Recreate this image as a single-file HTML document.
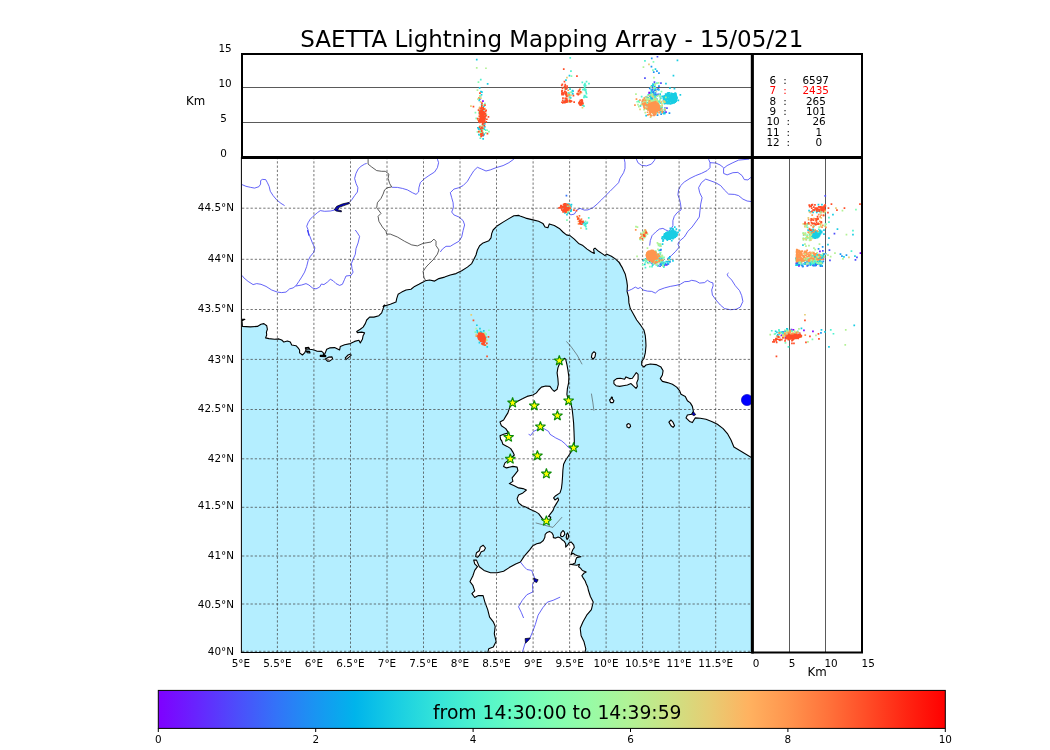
<!DOCTYPE html>
<html lang="en"><head><meta charset="utf-8"><title>SAETTA Lightning Mapping Array - 15/05/21</title>
<style>html,body{margin:0;padding:0;background:#fff;}body{width:1050px;height:750px;overflow:hidden;}svg{display:block;will-change:transform;}text{font-family:"DejaVu Sans","Liberation Sans",sans-serif;fill:#000;}</style>
</head><body>
<svg width="1050" height="750" viewBox="0 0 1050 750">
<defs>
<clipPath id="cm"><rect x="242" y="157" width="510" height="495.5"/></clipPath>
<clipPath id="ct"><rect x="242" y="54" width="510" height="103"/></clipPath>
<clipPath id="cr"><rect x="752" y="157" width="110" height="495.5"/></clipPath>
<linearGradient id="rb" x1="0" y1="0" x2="1" y2="0"><stop offset="0" stop-color="#7f00ff"/><stop offset="0.05" stop-color="#6725fe"/><stop offset="0.1" stop-color="#4d4dfb"/><stop offset="0.15" stop-color="#3373f8"/><stop offset="0.2" stop-color="#1995f2"/><stop offset="0.25" stop-color="#00b4eb"/><stop offset="0.3" stop-color="#18cde3"/><stop offset="0.35" stop-color="#32e2d9"/><stop offset="0.4" stop-color="#4cf2ce"/><stop offset="0.45" stop-color="#66fbc1"/><stop offset="0.5" stop-color="#80feb3"/><stop offset="0.55" stop-color="#98fba5"/><stop offset="0.6" stop-color="#b2f295"/><stop offset="0.65" stop-color="#cce284"/><stop offset="0.7" stop-color="#e6cd73"/><stop offset="0.75" stop-color="#ffb260"/><stop offset="0.8" stop-color="#ff954e"/><stop offset="0.85" stop-color="#ff733b"/><stop offset="0.9" stop-color="#ff4d27"/><stop offset="0.95" stop-color="#ff2512"/><stop offset="1" stop-color="#ff0000"/></linearGradient>
</defs>
<rect width="1050" height="750" fill="#fff"/>
<g clip-path="url(#cm)">
<rect x="242" y="157" width="510" height="496" fill="#b4eeff"/>
<path d="M236 319.3 L241.4 319.3 L244.9 319.3 L242 320.7 L242.4 326.4 L250.3 326.9 L257.4 326.4 L261 324.3 L263.9 323.6 L266.7 325.7 L267.4 329.3 L266.4 332.1 L266.7 335 L265.6 337.9 L268.9 338.6 L274.6 339.3 L278.9 338.9 L281.7 340 L283.9 342.1 L287.4 341 L290.3 342.1 L291.7 345 L296 345.7 L298.1 347.9 L299.6 350 L299.6 352.9 L302.4 355 L304.6 352.9 L306 350 L305.3 347.9 L308.9 347.9 L309.6 349.3 L313.1 349.7 L316.7 351.1 L321.7 351.4 L323.4 352.9 L323.4 355.7 L325.3 352.9 L326.7 349.3 L329.6 347.9 L334.6 347.6 L338.1 349.3 L339.6 350 L340.3 346.4 L344.6 344.7 L350.3 343.6 L354.6 341.4 L358.9 340.3 L360.3 342.9 L362.4 339.3 L363.1 335.7 L364.6 332.9 L361.7 332.1 L357.4 332.6 L356.7 331.4 L360.3 329.3 L363.1 327.1 L365.3 323.6 L366.7 320 L369.6 317.1 L373.9 317.1 L378.9 315.7 L381.7 312.9 L383.1 308.6 L384.6 305 L383.1 306.4 L390.3 304.3 L396 302.1 L396.7 298.6 L398.1 294.3 L401.7 292.1 L406 290 L411 289.3 L414.6 286.4 L418.9 284.3 L423.1 282.1 L425.3 280.7 L429.6 280 L434.6 281.1 L438.9 278.6 L444.6 277.1 L450.3 275 L456 273.6 L461.7 270.7 L467.4 267.1 L471.7 263.6 L473.9 259.3 L476 255 L477.4 250 L479.6 245.7 L483.1 242.9 L488.9 240.7 L491 237.9 L491.7 233.6 L493.1 230 L497.4 225.7 L503.1 222.1 L508.9 218.6 L513.9 215.7 L518.9 215.4 L520 215.9 L525.7 218.1 L532.9 219.9 L538.6 221.3 L542.9 223.4 L545 227 L547.9 227.7 L549.3 223.9 L554.3 225.6 L559.3 228.4 L562.9 232 L566.4 234.9 L570 235.6 L574.3 239.1 L578.6 243.4 L582.9 245.6 L587.1 249.1 L591.4 252 L594.3 253.4 L593.6 249.1 L595 248.1 L598.6 251.3 L602.9 254.1 L605 255.6 L606.4 254.1 L611.4 256.3 L615.7 259.1 L620 263.4 L618.9 262.1 L622.4 267.9 L625.3 274.3 L626.7 280.7 L627.4 285.7 L627.1 291.4 L628.6 297.1 L628.9 302.9 L630.3 308.6 L633.1 313.6 L636.7 320 L641 325.7 L643.9 330 L645.3 335.7 L645.7 340 L645.7 340 L646 345.7 L645.3 352.9 L643.9 358.6 L641.7 361.4 L641.7 365 L643.9 367.1 L646 365 L650.3 364 L656 364.6 L661 367.1 L663.1 370.7 L662.4 375 L660.3 378.6 L662.4 381.4 L667.4 382.6 L672.4 384.3 L676.7 387.1 L679.6 390.7 L681 394.3 L685.3 396.4 L687.4 400.7 L690.3 402.9 L692.4 406.4 L693.4 411.4 L691.7 414.3 L687.4 415 L686 417.9 L689.6 421.4 L692.4 422.6 L693.9 420 L695.3 417.9 L700.3 418.3 L706 419.3 L711.7 421.4 L717.4 424.3 L723.1 428.6 L727.4 433.6 L731 440 L733.9 447 L753.1 458.6 L760 470 L760 150 L236 150Z" fill="#fff" stroke="#000" stroke-width="1.1" stroke-linejoin="round"/>
<path d="M305.7 347.9 L308.6 347.4 L309.1 348.9 L306.7 349.3Z" fill="#fff" stroke="#000" stroke-width="1.1" stroke-linejoin="round"/>
<path d="M306.3 351.1 L309.6 351.4 L310 352.9 L307.1 352.6Z" fill="#fff" stroke="#000" stroke-width="1.1" stroke-linejoin="round"/>
<path d="M320.3 355.3 L325.7 355.4 L325.7 356.6 L320.3 356.4Z" fill="#fff" stroke="#000" stroke-width="1.1" stroke-linejoin="round"/>
<path d="M325.3 358.9 L328.9 357.1 L332 356.9 L332.6 358.9 L329.6 361.1 L327.4 361.1Z" fill="#fff" stroke="#000" stroke-width="1.1" stroke-linejoin="round"/>
<path d="M345.3 357.9 L348.1 355 L350.6 354 L351.1 355.4 L348.1 357.9 L346 359.7Z" fill="#fff" stroke="#000" stroke-width="1.1" stroke-linejoin="round"/>
<path d="M613.9 380.7 L616.7 378.6 L620.3 378.3 L624.6 379.3 L626 376.9 L629.6 378.6 L632.4 378.3 L634.6 375 L636.3 372.6 L638.1 374.3 L638.1 379.3 L636.7 382.9 L637.4 386.4 L636 388.3 L633.1 385.7 L631 383.6 L627.4 385 L623.1 385.7 L619.6 386.4 L616 385.7 L613.9 383.6Z" fill="#fff" stroke="#000" stroke-width="1.1" stroke-linejoin="round"/>
<path d="M609.6 400 L611 398.6 L611.4 397.1 L612.4 397.4 L612.3 398.9 L613.9 400.7 L613.1 402.6 L610.6 402.6Z" fill="#fff" stroke="#000" stroke-width="1.1" stroke-linejoin="round"/>
<path d="M626.7 425 L628.1 423.6 L630 424.3 L630.6 426.4 L629.1 427.9 L627.1 427.1Z" fill="#fff" stroke="#000" stroke-width="1.1" stroke-linejoin="round"/>
<path d="M668.9 422.1 L671 420 L672.9 422.1 L674.6 425.7 L673.1 427.4 L671 425.7Z" fill="#fff" stroke="#000" stroke-width="1.1" stroke-linejoin="round"/>
<path d="M591.4 357.1 L592.1 353.6 L594 351.7 L595.7 353.1 L595 356.9 L592.9 359.3Z" fill="#fff" stroke="#000" stroke-width="1.1" stroke-linejoin="round"/>
<path d="M500.7 440 L500 435.7 L503.6 434.3 L508.6 432.9 L505.7 428.6 L501.4 425.7 L500 422.1 L503.6 420 L505.7 416.4 L507.9 412.9 L509.3 408.6 L510.7 405.7 L515 402.9 L518.6 400.7 L522.9 398.6 L527.1 396.4 L532.9 395 L536.4 392.9 L538.6 390 L541.4 387.1 L545.7 386 L550 386.4 L552.1 389.3 L554.3 391.4 L557.1 389.3 L558.3 384.3 L557.9 378.6 L557.1 372.9 L557.9 367.9 L559.3 364.3 L561.4 361.4 L564.3 358.3 L565.7 359.3 L566.9 364.3 L567.9 370 L568.9 377.1 L568.6 382.9 L567.4 388.6 L566.9 394.3 L567.9 398.6 L570.7 402.9 L572.1 408.6 L572.9 415.7 L573.6 422.9 L574 431.4 L574.3 440 L574.3 447 L573.6 447.1 L571.4 451.4 L568.6 455.7 L565.7 460 L563.6 464.3 L562.9 470 L562.6 475.7 L562.1 482.9 L561.4 488.6 L560 492.9 L555.7 495.7 L553.6 497.9 L555 500 L557.9 497.9 L558.6 500 L556.4 503.6 L554.3 507.1 L552.9 510.7 L550 514.3 L548.6 516.4 L550.7 517.1 L550 520 L547.1 522.1 L547.1 522.1 L545 521.4 L542.9 519.3 L540.7 516.4 L538.6 513.6 L535 511.4 L530 509.3 L525.7 507.1 L522.1 505.7 L518.6 502.9 L517.1 498.6 L518.6 495 L522.9 492.9 L526.4 490 L522.9 488.6 L518.6 487.9 L514.3 485.7 L509.3 483.6 L512.9 481.4 L512.1 477.9 L515 474.3 L517.9 470.7 L517.1 467.1 L512.9 466.4 L506.4 467.9 L503.6 466.4 L505 462.9 L510.7 458.6 L514.3 455 L512.9 452.1 L510.7 448.6 L507.1 446.4 L502.9 444.3 L501.4 440Z" fill="#fff" stroke="#000" stroke-width="1.1" stroke-linejoin="round"/>
<path d="M487.7 652.9 L488.7 648.8 L493.3 647 L496.1 641.4 L494.3 633.9 L495.2 626.4 L493.3 621.8 L489.6 617.1 L487.7 609.6 L484.9 602.1 L483.1 595.6 L478.4 595.6 L474.7 597.5 L471.9 593.7 L474.7 590.9 L472.8 585.3 L470 581.6 L472.8 576 L474.7 570.4 L477.5 566.7 L474.7 563.9 L473.7 560.1 L476.5 560.1 L479.3 566.7 L484 570.4 L490.5 572.8 L497.1 572.8 L503.6 571.3 L509.2 567.6 L515.7 563.9 L520.4 562 L524.1 556.4 L529.7 549.9 L532.9 545.7 L536.7 543.8 L540.5 542.9 L543.3 540.5 L544.8 537.6 L545.2 534.3 L547.1 532.4 L549.5 531.4 L551.9 532.9 L553.3 535.2 L553.3 537.6 L555.7 538.1 L558.1 537.1 L560.5 538.1 L562.4 540 L564.3 541.4 L565.7 543.8 L565.7 547.1 L567.6 545.2 L569 542.9 L571 541.9 L572.4 543.3 L573.8 545.2 L574.3 547.6 L572.9 549.5 L571.9 551.9 L571 554.8 L572.9 553.3 L575.2 554.8 L577.6 555.7 L581 556.7 L578.6 557.1 L576.7 557.6 L575.7 560 L575.2 562.9 L572.9 564 L569.5 564.3 L572.9 564.8 L576.7 565.2 L579.5 564.3 L578.6 566.7 L580.5 568.1 L582.4 570.5 L586.2 571.9 L583.8 573.3 L581.9 575.7 L583.3 578.1 L585.2 581 L586.2 583.8 L587.6 586.7 L588.3 590 L590.4 596.5 L593.2 602.1 L591.4 609.6 L586.7 615.2 L583 621.8 L580.2 628.3 L581.1 635.8 L583.9 641.4 L585.8 648.8 L584.8 652.9Z" fill="#fff" stroke="#000" stroke-width="1.1" stroke-linejoin="round"/>
<path d="M475.6 556.4 L476.5 552.7 L479.3 550.8 L480.3 547.1 L483.1 545.2 L485.5 548 L484 550.8 L481.2 551.7 L479.3 555.5 L477.5 557.3Z" fill="#fff" stroke="#000" stroke-width="1.1" stroke-linejoin="round"/>
<path d="M560.5 535.7 L561 532.9 L562.9 530.5 L564.3 531.9 L564.8 534.3 L563.3 536.2 L561.9 536.7Z" fill="#fff" stroke="#000" stroke-width="1.1" stroke-linejoin="round"/>
<path d="M566.2 537.6 L566.7 534.3 L567.6 532.9 L568.6 535.2 L568.1 538.1 L567.1 539.5Z" fill="#fff" stroke="#000" stroke-width="1.1" stroke-linejoin="round"/>
<g fill="none" stroke="#3c3cf5" stroke-width="0.8" stroke-linejoin="round">
<path d="M624.3 159.1 L625 162.7 L625 168.4 L623.6 172.7 L620 178.4 L618.6 182.7 L614.3 187 L610 191.3 L605.7 195.6 L601.4 199.9 L597.1 204.1 L592.9 207.7 L587.9 209.9 L584.3 210.1 L580 208.4 L577.1 209.9 L574.3 214.1 L570.7 214.9 L568.6 212.7"/>
<path d="M627.4 291.1 L631.7 289.3 L635.3 287.1 L638.1 288.6 L640.3 287.4 L643.1 290 L647.4 291.1 L651.7 291.4 L655.3 293.1 L658.9 290 L664.6 287.9 L670.3 286.4 L676 285.4 L680.3 284.3 L684.6 281.7 L688.9 281.4 L691.7 280.3 L696 281.1 L699.6 283.1 L704.6 282.6 L707.4 280.3 L710.3 282.1 L712.9 282.9 L713.1 285.7 L711.7 290 L712.4 295 L716 300 L720.3 305 L724.6 308.6 L730.3 309.7 L736 309.3 L740.3 307.1 L742.9 301.4 L741.7 295.7 L739.6 290.7 L735.3 285.7 L731.7 280 L728.1 276.4 L727.1 274.3 L728.6 272.9"/>
<path d="M528.6 434.3 L530.7 435.4 L533.6 431.4 L537.1 429.7 L540.7 427.9 L544.3 428.9 L548.6 431.4 L550 434.3 L555.7 437.9 L561.4 440.7 L565.7 444.3 L567.9 447 L572.1 449.3"/>
<path d="M520.4 562 L524.1 566.7 L526.9 569.5 L531.6 570.4 L533.5 575.1 L535.3 579.7 L532.5 584.4 L532.9 591.9 L526.9 594.7 L522.3 600.3 L518.5 606.8 L521.3 612.4 L523.6 618"/>
<path d="M560.2 597.1 L553.1 600.3 L547.5 602.1 L542.8 607.7 L538.1 615.2 L535.3 624.6 L532.5 632 L529.7 638.6 L525.1 643.2 L522.3 652.6"/>
<path d="M242 184.6 L246 186.3 L250.3 187.3 L254.6 188.1 L258.9 186.7 L260.6 184.1 L260.6 180.6 L262.4 179.4 L265.7 179.6 L267.4 182.7 L269.1 186.3 L270.3 191.3 L273.1 195.6 L276.7 199.9 L281 203.4 L284.6 205.6"/>
<path d="M366.7 163.4 L364.6 164.1 L361 166.3 L358.1 169.1 L356 173.4 L354.6 178.4 L356 183.4 L357.9 187.7 L357.4 192 L354.6 195.6 L351.7 199.9 L348.9 202.7 L341.7 204.9 L336 207.7 L334.6 210.1 L330.3 211 L324.6 211.3 L320.3 210.6 L317.4 212.7 L313.1 216.3 L310.3 219.1 L308.1 222.7 L306.7 226.3 L308.1 229.9 L308.9 235.6 L307.4 230 L309.6 235.7 L312.4 242.9 L314.9 247.9 L313.9 252.1 L310.3 256.4 L308.1 260.7 L306.7 266.4 L304.6 272.1 L301.7 277.1 L298.9 281.4 L296 285.7 L293.1 287.9 L289.6 288.9 L286 292.1 L281.7 292.6 L277.4 292.1 L271.7 290 L266 286.4 L261 284.3 L256.7 283.6 L253.1 284.6 L248.1 281.4 L243.9 277.9 L242 275.4"/>
<path d="M355.3 230.1 L355.3 230 L357.4 232.9 L359.6 236.4 L358.1 242.9 L356 248.6 L355.3 254.3 L353.1 259.3 L351.4 263.6 L352 268.6 L353.1 272.1 L351 275.4 L346 276 L344.6 279.3 L342.4 284.3 L339.6 285.4 L336 283.6 L333.1 280.7 L330.3 279.3 L327.4 282.1 L323.9 284.6 L321.4 284 L319.6 287.1 L316 288.9 L312.4 287.9 L308.9 285 L306 283.6 L301.7 285 L296 286"/>
<path d="M437.4 159.1 L438.6 162.7 L437.4 167.7 L434.6 172 L428.9 175.6 L423.9 179.1 L420.3 182.7 L418.9 187.7 L418.6 192 L416 194.4 L412.4 192.7 L407.4 189.9 L402.4 188.4 L397.4 187.4 L392 187.3"/>
<path d="M513.9 159.1 L508.9 162.7 L503.1 165.6 L496 167.7 L490.3 169.9 L486 171 L481.7 169.1 L477.4 167.3 L473.9 170.6 L470.3 176.3 L467.4 181.3 L463.1 185.6 L458.9 187.7 L453.9 189.1 L450.3 192.7 L451.7 197.7 L453.1 202.7 L453.4 207.7 L451.7 212 L453.9 214.9 L458.9 217 L463.1 220.6 L464.6 224.9 L463.1 230.6 L461.7 237 L458.9 241.3 L453.9 244.1 L450.3 246.3 L446 246.3 L442.4 249.1 L440.3 252"/>
<path d="M636.4 159.1 L637.9 162.7 L641.4 165.3 L646.4 165.9 L651.4 164.1 L654.3 160.6 L655 159.1"/>
<path d="M708.6 159.1 L710 162.7 L710 167.7 L707.1 170.6 L701.4 173.4 L695.7 175.6 L690 178.4 L684.3 182 L680.7 185.6 L678.6 189.9 L677.9 194.9 L679.7 199.9 L680.7 204.9 L681.1 209.9 L677.1 212.7 L674.3 216.3 L672.9 220.6 L672.9 225.6 L671.4 228.4 L668.6 231.3 L665.7 229.9 L662.9 228.4 L659.3 229.1 L655.7 232 L652.1 235.6 L650.3 240.6 L649.7 245.6"/>
<path d="M710 162.7 L715.7 163 L720 164.9 L723.6 167.7"/>
<path d="M751.4 201.6 L747.1 201 L742.9 199.1 L738.6 195.6 L734.3 194.4 L728.6 194.1 L724.3 189.9 L720.7 185.6 L715.7 182.7 L710 180.6 L705.7 179.1 L701.4 182.7 L698.6 187.7 L699.7 192.7 L702.1 197.7 L700.7 204.1 L700 210.6 L699.3 217 L695.7 222 L692.1 227 L687.9 231.3 L684.3 237 L679.3 241.3 L677.9 244.1 L679.3 247 L675.7 251.3 L671.4 255.6 L667.1 259.1"/>
<path d="M749.3 159.1 L738.6 160.1 L732.9 162.7 L727.1 165.6 L723.6 168.4 L723.6 173.4 L727.1 174.9 L732.9 172.7 L737.9 172.4 L742.1 175.6 L744.3 179.6 L747.9 179.9 L751.4 177"/>
</g>
<g fill="none" stroke="#333" stroke-width="0.8" stroke-linejoin="round">
<path d="M368.1 159.1 L368.1 164.1 L371.7 167 L376.7 170.6 L381.7 171.3 L385.3 171.3 L388.9 174.1 L388.1 178.4 L389.6 183.4 L391.7 187 L387.4 187.7 L384.6 189.9 L383.1 194.1 L381 198.4 L377.4 202.7 L376.7 207.7 L381 213.4 L378.1 216.3 L378.9 221.3 L382.4 227 L386 231.3 L386.7 234.1 L390.3 234.1 L397.4 237 L404.6 241.3 L411.7 244.9 L417.4 245.9 L423.1 243.4 L431 242 L433.9 239.1 L436 241.3 L436 245.6 L438.9 249.9 L437.4 254.1 L433.1 259.9 L428.9 264 L426 267.1 L423.1 271.4 L423.9 277.1 L425.3 280"/>
</g>
<g fill="none" stroke="#444" stroke-width="0.6">
<path d="M566.4 341.4 L571.4 347.1 L577.1 355 L582.1 364.3"/>
<path d="M591.4 393.6 L592.9 402.9 L593.9 410.7"/>
<path d="M535.7 522.9 L552.9 527.4 L562.1 517.1"/>
</g>
<path d="M349.1 202.4 L342.4 203.9 L336.7 206.3 L334.3 209.6 L336 211 L341.4 211.9 L341.4 210.7 L337.7 209.9 L339.1 207.3 L343.9 205.6 L349.6 203.6Z" fill="#0000c8" stroke="#000" stroke-width="0.7"/>
<path d="M691.7 414.3 L693.4 411.7 L695.7 414.6 L693.9 415.7Z" fill="#0000c8" stroke="#000" stroke-width="0.7"/>
<path d="M533.5 578.2 L538.1 579.7 L536.7 582.5 L534.4 581.6Z" fill="#0000c8" stroke="#000" stroke-width="0.7"/>
<path d="M525.1 638.6 L530.3 638 L527.9 641 L525.5 643.2Z" fill="#0000c8" stroke="#000" stroke-width="0.7"/>
<circle cx="747" cy="400" r="5.6" fill="#0000ff" stroke="#0000c0" stroke-width="0.6"/>
<g stroke="#404040" stroke-width="0.72" stroke-dasharray="2.3 1.95" fill="none">
<path d="M277.4 157V652.5"/>
<path d="M313.9 157V652.5"/>
<path d="M350.5 157V652.5"/>
<path d="M387.0 157V652.5"/>
<path d="M423.5 157V652.5"/>
<path d="M460.0 157V652.5"/>
<path d="M496.5 157V652.5"/>
<path d="M533.1 157V652.5"/>
<path d="M569.6 157V652.5"/>
<path d="M606.1 157V652.5"/>
<path d="M642.6 157V652.5"/>
<path d="M679.1 157V652.5"/>
<path d="M715.7 157V652.5"/>
<path d="M242 604.0H752"/>
<path d="M242 556.0H752"/>
<path d="M242 507.3H752"/>
<path d="M242 458.8H752"/>
<path d="M242 409.5H752"/>
<path d="M242 359.4H752"/>
<path d="M242 309.5H752"/>
<path d="M242 259.3H752"/>
<path d="M242 208.2H752"/>
<path d="M242 651.3H752"/>
</g>
<path d="M667.8 260.4h1.7v1.7h-1.7zM655.3 261.4h1.7v1.7h-1.7zM657.7 260.7h1.7v1.7h-1.7zM659.5 259.7h1.7v1.7h-1.7zM657.9 260.4h1.7v1.7h-1.7zM667.0 263.2h1.7v1.7h-1.7zM660.2 262.3h1.7v1.7h-1.7zM665.1 264.1h1.7v1.7h-1.7z" fill="#7f00ff"/><path d="M661.4 262.2h1.7v1.7h-1.7zM648.9 260.4h1.7v1.7h-1.7zM657.3 264.7h1.7v1.7h-1.7zM664.5 262.9h1.7v1.7h-1.7zM667.5 262.9h1.7v1.7h-1.7zM659.9 263.3h1.7v1.7h-1.7zM659.2 265.4h1.7v1.7h-1.7zM661.3 261.1h1.7v1.7h-1.7zM666.2 263.8h1.7v1.7h-1.7zM660.9 260.9h1.7v1.7h-1.7zM646.4 259.1h1.7v1.7h-1.7zM663.3 264.6h1.7v1.7h-1.7zM656.7 261.5h1.7v1.7h-1.7zM652.0 261.7h1.7v1.7h-1.7zM662.8 265.0h1.7v1.7h-1.7zM662.2 259.4h1.7v1.7h-1.7zM655.9 260.7h1.7v1.7h-1.7zM651.3 262.5h1.7v1.7h-1.7zM659.6 249.2h1.7v1.7h-1.7z" fill="#4d4dfb"/><path d="M565.6 194.7h1.7v1.7h-1.7z" fill="#3373f8"/><path d="M481.6 339.1h1.7v1.7h-1.7zM643.7 259.4h1.7v1.7h-1.7zM650.3 258.6h1.7v1.7h-1.7zM650.4 256.1h1.7v1.7h-1.7zM658.1 257.9h1.7v1.7h-1.7zM669.0 256.0h1.7v1.7h-1.7zM656.7 261.0h1.7v1.7h-1.7zM652.5 260.6h1.7v1.7h-1.7zM652.2 256.9h1.7v1.7h-1.7zM659.2 256.3h1.7v1.7h-1.7zM658.3 261.1h1.7v1.7h-1.7zM653.1 262.7h1.7v1.7h-1.7zM664.0 263.3h1.7v1.7h-1.7zM659.4 263.6h1.7v1.7h-1.7zM662.1 262.1h1.7v1.7h-1.7zM653.8 260.3h1.7v1.7h-1.7zM662.2 261.6h1.7v1.7h-1.7zM660.6 264.2h1.7v1.7h-1.7zM659.8 261.7h1.7v1.7h-1.7zM666.8 262.6h1.7v1.7h-1.7zM659.7 260.5h1.7v1.7h-1.7zM660.1 248.7h1.7v1.7h-1.7zM669.1 261.1h1.7v1.7h-1.7zM663.1 263.1h1.7v1.7h-1.7z" fill="#1995f2"/><path d="M476.3 329.7h1.7v1.7h-1.7zM479.7 330.8h1.7v1.7h-1.7zM477.5 336.1h1.7v1.7h-1.7zM482.3 335.6h1.7v1.7h-1.7zM480.7 336.9h1.7v1.7h-1.7zM482.9 330.0h1.7v1.7h-1.7zM478.6 341.7h1.7v1.7h-1.7zM483.9 336.1h1.7v1.7h-1.7zM477.5 336.9h1.7v1.7h-1.7zM485.0 336.3h1.7v1.7h-1.7zM479.2 334.0h1.7v1.7h-1.7zM480.7 331.5h1.7v1.7h-1.7zM476.6 331.5h1.7v1.7h-1.7zM481.6 335.8h1.7v1.7h-1.7zM479.3 333.2h1.7v1.7h-1.7zM476.0 324.4h1.7v1.7h-1.7zM479.1 327.8h1.7v1.7h-1.7zM486.4 346.1h1.7v1.7h-1.7zM570.1 205.8h1.7v1.7h-1.7zM566.3 208.4h1.7v1.7h-1.7zM569.1 204.5h1.7v1.7h-1.7zM568.2 208.4h1.7v1.7h-1.7zM567.1 212.0h1.7v1.7h-1.7zM565.7 204.0h1.7v1.7h-1.7zM570.4 209.0h1.7v1.7h-1.7zM566.9 211.3h1.7v1.7h-1.7zM569.9 210.0h1.7v1.7h-1.7zM567.2 207.1h1.7v1.7h-1.7zM565.2 208.8h1.7v1.7h-1.7zM570.1 210.3h1.7v1.7h-1.7zM568.1 205.4h1.7v1.7h-1.7zM570.1 209.2h1.7v1.7h-1.7zM567.2 209.5h1.7v1.7h-1.7zM567.5 206.0h1.7v1.7h-1.7zM567.9 207.5h1.7v1.7h-1.7zM564.1 212.1h1.7v1.7h-1.7zM565.7 205.6h1.7v1.7h-1.7zM569.6 209.6h1.7v1.7h-1.7zM568.7 206.9h1.7v1.7h-1.7zM567.0 206.7h1.7v1.7h-1.7zM566.1 213.7h1.7v1.7h-1.7zM570.6 203.7h1.7v1.7h-1.7zM568.1 203.2h1.7v1.7h-1.7zM585.7 222.4h1.7v1.7h-1.7zM582.1 222.9h1.7v1.7h-1.7zM584.6 222.5h1.7v1.7h-1.7zM583.0 221.6h1.7v1.7h-1.7zM584.8 223.6h1.7v1.7h-1.7zM584.7 223.2h1.7v1.7h-1.7zM665.4 233.7h1.7v1.7h-1.7zM669.3 236.7h1.7v1.7h-1.7zM668.5 230.4h1.7v1.7h-1.7zM674.4 236.3h1.7v1.7h-1.7zM665.2 235.7h1.7v1.7h-1.7zM665.8 234.7h1.7v1.7h-1.7zM674.9 232.9h1.7v1.7h-1.7zM670.2 231.3h1.7v1.7h-1.7zM663.3 234.5h1.7v1.7h-1.7zM673.1 234.3h1.7v1.7h-1.7zM670.7 232.6h1.7v1.7h-1.7zM669.3 233.7h1.7v1.7h-1.7zM671.8 232.7h1.7v1.7h-1.7zM668.5 233.2h1.7v1.7h-1.7zM663.2 235.8h1.7v1.7h-1.7zM670.2 230.5h1.7v1.7h-1.7zM667.0 237.4h1.7v1.7h-1.7zM664.0 237.3h1.7v1.7h-1.7zM667.0 237.5h1.7v1.7h-1.7zM667.8 237.9h1.7v1.7h-1.7zM672.0 232.9h1.7v1.7h-1.7zM666.0 235.0h1.7v1.7h-1.7zM664.3 235.4h1.7v1.7h-1.7zM665.9 237.9h1.7v1.7h-1.7zM668.5 236.5h1.7v1.7h-1.7zM670.9 236.7h1.7v1.7h-1.7zM672.9 232.6h1.7v1.7h-1.7zM668.7 232.1h1.7v1.7h-1.7zM664.7 235.9h1.7v1.7h-1.7zM663.7 233.3h1.7v1.7h-1.7zM672.3 229.8h1.7v1.7h-1.7zM666.8 237.3h1.7v1.7h-1.7zM669.6 234.8h1.7v1.7h-1.7zM666.2 235.4h1.7v1.7h-1.7zM664.6 236.4h1.7v1.7h-1.7zM671.9 229.9h1.7v1.7h-1.7zM671.4 232.6h1.7v1.7h-1.7zM672.8 230.2h1.7v1.7h-1.7zM666.5 231.2h1.7v1.7h-1.7zM667.6 234.5h1.7v1.7h-1.7zM673.5 236.8h1.7v1.7h-1.7zM674.0 231.6h1.7v1.7h-1.7zM672.6 230.2h1.7v1.7h-1.7zM664.0 235.1h1.7v1.7h-1.7zM668.9 230.8h1.7v1.7h-1.7zM674.1 230.5h1.7v1.7h-1.7zM668.6 238.0h1.7v1.7h-1.7zM665.5 234.0h1.7v1.7h-1.7zM673.5 232.4h1.7v1.7h-1.7zM671.8 237.8h1.7v1.7h-1.7zM672.1 235.3h1.7v1.7h-1.7zM673.4 232.3h1.7v1.7h-1.7zM671.2 232.6h1.7v1.7h-1.7zM673.6 233.8h1.7v1.7h-1.7zM664.7 233.9h1.7v1.7h-1.7zM667.5 233.2h1.7v1.7h-1.7zM668.0 231.8h1.7v1.7h-1.7zM665.2 233.1h1.7v1.7h-1.7zM665.5 234.2h1.7v1.7h-1.7zM664.5 233.2h1.7v1.7h-1.7zM665.6 233.1h1.7v1.7h-1.7zM673.2 234.6h1.7v1.7h-1.7zM673.1 236.5h1.7v1.7h-1.7zM669.3 237.4h1.7v1.7h-1.7zM673.4 231.9h1.7v1.7h-1.7zM667.1 235.2h1.7v1.7h-1.7zM663.9 232.9h1.7v1.7h-1.7zM672.3 233.1h1.7v1.7h-1.7zM673.4 234.7h1.7v1.7h-1.7zM672.3 236.6h1.7v1.7h-1.7zM669.4 238.3h1.7v1.7h-1.7zM672.6 232.2h1.7v1.7h-1.7zM668.8 232.9h1.7v1.7h-1.7zM674.2 235.6h1.7v1.7h-1.7zM676.1 234.3h1.7v1.7h-1.7zM672.5 236.0h1.7v1.7h-1.7zM674.9 230.5h1.7v1.7h-1.7zM666.6 236.1h1.7v1.7h-1.7zM673.2 230.2h1.7v1.7h-1.7zM669.8 234.0h1.7v1.7h-1.7zM674.9 232.0h1.7v1.7h-1.7zM663.2 234.8h1.7v1.7h-1.7zM669.7 236.4h1.7v1.7h-1.7zM663.4 235.5h1.7v1.7h-1.7zM673.2 231.1h1.7v1.7h-1.7zM673.1 232.4h1.7v1.7h-1.7zM668.7 235.0h1.7v1.7h-1.7zM664.2 235.9h1.7v1.7h-1.7zM670.2 231.4h1.7v1.7h-1.7zM666.2 237.0h1.7v1.7h-1.7zM670.3 235.9h1.7v1.7h-1.7zM669.6 234.8h1.7v1.7h-1.7zM667.6 234.9h1.7v1.7h-1.7zM670.9 237.3h1.7v1.7h-1.7zM669.5 232.6h1.7v1.7h-1.7zM667.3 232.7h1.7v1.7h-1.7zM674.0 231.6h1.7v1.7h-1.7zM669.0 232.0h1.7v1.7h-1.7zM665.4 236.1h1.7v1.7h-1.7zM672.1 236.0h1.7v1.7h-1.7zM671.2 237.6h1.7v1.7h-1.7zM672.5 231.6h1.7v1.7h-1.7zM666.8 233.2h1.7v1.7h-1.7zM675.6 235.2h1.7v1.7h-1.7zM666.8 234.9h1.7v1.7h-1.7zM669.3 230.8h1.7v1.7h-1.7zM670.6 230.7h1.7v1.7h-1.7zM671.2 231.5h1.7v1.7h-1.7zM674.1 231.0h1.7v1.7h-1.7zM663.9 236.1h1.7v1.7h-1.7zM666.7 232.3h1.7v1.7h-1.7zM673.4 234.3h1.7v1.7h-1.7zM668.1 233.3h1.7v1.7h-1.7zM663.3 235.5h1.7v1.7h-1.7zM672.2 237.7h1.7v1.7h-1.7zM670.2 236.3h1.7v1.7h-1.7zM668.1 232.2h1.7v1.7h-1.7zM671.3 237.2h1.7v1.7h-1.7zM667.2 238.0h1.7v1.7h-1.7zM665.9 237.9h1.7v1.7h-1.7zM669.1 230.5h1.7v1.7h-1.7zM672.5 236.8h1.7v1.7h-1.7zM674.7 234.4h1.7v1.7h-1.7zM670.1 234.5h1.7v1.7h-1.7zM667.8 231.7h1.7v1.7h-1.7zM675.3 233.8h1.7v1.7h-1.7zM665.9 234.3h1.7v1.7h-1.7zM666.3 235.0h1.7v1.7h-1.7zM667.1 236.8h1.7v1.7h-1.7zM667.4 237.4h1.7v1.7h-1.7zM668.9 234.2h1.7v1.7h-1.7zM675.4 234.0h1.7v1.7h-1.7zM668.0 237.9h1.7v1.7h-1.7zM667.1 235.9h1.7v1.7h-1.7zM672.2 235.2h1.7v1.7h-1.7zM666.8 234.6h1.7v1.7h-1.7zM668.7 237.0h1.7v1.7h-1.7zM676.1 234.1h1.7v1.7h-1.7zM673.1 235.2h1.7v1.7h-1.7zM667.5 238.4h1.7v1.7h-1.7zM667.7 233.1h1.7v1.7h-1.7zM670.2 232.0h1.7v1.7h-1.7zM664.9 235.7h1.7v1.7h-1.7zM672.3 233.9h1.7v1.7h-1.7zM667.6 233.8h1.7v1.7h-1.7zM673.7 231.1h1.7v1.7h-1.7zM673.6 233.9h1.7v1.7h-1.7zM667.1 237.8h1.7v1.7h-1.7zM672.9 233.5h1.7v1.7h-1.7zM666.1 234.0h1.7v1.7h-1.7zM675.3 235.1h1.7v1.7h-1.7zM674.1 231.7h1.7v1.7h-1.7zM667.9 235.5h1.7v1.7h-1.7zM666.0 233.2h1.7v1.7h-1.7zM668.9 235.6h1.7v1.7h-1.7zM669.0 235.3h1.7v1.7h-1.7zM674.8 233.0h1.7v1.7h-1.7zM670.9 232.7h1.7v1.7h-1.7zM669.8 236.1h1.7v1.7h-1.7zM670.0 235.2h1.7v1.7h-1.7zM668.5 235.6h1.7v1.7h-1.7zM672.1 236.1h1.7v1.7h-1.7zM669.0 236.0h1.7v1.7h-1.7zM669.5 236.6h1.7v1.7h-1.7zM673.9 232.6h1.7v1.7h-1.7zM671.4 232.3h1.7v1.7h-1.7zM669.5 235.7h1.7v1.7h-1.7zM670.7 232.5h1.7v1.7h-1.7zM676.3 233.4h1.7v1.7h-1.7zM665.8 234.1h1.7v1.7h-1.7zM672.1 231.3h1.7v1.7h-1.7zM671.8 237.3h1.7v1.7h-1.7zM673.7 236.3h1.7v1.7h-1.7zM670.3 230.5h1.7v1.7h-1.7zM665.2 232.0h1.7v1.7h-1.7zM674.4 232.4h1.7v1.7h-1.7zM671.5 235.1h1.7v1.7h-1.7zM673.5 235.9h1.7v1.7h-1.7zM674.2 233.9h1.7v1.7h-1.7zM667.8 238.2h1.7v1.7h-1.7zM673.0 233.9h1.7v1.7h-1.7zM664.9 233.1h1.7v1.7h-1.7zM670.3 234.2h1.7v1.7h-1.7zM665.8 235.9h1.7v1.7h-1.7zM665.6 235.0h1.7v1.7h-1.7zM671.6 234.3h1.7v1.7h-1.7zM666.5 231.3h1.7v1.7h-1.7zM675.7 232.3h1.7v1.7h-1.7zM667.4 236.1h1.7v1.7h-1.7zM663.9 235.3h1.7v1.7h-1.7zM665.8 238.1h1.7v1.7h-1.7zM674.7 232.4h1.7v1.7h-1.7zM671.5 231.5h1.7v1.7h-1.7zM675.0 232.0h1.7v1.7h-1.7zM666.9 236.7h1.7v1.7h-1.7zM668.3 237.5h1.7v1.7h-1.7zM675.2 233.0h1.7v1.7h-1.7zM673.2 234.3h1.7v1.7h-1.7zM674.7 231.8h1.7v1.7h-1.7zM665.1 233.8h1.7v1.7h-1.7zM672.5 229.1h1.7v1.7h-1.7zM669.1 230.2h1.7v1.7h-1.7zM670.7 235.6h1.7v1.7h-1.7zM672.1 228.1h1.7v1.7h-1.7zM672.6 231.8h1.7v1.7h-1.7zM672.5 229.3h1.7v1.7h-1.7zM672.4 230.9h1.7v1.7h-1.7zM671.6 229.1h1.7v1.7h-1.7zM677.2 231.5h1.7v1.7h-1.7zM666.7 233.1h1.7v1.7h-1.7zM674.2 231.8h1.7v1.7h-1.7zM670.3 230.7h1.7v1.7h-1.7zM671.7 233.1h1.7v1.7h-1.7zM678.8 229.5h1.7v1.7h-1.7zM675.5 228.2h1.7v1.7h-1.7zM670.5 229.7h1.7v1.7h-1.7zM672.1 230.3h1.7v1.7h-1.7zM670.1 230.4h1.7v1.7h-1.7zM671.7 229.2h1.7v1.7h-1.7zM670.4 231.5h1.7v1.7h-1.7zM671.8 229.0h1.7v1.7h-1.7zM669.1 235.3h1.7v1.7h-1.7zM669.7 231.5h1.7v1.7h-1.7zM671.4 227.7h1.7v1.7h-1.7zM671.0 230.3h1.7v1.7h-1.7zM673.9 226.2h1.7v1.7h-1.7zM669.3 232.2h1.7v1.7h-1.7zM672.2 228.6h1.7v1.7h-1.7zM669.5 227.5h1.7v1.7h-1.7zM671.5 230.2h1.7v1.7h-1.7zM662.5 239.1h1.7v1.7h-1.7zM670.1 237.3h1.7v1.7h-1.7zM664.0 237.0h1.7v1.7h-1.7zM669.5 235.8h1.7v1.7h-1.7zM666.6 237.4h1.7v1.7h-1.7zM667.1 237.9h1.7v1.7h-1.7zM665.8 236.9h1.7v1.7h-1.7zM661.1 237.5h1.7v1.7h-1.7zM665.4 237.3h1.7v1.7h-1.7zM667.2 237.5h1.7v1.7h-1.7zM667.3 237.0h1.7v1.7h-1.7zM664.0 237.6h1.7v1.7h-1.7zM670.9 239.9h1.7v1.7h-1.7zM666.5 239.3h1.7v1.7h-1.7zM665.3 237.7h1.7v1.7h-1.7zM663.3 236.2h1.7v1.7h-1.7zM661.6 236.1h1.7v1.7h-1.7zM663.8 236.8h1.7v1.7h-1.7zM666.1 238.2h1.7v1.7h-1.7zM665.3 237.4h1.7v1.7h-1.7zM666.7 236.5h1.7v1.7h-1.7zM669.7 235.6h1.7v1.7h-1.7zM667.7 236.5h1.7v1.7h-1.7zM662.2 238.3h1.7v1.7h-1.7zM669.4 237.2h1.7v1.7h-1.7zM668.3 257.3h1.7v1.7h-1.7zM667.8 257.4h1.7v1.7h-1.7zM642.6 259.9h1.7v1.7h-1.7zM656.3 260.0h1.7v1.7h-1.7zM661.8 257.1h1.7v1.7h-1.7zM652.3 252.2h1.7v1.7h-1.7zM655.8 254.5h1.7v1.7h-1.7zM648.3 257.2h1.7v1.7h-1.7zM656.0 258.6h1.7v1.7h-1.7zM643.9 263.6h1.7v1.7h-1.7zM652.0 252.3h1.7v1.7h-1.7zM651.6 253.7h1.7v1.7h-1.7zM644.7 258.0h1.7v1.7h-1.7zM669.3 258.7h1.7v1.7h-1.7zM650.2 252.9h1.7v1.7h-1.7zM659.0 253.8h1.7v1.7h-1.7zM651.7 252.3h1.7v1.7h-1.7zM650.5 259.8h1.7v1.7h-1.7zM647.1 257.6h1.7v1.7h-1.7zM658.0 258.5h1.7v1.7h-1.7zM659.7 260.3h1.7v1.7h-1.7zM651.8 264.4h1.7v1.7h-1.7zM649.0 253.6h1.7v1.7h-1.7zM658.9 258.7h1.7v1.7h-1.7zM660.1 260.6h1.7v1.7h-1.7zM656.0 260.5h1.7v1.7h-1.7zM660.1 256.7h1.7v1.7h-1.7zM646.9 261.8h1.7v1.7h-1.7zM665.4 260.8h1.7v1.7h-1.7zM667.5 262.7h1.7v1.7h-1.7zM662.7 264.0h1.7v1.7h-1.7zM666.0 260.9h1.7v1.7h-1.7zM662.7 263.6h1.7v1.7h-1.7zM656.6 261.3h1.7v1.7h-1.7zM652.3 262.7h1.7v1.7h-1.7zM655.6 263.8h1.7v1.7h-1.7zM655.5 258.2h1.7v1.7h-1.7zM655.3 261.8h1.7v1.7h-1.7zM654.8 254.5h1.7v1.7h-1.7zM656.1 260.8h1.7v1.7h-1.7zM654.4 253.2h1.7v1.7h-1.7zM658.3 249.6h1.7v1.7h-1.7zM659.2 252.6h1.7v1.7h-1.7zM657.3 253.8h1.7v1.7h-1.7zM656.3 253.5h1.7v1.7h-1.7zM657.2 257.5h1.7v1.7h-1.7zM655.6 256.8h1.7v1.7h-1.7zM660.9 258.1h1.7v1.7h-1.7zM654.0 256.0h1.7v1.7h-1.7zM658.4 243.8h1.7v1.7h-1.7zM659.6 245.2h1.7v1.7h-1.7zM661.7 243.2h1.7v1.7h-1.7zM659.4 244.0h1.7v1.7h-1.7zM667.6 260.6h1.7v1.7h-1.7zM672.1 260.1h1.7v1.7h-1.7zM662.1 240.2h1.7v1.7h-1.7z" fill="#18cde3"/><path d="M566.4 203.2h1.7v1.7h-1.7zM565.2 208.0h1.7v1.7h-1.7zM568.6 205.3h1.7v1.7h-1.7zM564.8 207.0h1.7v1.7h-1.7zM568.9 205.9h1.7v1.7h-1.7zM566.0 210.1h1.7v1.7h-1.7zM567.1 211.5h1.7v1.7h-1.7zM563.2 205.3h1.7v1.7h-1.7zM584.4 224.7h1.7v1.7h-1.7zM586.5 221.5h1.7v1.7h-1.7zM585.5 228.0h1.7v1.7h-1.7zM586.3 222.4h1.7v1.7h-1.7zM585.0 225.7h1.7v1.7h-1.7zM583.6 224.4h1.7v1.7h-1.7zM584.0 223.2h1.7v1.7h-1.7zM587.9 217.0h1.7v1.7h-1.7zM656.9 265.1h1.7v1.7h-1.7zM649.4 257.9h1.7v1.7h-1.7zM655.4 256.9h1.7v1.7h-1.7zM645.2 260.4h1.7v1.7h-1.7zM656.7 259.1h1.7v1.7h-1.7zM656.9 254.1h1.7v1.7h-1.7zM649.0 251.5h1.7v1.7h-1.7zM643.7 259.0h1.7v1.7h-1.7zM652.9 261.3h1.7v1.7h-1.7zM658.9 258.7h1.7v1.7h-1.7zM651.2 265.8h1.7v1.7h-1.7zM649.3 261.9h1.7v1.7h-1.7zM657.2 256.8h1.7v1.7h-1.7zM653.6 259.2h1.7v1.7h-1.7zM663.0 266.3h1.7v1.7h-1.7zM653.5 258.9h1.7v1.7h-1.7zM650.0 253.9h1.7v1.7h-1.7zM655.3 257.1h1.7v1.7h-1.7zM644.6 266.8h1.7v1.7h-1.7zM647.9 255.6h1.7v1.7h-1.7zM654.8 250.6h1.7v1.7h-1.7zM653.0 255.5h1.7v1.7h-1.7zM664.1 261.5h1.7v1.7h-1.7zM661.8 264.5h1.7v1.7h-1.7zM662.5 263.9h1.7v1.7h-1.7zM663.2 262.2h1.7v1.7h-1.7zM658.6 260.9h1.7v1.7h-1.7zM653.2 261.0h1.7v1.7h-1.7zM661.2 262.0h1.7v1.7h-1.7z" fill="#4cf2ce"/><path d="M483.2 332.1h1.7v1.7h-1.7zM479.1 332.4h1.7v1.7h-1.7zM478.5 331.4h1.7v1.7h-1.7zM482.9 340.1h1.7v1.7h-1.7zM482.2 337.3h1.7v1.7h-1.7zM474.5 331.3h1.7v1.7h-1.7zM482.6 337.8h1.7v1.7h-1.7zM480.2 334.6h1.7v1.7h-1.7zM481.1 337.7h1.7v1.7h-1.7zM480.2 337.7h1.7v1.7h-1.7zM481.5 334.3h1.7v1.7h-1.7zM482.4 343.5h1.7v1.7h-1.7zM483.4 332.1h1.7v1.7h-1.7zM485.2 333.2h1.7v1.7h-1.7zM480.4 336.1h1.7v1.7h-1.7zM488.1 329.4h1.7v1.7h-1.7zM566.1 219.2h1.7v1.7h-1.7zM584.7 220.4h1.7v1.7h-1.7zM644.0 232.1h1.7v1.7h-1.7zM639.7 238.7h1.7v1.7h-1.7zM643.5 236.8h1.7v1.7h-1.7zM644.2 230.2h1.7v1.7h-1.7zM643.2 236.3h1.7v1.7h-1.7zM642.5 233.8h1.7v1.7h-1.7zM640.0 232.6h1.7v1.7h-1.7zM644.6 234.2h1.7v1.7h-1.7zM652.7 255.4h1.7v1.7h-1.7zM641.9 264.0h1.7v1.7h-1.7zM656.8 257.4h1.7v1.7h-1.7zM646.8 256.7h1.7v1.7h-1.7zM649.3 252.4h1.7v1.7h-1.7zM649.6 259.0h1.7v1.7h-1.7zM651.5 254.9h1.7v1.7h-1.7zM648.5 257.1h1.7v1.7h-1.7zM649.0 265.8h1.7v1.7h-1.7zM661.7 260.1h1.7v1.7h-1.7zM659.8 251.7h1.7v1.7h-1.7zM661.3 256.7h1.7v1.7h-1.7zM648.9 259.3h1.7v1.7h-1.7zM663.2 256.5h1.7v1.7h-1.7zM653.5 254.4h1.7v1.7h-1.7zM644.6 261.8h1.7v1.7h-1.7zM648.3 257.7h1.7v1.7h-1.7zM652.1 258.1h1.7v1.7h-1.7zM646.2 259.6h1.7v1.7h-1.7zM653.7 253.8h1.7v1.7h-1.7zM652.3 259.5h1.7v1.7h-1.7zM656.8 258.1h1.7v1.7h-1.7zM656.4 253.4h1.7v1.7h-1.7zM654.4 258.4h1.7v1.7h-1.7zM658.4 253.7h1.7v1.7h-1.7zM658.4 259.4h1.7v1.7h-1.7zM654.5 254.9h1.7v1.7h-1.7zM656.9 259.7h1.7v1.7h-1.7zM657.2 259.7h1.7v1.7h-1.7zM658.5 243.6h1.7v1.7h-1.7zM657.7 244.6h1.7v1.7h-1.7z" fill="#80feb3"/><path d="M480.5 334.8h1.7v1.7h-1.7zM481.8 334.9h1.7v1.7h-1.7zM485.0 335.4h1.7v1.7h-1.7zM476.8 334.9h1.7v1.7h-1.7zM479.3 334.7h1.7v1.7h-1.7zM485.4 338.8h1.7v1.7h-1.7zM481.0 336.5h1.7v1.7h-1.7zM478.3 338.5h1.7v1.7h-1.7zM476.2 335.4h1.7v1.7h-1.7zM484.3 340.2h1.7v1.7h-1.7zM483.8 332.1h1.7v1.7h-1.7zM482.7 338.3h1.7v1.7h-1.7zM482.1 336.6h1.7v1.7h-1.7zM478.2 331.4h1.7v1.7h-1.7zM486.1 339.3h1.7v1.7h-1.7zM475.4 327.8h1.7v1.7h-1.7zM485.1 344.4h1.7v1.7h-1.7zM566.9 209.7h1.7v1.7h-1.7zM565.6 208.4h1.7v1.7h-1.7zM639.0 238.3h1.7v1.7h-1.7zM645.6 231.4h1.7v1.7h-1.7zM644.6 235.1h1.7v1.7h-1.7zM642.1 236.1h1.7v1.7h-1.7zM639.1 238.3h1.7v1.7h-1.7zM642.3 232.1h1.7v1.7h-1.7zM643.7 235.1h1.7v1.7h-1.7zM641.1 234.5h1.7v1.7h-1.7zM643.9 233.4h1.7v1.7h-1.7zM640.0 237.4h1.7v1.7h-1.7zM642.9 230.8h1.7v1.7h-1.7zM646.6 233.3h1.7v1.7h-1.7zM644.2 234.5h1.7v1.7h-1.7zM643.4 232.1h1.7v1.7h-1.7zM635.1 225.7h1.7v1.7h-1.7zM636.6 226.2h1.7v1.7h-1.7zM644.1 229.2h1.7v1.7h-1.7zM645.1 230.2h1.7v1.7h-1.7zM658.0 261.6h1.7v1.7h-1.7zM652.5 262.7h1.7v1.7h-1.7zM658.8 253.2h1.7v1.7h-1.7zM651.9 252.0h1.7v1.7h-1.7zM654.9 253.0h1.7v1.7h-1.7zM662.1 264.7h1.7v1.7h-1.7zM652.4 255.5h1.7v1.7h-1.7zM654.4 258.4h1.7v1.7h-1.7zM653.8 260.7h1.7v1.7h-1.7zM654.7 252.9h1.7v1.7h-1.7zM655.9 263.6h1.7v1.7h-1.7zM657.5 256.8h1.7v1.7h-1.7zM659.9 256.0h1.7v1.7h-1.7zM636.2 255.6h1.7v1.7h-1.7zM652.7 261.6h1.7v1.7h-1.7zM661.1 254.5h1.7v1.7h-1.7zM652.7 253.4h1.7v1.7h-1.7zM648.4 258.3h1.7v1.7h-1.7zM646.8 255.1h1.7v1.7h-1.7zM646.6 247.2h1.7v1.7h-1.7zM649.8 254.8h1.7v1.7h-1.7zM651.5 259.9h1.7v1.7h-1.7zM659.0 261.6h1.7v1.7h-1.7zM652.8 257.1h1.7v1.7h-1.7zM656.8 260.8h1.7v1.7h-1.7zM655.4 263.7h1.7v1.7h-1.7zM654.7 259.0h1.7v1.7h-1.7zM650.4 259.5h1.7v1.7h-1.7zM650.2 259.9h1.7v1.7h-1.7zM652.8 253.3h1.7v1.7h-1.7zM655.3 250.7h1.7v1.7h-1.7zM645.8 253.6h1.7v1.7h-1.7zM668.3 259.2h1.7v1.7h-1.7zM654.8 262.4h1.7v1.7h-1.7zM649.0 258.4h1.7v1.7h-1.7zM647.1 258.8h1.7v1.7h-1.7zM647.6 262.5h1.7v1.7h-1.7zM644.5 259.1h1.7v1.7h-1.7zM653.2 260.4h1.7v1.7h-1.7zM660.1 260.1h1.7v1.7h-1.7zM662.5 258.5h1.7v1.7h-1.7zM658.1 253.7h1.7v1.7h-1.7zM657.4 260.5h1.7v1.7h-1.7zM656.1 253.4h1.7v1.7h-1.7zM658.2 254.2h1.7v1.7h-1.7zM654.1 257.6h1.7v1.7h-1.7zM657.1 253.4h1.7v1.7h-1.7zM657.1 248.6h1.7v1.7h-1.7zM654.5 252.4h1.7v1.7h-1.7zM652.1 254.5h1.7v1.7h-1.7zM655.7 257.9h1.7v1.7h-1.7zM655.8 257.5h1.7v1.7h-1.7zM655.1 252.6h1.7v1.7h-1.7zM658.2 259.6h1.7v1.7h-1.7zM655.2 251.6h1.7v1.7h-1.7zM657.4 256.2h1.7v1.7h-1.7zM658.3 255.9h1.7v1.7h-1.7zM658.2 254.7h1.7v1.7h-1.7zM657.3 243.1h1.7v1.7h-1.7zM660.0 245.2h1.7v1.7h-1.7zM658.6 243.8h1.7v1.7h-1.7zM658.7 244.5h1.7v1.7h-1.7zM659.5 243.2h1.7v1.7h-1.7zM656.6 242.1h1.7v1.7h-1.7zM661.6 255.2h1.7v1.7h-1.7z" fill="#b2f295"/><path d="M475.4 333.8h1.7v1.7h-1.7zM482.2 340.5h1.7v1.7h-1.7zM479.8 334.5h1.7v1.7h-1.7zM482.7 339.9h1.7v1.7h-1.7zM479.3 335.7h1.7v1.7h-1.7zM483.9 339.2h1.7v1.7h-1.7zM470.4 314.0h1.7v1.7h-1.7zM564.0 205.4h1.7v1.7h-1.7zM566.9 207.2h1.7v1.7h-1.7zM566.5 208.4h1.7v1.7h-1.7zM564.9 207.1h1.7v1.7h-1.7zM565.6 211.6h1.7v1.7h-1.7zM567.9 207.8h1.7v1.7h-1.7zM568.0 209.9h1.7v1.7h-1.7zM566.0 211.1h1.7v1.7h-1.7zM568.9 206.8h1.7v1.7h-1.7zM566.7 206.3h1.7v1.7h-1.7zM566.6 204.2h1.7v1.7h-1.7zM580.1 227.2h1.7v1.7h-1.7zM643.2 232.3h1.7v1.7h-1.7zM642.0 239.4h1.7v1.7h-1.7zM644.7 230.8h1.7v1.7h-1.7zM644.4 235.7h1.7v1.7h-1.7zM642.3 234.3h1.7v1.7h-1.7z" fill="#e6cd73"/><path d="M484.5 340.0h1.7v1.7h-1.7zM478.5 334.8h1.7v1.7h-1.7zM482.0 333.1h1.7v1.7h-1.7zM480.8 334.2h1.7v1.7h-1.7zM475.5 335.3h1.7v1.7h-1.7zM482.4 335.7h1.7v1.7h-1.7zM478.8 334.3h1.7v1.7h-1.7zM478.0 336.8h1.7v1.7h-1.7zM480.8 333.3h1.7v1.7h-1.7zM567.6 209.3h1.7v1.7h-1.7zM567.9 204.6h1.7v1.7h-1.7zM568.8 207.4h1.7v1.7h-1.7zM568.7 208.7h1.7v1.7h-1.7zM568.9 205.7h1.7v1.7h-1.7zM564.9 208.8h1.7v1.7h-1.7zM564.9 208.0h1.7v1.7h-1.7zM577.9 217.2h1.7v1.7h-1.7zM577.8 217.6h1.7v1.7h-1.7zM580.6 218.2h1.7v1.7h-1.7zM577.7 223.0h1.7v1.7h-1.7zM577.7 220.5h1.7v1.7h-1.7zM645.2 231.5h1.7v1.7h-1.7zM639.3 237.0h1.7v1.7h-1.7zM642.8 235.6h1.7v1.7h-1.7zM644.3 232.7h1.7v1.7h-1.7zM640.4 235.8h1.7v1.7h-1.7zM640.1 233.4h1.7v1.7h-1.7zM644.5 229.3h1.7v1.7h-1.7zM634.9 229.0h1.7v1.7h-1.7zM654.5 254.4h1.7v1.7h-1.7zM649.0 252.9h1.7v1.7h-1.7zM653.6 254.7h1.7v1.7h-1.7zM648.5 250.4h1.7v1.7h-1.7zM647.1 251.0h1.7v1.7h-1.7zM650.2 251.7h1.7v1.7h-1.7zM655.1 253.9h1.7v1.7h-1.7zM650.3 250.8h1.7v1.7h-1.7zM655.0 254.5h1.7v1.7h-1.7zM651.4 251.6h1.7v1.7h-1.7zM653.7 254.3h1.7v1.7h-1.7zM648.5 255.6h1.7v1.7h-1.7zM650.7 258.3h1.7v1.7h-1.7zM649.5 254.3h1.7v1.7h-1.7zM654.3 251.5h1.7v1.7h-1.7zM652.3 252.7h1.7v1.7h-1.7zM648.7 251.0h1.7v1.7h-1.7zM647.6 256.8h1.7v1.7h-1.7zM650.2 257.7h1.7v1.7h-1.7zM655.6 255.4h1.7v1.7h-1.7zM646.5 257.0h1.7v1.7h-1.7zM646.2 254.6h1.7v1.7h-1.7zM652.4 254.4h1.7v1.7h-1.7zM647.4 253.2h1.7v1.7h-1.7zM647.0 252.7h1.7v1.7h-1.7zM649.1 255.0h1.7v1.7h-1.7zM655.0 255.0h1.7v1.7h-1.7zM649.6 259.2h1.7v1.7h-1.7zM647.9 250.4h1.7v1.7h-1.7zM649.7 251.1h1.7v1.7h-1.7zM651.5 254.4h1.7v1.7h-1.7zM648.3 254.9h1.7v1.7h-1.7zM648.9 250.3h1.7v1.7h-1.7zM651.2 252.7h1.7v1.7h-1.7zM650.9 250.6h1.7v1.7h-1.7zM653.6 257.6h1.7v1.7h-1.7zM653.3 252.4h1.7v1.7h-1.7zM650.7 250.0h1.7v1.7h-1.7zM649.8 253.1h1.7v1.7h-1.7zM653.2 257.9h1.7v1.7h-1.7zM653.7 253.5h1.7v1.7h-1.7zM648.6 250.3h1.7v1.7h-1.7zM651.8 257.7h1.7v1.7h-1.7zM648.7 253.5h1.7v1.7h-1.7zM652.5 257.1h1.7v1.7h-1.7zM654.2 255.9h1.7v1.7h-1.7zM650.3 253.2h1.7v1.7h-1.7zM650.3 249.8h1.7v1.7h-1.7zM646.5 254.2h1.7v1.7h-1.7zM652.4 257.0h1.7v1.7h-1.7zM648.8 258.2h1.7v1.7h-1.7zM654.7 257.8h1.7v1.7h-1.7zM651.2 258.6h1.7v1.7h-1.7zM653.7 256.0h1.7v1.7h-1.7zM648.4 251.0h1.7v1.7h-1.7zM651.5 250.2h1.7v1.7h-1.7zM646.4 254.2h1.7v1.7h-1.7zM649.4 252.6h1.7v1.7h-1.7zM651.1 255.3h1.7v1.7h-1.7zM653.1 253.1h1.7v1.7h-1.7zM647.8 252.7h1.7v1.7h-1.7zM654.0 258.0h1.7v1.7h-1.7zM649.1 254.3h1.7v1.7h-1.7zM646.0 255.9h1.7v1.7h-1.7zM651.5 253.7h1.7v1.7h-1.7zM650.6 251.7h1.7v1.7h-1.7zM653.4 256.5h1.7v1.7h-1.7zM647.7 250.6h1.7v1.7h-1.7zM655.4 256.3h1.7v1.7h-1.7zM649.6 254.7h1.7v1.7h-1.7zM651.8 252.7h1.7v1.7h-1.7zM652.0 257.9h1.7v1.7h-1.7zM649.0 252.5h1.7v1.7h-1.7zM646.4 257.5h1.7v1.7h-1.7zM653.7 257.3h1.7v1.7h-1.7zM652.9 252.7h1.7v1.7h-1.7zM649.9 250.7h1.7v1.7h-1.7zM650.2 258.9h1.7v1.7h-1.7zM652.1 259.2h1.7v1.7h-1.7zM647.6 258.5h1.7v1.7h-1.7zM649.9 251.4h1.7v1.7h-1.7zM654.6 252.4h1.7v1.7h-1.7zM645.5 254.2h1.7v1.7h-1.7zM654.4 254.7h1.7v1.7h-1.7zM655.1 255.0h1.7v1.7h-1.7zM650.8 258.3h1.7v1.7h-1.7zM651.3 251.5h1.7v1.7h-1.7zM651.8 256.7h1.7v1.7h-1.7zM649.3 253.9h1.7v1.7h-1.7zM653.6 255.2h1.7v1.7h-1.7zM649.3 257.4h1.7v1.7h-1.7zM648.6 251.3h1.7v1.7h-1.7zM648.9 250.8h1.7v1.7h-1.7zM655.0 255.1h1.7v1.7h-1.7zM652.7 258.7h1.7v1.7h-1.7zM651.1 258.6h1.7v1.7h-1.7zM650.5 258.4h1.7v1.7h-1.7zM648.1 257.8h1.7v1.7h-1.7zM651.6 250.4h1.7v1.7h-1.7zM654.5 257.5h1.7v1.7h-1.7zM651.0 257.2h1.7v1.7h-1.7zM645.9 255.1h1.7v1.7h-1.7zM651.1 252.4h1.7v1.7h-1.7zM650.7 254.0h1.7v1.7h-1.7zM654.2 257.6h1.7v1.7h-1.7zM648.2 254.1h1.7v1.7h-1.7zM647.8 250.8h1.7v1.7h-1.7zM647.8 255.9h1.7v1.7h-1.7zM652.5 252.2h1.7v1.7h-1.7zM654.4 257.7h1.7v1.7h-1.7zM646.4 253.0h1.7v1.7h-1.7zM650.4 253.4h1.7v1.7h-1.7zM655.7 254.1h1.7v1.7h-1.7zM653.0 254.8h1.7v1.7h-1.7zM649.9 250.5h1.7v1.7h-1.7zM647.9 258.9h1.7v1.7h-1.7zM650.5 249.9h1.7v1.7h-1.7zM647.1 254.0h1.7v1.7h-1.7zM651.6 249.7h1.7v1.7h-1.7zM652.8 258.4h1.7v1.7h-1.7zM652.9 253.3h1.7v1.7h-1.7zM646.8 258.0h1.7v1.7h-1.7zM651.9 251.0h1.7v1.7h-1.7zM649.9 257.5h1.7v1.7h-1.7zM652.9 257.2h1.7v1.7h-1.7zM649.4 256.6h1.7v1.7h-1.7zM648.9 251.1h1.7v1.7h-1.7zM654.1 252.8h1.7v1.7h-1.7zM648.6 254.7h1.7v1.7h-1.7zM649.0 257.5h1.7v1.7h-1.7zM653.1 253.5h1.7v1.7h-1.7zM650.4 249.7h1.7v1.7h-1.7zM648.5 255.3h1.7v1.7h-1.7zM648.3 251.3h1.7v1.7h-1.7zM650.5 258.8h1.7v1.7h-1.7zM646.6 254.7h1.7v1.7h-1.7zM648.1 256.5h1.7v1.7h-1.7zM650.7 257.2h1.7v1.7h-1.7zM651.1 254.9h1.7v1.7h-1.7zM651.0 257.0h1.7v1.7h-1.7zM652.1 250.2h1.7v1.7h-1.7zM650.8 251.9h1.7v1.7h-1.7zM647.1 256.1h1.7v1.7h-1.7zM652.7 252.7h1.7v1.7h-1.7zM651.4 255.8h1.7v1.7h-1.7zM650.3 251.3h1.7v1.7h-1.7zM651.1 249.5h1.7v1.7h-1.7zM653.7 256.0h1.7v1.7h-1.7zM652.6 252.4h1.7v1.7h-1.7zM651.2 250.8h1.7v1.7h-1.7zM647.6 255.3h1.7v1.7h-1.7zM648.1 254.7h1.7v1.7h-1.7zM647.9 253.0h1.7v1.7h-1.7zM645.8 255.3h1.7v1.7h-1.7zM652.5 255.3h1.7v1.7h-1.7zM648.9 255.4h1.7v1.7h-1.7zM653.6 251.3h1.7v1.7h-1.7zM648.4 254.2h1.7v1.7h-1.7zM650.7 256.5h1.7v1.7h-1.7zM652.8 253.2h1.7v1.7h-1.7zM646.3 256.8h1.7v1.7h-1.7zM652.7 259.3h1.7v1.7h-1.7zM646.5 251.8h1.7v1.7h-1.7zM652.0 257.2h1.7v1.7h-1.7zM647.1 251.2h1.7v1.7h-1.7zM650.1 253.5h1.7v1.7h-1.7zM651.9 258.0h1.7v1.7h-1.7zM649.1 258.2h1.7v1.7h-1.7zM647.7 252.8h1.7v1.7h-1.7zM651.6 259.7h1.7v1.7h-1.7zM652.6 250.6h1.7v1.7h-1.7zM650.2 251.1h1.7v1.7h-1.7zM652.7 258.6h1.7v1.7h-1.7zM646.8 252.2h1.7v1.7h-1.7zM649.1 253.9h1.7v1.7h-1.7zM648.6 256.8h1.7v1.7h-1.7zM649.0 252.2h1.7v1.7h-1.7zM646.1 256.8h1.7v1.7h-1.7zM646.1 256.3h1.7v1.7h-1.7zM648.4 256.4h1.7v1.7h-1.7zM646.0 252.3h1.7v1.7h-1.7zM652.1 254.7h1.7v1.7h-1.7zM648.2 252.9h1.7v1.7h-1.7zM652.4 256.2h1.7v1.7h-1.7zM651.2 258.4h1.7v1.7h-1.7zM652.6 250.1h1.7v1.7h-1.7zM651.3 259.2h1.7v1.7h-1.7zM649.9 254.0h1.7v1.7h-1.7zM650.6 257.2h1.7v1.7h-1.7zM655.2 254.5h1.7v1.7h-1.7zM653.4 254.3h1.7v1.7h-1.7zM648.3 258.7h1.7v1.7h-1.7zM654.1 252.5h1.7v1.7h-1.7zM654.3 252.3h1.7v1.7h-1.7zM651.9 258.9h1.7v1.7h-1.7zM647.8 257.4h1.7v1.7h-1.7zM651.5 256.7h1.7v1.7h-1.7zM651.3 259.3h1.7v1.7h-1.7zM646.8 254.0h1.7v1.7h-1.7zM646.2 254.6h1.7v1.7h-1.7zM649.8 254.9h1.7v1.7h-1.7zM651.4 256.8h1.7v1.7h-1.7zM646.8 253.8h1.7v1.7h-1.7zM655.0 253.1h1.7v1.7h-1.7zM648.7 257.1h1.7v1.7h-1.7zM648.9 250.5h1.7v1.7h-1.7zM650.7 254.9h1.7v1.7h-1.7zM650.7 253.6h1.7v1.7h-1.7zM646.8 252.7h1.7v1.7h-1.7zM655.1 252.1h1.7v1.7h-1.7zM653.2 256.0h1.7v1.7h-1.7zM649.0 252.1h1.7v1.7h-1.7zM648.0 256.1h1.7v1.7h-1.7zM647.9 257.5h1.7v1.7h-1.7zM649.0 257.5h1.7v1.7h-1.7zM653.2 252.8h1.7v1.7h-1.7zM650.6 259.2h1.7v1.7h-1.7zM650.5 254.5h1.7v1.7h-1.7zM655.4 255.4h1.7v1.7h-1.7zM655.0 253.6h1.7v1.7h-1.7zM652.3 249.8h1.7v1.7h-1.7zM648.9 250.2h1.7v1.7h-1.7zM646.0 254.1h1.7v1.7h-1.7zM648.9 256.8h1.7v1.7h-1.7zM646.4 256.5h1.7v1.7h-1.7zM648.5 251.3h1.7v1.7h-1.7zM647.6 254.5h1.7v1.7h-1.7zM654.3 251.7h1.7v1.7h-1.7zM649.0 257.9h1.7v1.7h-1.7zM654.0 250.7h1.7v1.7h-1.7zM649.3 258.8h1.7v1.7h-1.7zM653.6 258.5h1.7v1.7h-1.7zM654.1 258.2h1.7v1.7h-1.7zM650.3 258.6h1.7v1.7h-1.7zM654.9 252.2h1.7v1.7h-1.7zM651.9 250.8h1.7v1.7h-1.7zM650.3 250.9h1.7v1.7h-1.7zM648.8 259.5h1.7v1.7h-1.7zM651.6 258.9h1.7v1.7h-1.7zM647.9 258.0h1.7v1.7h-1.7zM656.2 261.2h1.7v1.7h-1.7zM658.2 260.3h1.7v1.7h-1.7zM654.9 261.0h1.7v1.7h-1.7zM655.6 254.5h1.7v1.7h-1.7zM652.7 261.1h1.7v1.7h-1.7zM652.0 257.9h1.7v1.7h-1.7zM648.3 259.2h1.7v1.7h-1.7zM653.4 258.8h1.7v1.7h-1.7zM652.4 256.1h1.7v1.7h-1.7zM646.9 256.6h1.7v1.7h-1.7zM654.8 252.5h1.7v1.7h-1.7zM658.6 255.4h1.7v1.7h-1.7zM655.2 256.4h1.7v1.7h-1.7zM657.5 253.6h1.7v1.7h-1.7zM653.2 257.4h1.7v1.7h-1.7zM651.0 260.9h1.7v1.7h-1.7zM654.2 255.6h1.7v1.7h-1.7zM653.0 254.2h1.7v1.7h-1.7zM650.6 254.5h1.7v1.7h-1.7zM657.1 257.6h1.7v1.7h-1.7zM654.5 262.3h1.7v1.7h-1.7zM652.1 257.6h1.7v1.7h-1.7zM654.6 257.3h1.7v1.7h-1.7zM653.6 253.4h1.7v1.7h-1.7zM655.9 258.1h1.7v1.7h-1.7zM658.8 259.0h1.7v1.7h-1.7zM652.2 255.9h1.7v1.7h-1.7zM650.4 257.0h1.7v1.7h-1.7zM658.2 255.1h1.7v1.7h-1.7zM661.2 259.3h1.7v1.7h-1.7zM652.2 261.1h1.7v1.7h-1.7zM651.3 258.2h1.7v1.7h-1.7zM650.4 258.6h1.7v1.7h-1.7zM654.0 257.2h1.7v1.7h-1.7zM654.4 255.2h1.7v1.7h-1.7zM653.3 254.8h1.7v1.7h-1.7zM656.6 255.9h1.7v1.7h-1.7zM651.6 257.4h1.7v1.7h-1.7zM652.3 257.1h1.7v1.7h-1.7zM650.3 260.1h1.7v1.7h-1.7z" fill="#ff954e"/><path d="M576.9 218.4h1.7v1.7h-1.7zM578.6 215.0h1.7v1.7h-1.7zM577.1 217.2h1.7v1.7h-1.7zM576.3 215.8h1.7v1.7h-1.7z" fill="#ff733b"/><path d="M481.3 335.9h1.7v1.7h-1.7zM484.5 337.6h1.7v1.7h-1.7zM481.5 332.9h1.7v1.7h-1.7zM480.8 333.0h1.7v1.7h-1.7zM483.1 339.5h1.7v1.7h-1.7zM480.8 338.2h1.7v1.7h-1.7zM478.7 336.3h1.7v1.7h-1.7zM480.1 334.2h1.7v1.7h-1.7zM482.4 334.2h1.7v1.7h-1.7zM481.6 335.8h1.7v1.7h-1.7zM482.3 340.4h1.7v1.7h-1.7zM482.9 338.5h1.7v1.7h-1.7zM478.9 337.7h1.7v1.7h-1.7zM479.6 336.4h1.7v1.7h-1.7zM477.8 334.4h1.7v1.7h-1.7zM484.1 337.4h1.7v1.7h-1.7zM477.9 334.7h1.7v1.7h-1.7zM481.5 334.7h1.7v1.7h-1.7zM482.0 333.3h1.7v1.7h-1.7zM481.5 335.2h1.7v1.7h-1.7zM482.1 333.3h1.7v1.7h-1.7zM482.5 334.4h1.7v1.7h-1.7zM482.6 336.1h1.7v1.7h-1.7zM481.7 333.9h1.7v1.7h-1.7zM482.2 339.7h1.7v1.7h-1.7zM481.2 338.6h1.7v1.7h-1.7zM478.7 338.8h1.7v1.7h-1.7zM482.2 334.6h1.7v1.7h-1.7zM477.2 335.3h1.7v1.7h-1.7zM480.8 340.2h1.7v1.7h-1.7zM480.6 337.6h1.7v1.7h-1.7zM481.7 333.4h1.7v1.7h-1.7zM480.3 333.9h1.7v1.7h-1.7zM483.9 338.0h1.7v1.7h-1.7zM482.5 339.3h1.7v1.7h-1.7zM480.5 339.1h1.7v1.7h-1.7zM483.5 339.7h1.7v1.7h-1.7zM479.9 336.4h1.7v1.7h-1.7zM482.8 339.1h1.7v1.7h-1.7zM478.6 336.2h1.7v1.7h-1.7zM481.1 335.8h1.7v1.7h-1.7zM480.6 332.7h1.7v1.7h-1.7zM483.5 337.1h1.7v1.7h-1.7zM483.6 339.5h1.7v1.7h-1.7zM479.7 339.1h1.7v1.7h-1.7zM478.7 335.1h1.7v1.7h-1.7zM480.0 340.2h1.7v1.7h-1.7zM481.5 337.7h1.7v1.7h-1.7zM480.8 337.3h1.7v1.7h-1.7zM483.4 339.2h1.7v1.7h-1.7zM480.8 333.8h1.7v1.7h-1.7zM478.9 334.4h1.7v1.7h-1.7zM479.6 339.7h1.7v1.7h-1.7zM479.0 334.5h1.7v1.7h-1.7zM477.7 337.5h1.7v1.7h-1.7zM478.1 337.2h1.7v1.7h-1.7zM480.6 338.7h1.7v1.7h-1.7zM480.1 336.8h1.7v1.7h-1.7zM482.1 335.3h1.7v1.7h-1.7zM479.2 332.2h1.7v1.7h-1.7zM480.3 333.6h1.7v1.7h-1.7zM482.2 337.0h1.7v1.7h-1.7zM479.1 337.2h1.7v1.7h-1.7zM480.5 340.2h1.7v1.7h-1.7zM482.3 336.6h1.7v1.7h-1.7zM479.9 339.7h1.7v1.7h-1.7zM482.1 336.4h1.7v1.7h-1.7zM483.3 340.1h1.7v1.7h-1.7zM479.8 333.2h1.7v1.7h-1.7zM480.1 335.7h1.7v1.7h-1.7zM477.7 333.2h1.7v1.7h-1.7zM483.0 336.6h1.7v1.7h-1.7zM483.7 338.5h1.7v1.7h-1.7zM483.1 335.5h1.7v1.7h-1.7zM481.9 336.6h1.7v1.7h-1.7zM482.0 336.7h1.7v1.7h-1.7zM481.6 335.3h1.7v1.7h-1.7zM481.1 334.8h1.7v1.7h-1.7zM481.4 337.1h1.7v1.7h-1.7zM481.2 337.2h1.7v1.7h-1.7zM483.0 333.8h1.7v1.7h-1.7zM479.6 336.3h1.7v1.7h-1.7zM480.5 339.3h1.7v1.7h-1.7zM479.9 337.2h1.7v1.7h-1.7zM481.6 338.3h1.7v1.7h-1.7zM477.5 335.9h1.7v1.7h-1.7zM478.1 332.8h1.7v1.7h-1.7zM478.6 337.2h1.7v1.7h-1.7zM480.7 336.0h1.7v1.7h-1.7zM484.5 337.7h1.7v1.7h-1.7zM479.9 336.1h1.7v1.7h-1.7zM482.5 335.1h1.7v1.7h-1.7zM483.4 338.0h1.7v1.7h-1.7zM478.0 338.1h1.7v1.7h-1.7zM477.4 334.8h1.7v1.7h-1.7zM481.1 339.7h1.7v1.7h-1.7zM482.2 334.7h1.7v1.7h-1.7zM478.3 338.2h1.7v1.7h-1.7zM478.3 338.4h1.7v1.7h-1.7zM481.8 332.9h1.7v1.7h-1.7zM483.4 335.3h1.7v1.7h-1.7zM480.8 335.1h1.7v1.7h-1.7zM482.8 337.3h1.7v1.7h-1.7zM480.4 339.1h1.7v1.7h-1.7zM478.8 337.8h1.7v1.7h-1.7zM478.4 338.4h1.7v1.7h-1.7zM482.4 336.0h1.7v1.7h-1.7zM481.5 339.9h1.7v1.7h-1.7zM480.7 338.9h1.7v1.7h-1.7zM482.7 334.0h1.7v1.7h-1.7zM481.4 334.8h1.7v1.7h-1.7zM478.2 336.0h1.7v1.7h-1.7zM481.3 335.3h1.7v1.7h-1.7zM480.8 334.5h1.7v1.7h-1.7zM480.3 340.2h1.7v1.7h-1.7zM482.8 337.1h1.7v1.7h-1.7zM477.2 335.3h1.7v1.7h-1.7zM481.3 339.5h1.7v1.7h-1.7zM481.4 336.1h1.7v1.7h-1.7zM483.1 334.4h1.7v1.7h-1.7zM481.3 335.8h1.7v1.7h-1.7zM477.7 337.0h1.7v1.7h-1.7zM480.4 336.2h1.7v1.7h-1.7zM477.9 334.2h1.7v1.7h-1.7zM481.4 335.0h1.7v1.7h-1.7zM479.3 337.8h1.7v1.7h-1.7zM477.1 335.9h1.7v1.7h-1.7zM482.6 338.9h1.7v1.7h-1.7zM482.7 339.5h1.7v1.7h-1.7zM478.0 337.3h1.7v1.7h-1.7zM481.6 337.6h1.7v1.7h-1.7zM483.8 335.5h1.7v1.7h-1.7zM480.5 340.3h1.7v1.7h-1.7zM479.8 334.8h1.7v1.7h-1.7zM482.1 339.5h1.7v1.7h-1.7zM480.8 334.2h1.7v1.7h-1.7zM478.1 333.5h1.7v1.7h-1.7zM480.1 336.0h1.7v1.7h-1.7zM481.4 333.6h1.7v1.7h-1.7zM484.0 336.6h1.7v1.7h-1.7zM483.6 338.8h1.7v1.7h-1.7zM481.2 335.2h1.7v1.7h-1.7zM481.8 333.1h1.7v1.7h-1.7zM482.5 336.5h1.7v1.7h-1.7zM479.1 332.6h1.7v1.7h-1.7zM483.0 335.4h1.7v1.7h-1.7zM482.2 337.1h1.7v1.7h-1.7zM484.0 337.4h1.7v1.7h-1.7zM482.0 340.2h1.7v1.7h-1.7zM480.1 339.6h1.7v1.7h-1.7zM482.0 332.9h1.7v1.7h-1.7zM479.8 337.9h1.7v1.7h-1.7zM482.6 337.1h1.7v1.7h-1.7zM481.5 338.0h1.7v1.7h-1.7zM483.0 335.2h1.7v1.7h-1.7zM482.8 335.7h1.7v1.7h-1.7zM479.7 338.3h1.7v1.7h-1.7zM478.6 337.3h1.7v1.7h-1.7zM482.0 338.4h1.7v1.7h-1.7zM480.7 336.6h1.7v1.7h-1.7zM483.3 337.1h1.7v1.7h-1.7zM478.9 335.1h1.7v1.7h-1.7zM480.2 338.9h1.7v1.7h-1.7zM484.1 338.7h1.7v1.7h-1.7zM479.5 337.1h1.7v1.7h-1.7zM483.1 339.1h1.7v1.7h-1.7zM481.9 339.8h1.7v1.7h-1.7zM482.7 337.2h1.7v1.7h-1.7zM479.6 333.4h1.7v1.7h-1.7zM482.4 340.5h1.7v1.7h-1.7zM482.0 334.8h1.7v1.7h-1.7zM479.8 339.4h1.7v1.7h-1.7zM484.0 338.5h1.7v1.7h-1.7zM478.9 334.3h1.7v1.7h-1.7zM478.2 332.6h1.7v1.7h-1.7zM481.2 333.2h1.7v1.7h-1.7zM483.4 337.6h1.7v1.7h-1.7zM479.5 332.7h1.7v1.7h-1.7zM480.8 333.6h1.7v1.7h-1.7zM481.7 340.0h1.7v1.7h-1.7zM479.6 337.8h1.7v1.7h-1.7zM477.2 334.9h1.7v1.7h-1.7zM482.5 339.2h1.7v1.7h-1.7zM480.9 334.4h1.7v1.7h-1.7zM478.7 334.2h1.7v1.7h-1.7zM480.8 332.4h1.7v1.7h-1.7zM478.9 338.9h1.7v1.7h-1.7zM478.5 337.2h1.7v1.7h-1.7zM482.6 338.2h1.7v1.7h-1.7zM481.3 339.0h1.7v1.7h-1.7zM482.0 339.3h1.7v1.7h-1.7zM483.6 339.4h1.7v1.7h-1.7zM481.1 339.1h1.7v1.7h-1.7zM483.7 340.1h1.7v1.7h-1.7zM482.4 343.5h1.7v1.7h-1.7zM483.7 341.0h1.7v1.7h-1.7zM482.8 342.9h1.7v1.7h-1.7zM481.6 339.6h1.7v1.7h-1.7zM482.7 339.3h1.7v1.7h-1.7zM482.5 340.3h1.7v1.7h-1.7zM483.1 342.1h1.7v1.7h-1.7zM483.9 341.2h1.7v1.7h-1.7zM483.7 340.5h1.7v1.7h-1.7zM481.4 343.2h1.7v1.7h-1.7zM483.2 340.5h1.7v1.7h-1.7zM483.5 340.6h1.7v1.7h-1.7zM482.8 343.7h1.7v1.7h-1.7zM482.6 339.9h1.7v1.7h-1.7zM481.1 342.4h1.7v1.7h-1.7zM486.0 342.6h1.7v1.7h-1.7zM482.4 341.5h1.7v1.7h-1.7zM483.2 342.3h1.7v1.7h-1.7zM483.7 339.3h1.7v1.7h-1.7zM484.2 344.3h1.7v1.7h-1.7zM481.4 337.2h1.7v1.7h-1.7zM472.6 319.6h1.7v1.7h-1.7zM487.6 336.0h1.7v1.7h-1.7zM486.2 355.5h1.7v1.7h-1.7zM559.9 205.7h1.7v1.7h-1.7zM562.1 206.3h1.7v1.7h-1.7zM561.2 209.3h1.7v1.7h-1.7zM564.4 205.4h1.7v1.7h-1.7zM563.9 203.8h1.7v1.7h-1.7zM560.1 204.7h1.7v1.7h-1.7zM563.5 208.3h1.7v1.7h-1.7zM565.0 211.1h1.7v1.7h-1.7zM565.8 208.1h1.7v1.7h-1.7zM560.0 207.1h1.7v1.7h-1.7zM561.2 206.1h1.7v1.7h-1.7zM566.8 203.8h1.7v1.7h-1.7zM563.5 205.5h1.7v1.7h-1.7zM563.1 209.3h1.7v1.7h-1.7zM566.1 207.4h1.7v1.7h-1.7zM565.5 209.1h1.7v1.7h-1.7zM560.9 208.4h1.7v1.7h-1.7zM564.0 204.3h1.7v1.7h-1.7zM563.1 209.8h1.7v1.7h-1.7zM565.0 209.2h1.7v1.7h-1.7zM562.7 203.8h1.7v1.7h-1.7zM564.9 202.9h1.7v1.7h-1.7zM558.3 207.0h1.7v1.7h-1.7zM564.1 206.4h1.7v1.7h-1.7zM567.7 207.0h1.7v1.7h-1.7zM565.6 207.0h1.7v1.7h-1.7zM567.6 208.0h1.7v1.7h-1.7zM565.0 205.3h1.7v1.7h-1.7zM563.6 203.1h1.7v1.7h-1.7zM562.3 211.0h1.7v1.7h-1.7zM563.2 205.8h1.7v1.7h-1.7zM567.1 208.7h1.7v1.7h-1.7zM564.0 207.3h1.7v1.7h-1.7zM564.9 203.9h1.7v1.7h-1.7zM565.3 207.9h1.7v1.7h-1.7zM563.3 205.7h1.7v1.7h-1.7zM566.6 209.1h1.7v1.7h-1.7zM559.5 206.8h1.7v1.7h-1.7zM565.9 207.8h1.7v1.7h-1.7zM564.7 209.6h1.7v1.7h-1.7zM564.7 204.4h1.7v1.7h-1.7zM563.4 209.0h1.7v1.7h-1.7zM560.1 206.7h1.7v1.7h-1.7zM566.1 206.9h1.7v1.7h-1.7zM564.1 206.5h1.7v1.7h-1.7zM565.2 208.4h1.7v1.7h-1.7zM564.2 207.4h1.7v1.7h-1.7zM563.9 210.3h1.7v1.7h-1.7zM569.2 207.4h1.7v1.7h-1.7zM563.1 206.5h1.7v1.7h-1.7zM563.6 209.5h1.7v1.7h-1.7zM563.3 209.5h1.7v1.7h-1.7zM563.6 209.5h1.7v1.7h-1.7zM563.6 209.7h1.7v1.7h-1.7zM563.3 205.8h1.7v1.7h-1.7zM562.1 210.1h1.7v1.7h-1.7zM564.6 207.1h1.7v1.7h-1.7zM563.0 208.5h1.7v1.7h-1.7zM562.1 206.1h1.7v1.7h-1.7zM563.5 203.4h1.7v1.7h-1.7zM566.3 209.3h1.7v1.7h-1.7zM565.2 208.6h1.7v1.7h-1.7zM566.5 207.0h1.7v1.7h-1.7zM565.4 207.1h1.7v1.7h-1.7zM564.6 211.2h1.7v1.7h-1.7zM565.2 210.5h1.7v1.7h-1.7zM560.6 205.1h1.7v1.7h-1.7zM566.0 209.1h1.7v1.7h-1.7zM564.4 208.3h1.7v1.7h-1.7zM566.5 208.5h1.7v1.7h-1.7zM573.1 209.2h1.7v1.7h-1.7zM575.6 209.7h1.7v1.7h-1.7zM582.2 220.4h1.7v1.7h-1.7zM580.4 221.0h1.7v1.7h-1.7zM582.1 221.4h1.7v1.7h-1.7zM579.9 219.4h1.7v1.7h-1.7zM579.6 222.3h1.7v1.7h-1.7zM581.2 220.9h1.7v1.7h-1.7zM580.0 220.3h1.7v1.7h-1.7zM577.5 217.9h1.7v1.7h-1.7zM580.4 223.4h1.7v1.7h-1.7zM579.0 219.5h1.7v1.7h-1.7zM578.9 220.3h1.7v1.7h-1.7zM580.9 223.2h1.7v1.7h-1.7zM579.1 222.6h1.7v1.7h-1.7zM579.5 221.1h1.7v1.7h-1.7zM579.2 221.3h1.7v1.7h-1.7zM579.3 221.7h1.7v1.7h-1.7zM578.9 222.7h1.7v1.7h-1.7zM645.7 232.0h1.7v1.7h-1.7zM641.5 237.9h1.7v1.7h-1.7zM643.7 235.3h1.7v1.7h-1.7zM645.3 231.5h1.7v1.7h-1.7zM642.8 233.9h1.7v1.7h-1.7zM643.1 234.5h1.7v1.7h-1.7z" fill="#ff4d27"/>
</g>
<g stroke="#5a5a5a" stroke-width="1" fill="none"><path d="M242 87.5H752"/><path d="M242 122.5H752"/><path d="M789.5 157V652"/><path d="M825.5 157V652"/></g>
<g clip-path="url(#ct)"><path d="M479.4 97.9h1.7v1.7h-1.7zM482.1 100.2h1.7v1.7h-1.7zM648.3 91.7h1.7v1.7h-1.7zM654.7 89.2h1.7v1.7h-1.7zM654.6 93.8h1.7v1.7h-1.7zM649.7 93.3h1.7v1.7h-1.7zM651.5 97.6h1.7v1.7h-1.7zM645.4 96.2h1.7v1.7h-1.7zM648.4 93.4h1.7v1.7h-1.7zM665.1 111.2h1.7v1.7h-1.7zM657.6 88.2h1.7v1.7h-1.7z" fill="#7f00ff"/><path d="M650.5 97.1h1.7v1.7h-1.7zM651.1 98.4h1.7v1.7h-1.7zM650.5 96.0h1.7v1.7h-1.7zM652.7 98.9h1.7v1.7h-1.7zM651.4 88.4h1.7v1.7h-1.7zM654.6 92.3h1.7v1.7h-1.7zM649.4 94.9h1.7v1.7h-1.7zM650.9 96.5h1.7v1.7h-1.7zM651.2 91.2h1.7v1.7h-1.7zM654.5 97.6h1.7v1.7h-1.7zM657.3 93.6h1.7v1.7h-1.7zM664.1 107.2h1.7v1.7h-1.7zM666.1 107.2h1.7v1.7h-1.7zM656.6 55.9h1.7v1.7h-1.7zM644.1 77.2h1.7v1.7h-1.7zM653.6 81.2h1.7v1.7h-1.7zM660.1 82.2h1.7v1.7h-1.7zM651.1 89.2h1.7v1.7h-1.7zM651.2 85.7h1.7v1.7h-1.7zM651.0 85.1h1.7v1.7h-1.7z" fill="#4d4dfb"/><path d="M479.2 128.4h1.7v1.7h-1.7zM481.6 127.3h1.7v1.7h-1.7zM482.3 134.7h1.7v1.7h-1.7zM480.0 128.2h1.7v1.7h-1.7zM482.4 115.8h1.7v1.7h-1.7zM482.7 134.3h1.7v1.7h-1.7zM565.6 88.0h1.7v1.7h-1.7zM567.7 94.1h1.7v1.7h-1.7zM569.2 88.4h1.7v1.7h-1.7zM566.7 93.7h1.7v1.7h-1.7zM564.3 99.8h1.7v1.7h-1.7zM568.8 96.9h1.7v1.7h-1.7zM567.7 92.7h1.7v1.7h-1.7zM568.8 97.0h1.7v1.7h-1.7zM656.0 94.3h1.7v1.7h-1.7zM654.4 96.4h1.7v1.7h-1.7zM655.9 99.5h1.7v1.7h-1.7zM654.4 98.7h1.7v1.7h-1.7zM647.2 96.9h1.7v1.7h-1.7zM651.4 95.4h1.7v1.7h-1.7zM653.2 94.6h1.7v1.7h-1.7zM652.8 92.1h1.7v1.7h-1.7zM652.8 93.7h1.7v1.7h-1.7zM651.6 95.4h1.7v1.7h-1.7zM653.8 89.6h1.7v1.7h-1.7zM648.3 101.0h1.7v1.7h-1.7zM648.9 95.4h1.7v1.7h-1.7zM655.9 98.3h1.7v1.7h-1.7zM650.2 95.8h1.7v1.7h-1.7zM649.9 91.8h1.7v1.7h-1.7zM648.9 87.6h1.7v1.7h-1.7zM654.2 95.8h1.7v1.7h-1.7zM650.5 97.9h1.7v1.7h-1.7zM652.7 90.6h1.7v1.7h-1.7zM648.9 94.2h1.7v1.7h-1.7zM660.7 110.2h1.7v1.7h-1.7zM662.8 111.0h1.7v1.7h-1.7zM656.2 108.0h1.7v1.7h-1.7zM658.5 108.6h1.7v1.7h-1.7zM656.9 109.1h1.7v1.7h-1.7zM659.6 108.7h1.7v1.7h-1.7zM664.4 111.9h1.7v1.7h-1.7zM658.6 109.3h1.7v1.7h-1.7zM656.7 114.2h1.7v1.7h-1.7zM660.3 113.2h1.7v1.7h-1.7zM659.8 106.8h1.7v1.7h-1.7zM653.2 114.0h1.7v1.7h-1.7zM659.5 106.4h1.7v1.7h-1.7zM664.2 109.0h1.7v1.7h-1.7zM660.0 110.3h1.7v1.7h-1.7zM655.8 108.1h1.7v1.7h-1.7zM668.6 112.2h1.7v1.7h-1.7zM661.1 110.2h1.7v1.7h-1.7zM650.9 57.6h1.7v1.7h-1.7zM650.6 65.7h1.7v1.7h-1.7zM656.1 70.2h1.7v1.7h-1.7zM652.9 71.2h1.7v1.7h-1.7zM658.1 72.2h1.7v1.7h-1.7zM658.1 85.2h1.7v1.7h-1.7zM653.7 85.7h1.7v1.7h-1.7zM652.4 93.5h1.7v1.7h-1.7zM653.7 84.8h1.7v1.7h-1.7zM656.7 88.6h1.7v1.7h-1.7zM653.4 86.1h1.7v1.7h-1.7zM650.6 86.2h1.7v1.7h-1.7zM653.1 86.9h1.7v1.7h-1.7zM652.3 95.1h1.7v1.7h-1.7z" fill="#1995f2"/><path d="M478.4 99.5h1.7v1.7h-1.7zM478.6 98.0h1.7v1.7h-1.7zM482.8 108.8h1.7v1.7h-1.7zM480.8 103.7h1.7v1.7h-1.7zM481.4 121.4h1.7v1.7h-1.7zM480.7 93.9h1.7v1.7h-1.7zM478.6 112.5h1.7v1.7h-1.7zM479.6 95.5h1.7v1.7h-1.7zM480.3 112.1h1.7v1.7h-1.7zM484.1 117.4h1.7v1.7h-1.7zM483.9 123.0h1.7v1.7h-1.7zM479.3 109.7h1.7v1.7h-1.7zM483.0 105.4h1.7v1.7h-1.7zM477.8 128.4h1.7v1.7h-1.7zM483.9 126.1h1.7v1.7h-1.7zM478.0 127.3h1.7v1.7h-1.7zM480.3 110.6h1.7v1.7h-1.7zM482.3 138.0h1.7v1.7h-1.7zM481.8 124.5h1.7v1.7h-1.7zM483.4 128.2h1.7v1.7h-1.7zM477.0 126.9h1.7v1.7h-1.7zM482.4 122.9h1.7v1.7h-1.7zM481.0 132.7h1.7v1.7h-1.7zM478.1 133.8h1.7v1.7h-1.7zM475.9 58.8h1.7v1.7h-1.7zM486.8 83.0h1.7v1.7h-1.7zM478.8 87.0h1.7v1.7h-1.7zM480.1 90.7h1.7v1.7h-1.7zM481.1 91.2h1.7v1.7h-1.7zM483.1 133.2h1.7v1.7h-1.7zM567.2 94.2h1.7v1.7h-1.7zM572.0 93.1h1.7v1.7h-1.7zM571.7 92.7h1.7v1.7h-1.7zM569.5 97.4h1.7v1.7h-1.7zM568.1 94.4h1.7v1.7h-1.7zM572.2 90.2h1.7v1.7h-1.7zM567.3 94.5h1.7v1.7h-1.7zM567.7 92.6h1.7v1.7h-1.7zM569.8 96.8h1.7v1.7h-1.7zM568.6 74.7h1.7v1.7h-1.7zM565.1 79.2h1.7v1.7h-1.7zM571.6 89.7h1.7v1.7h-1.7zM582.1 104.2h1.7v1.7h-1.7zM647.2 97.2h1.7v1.7h-1.7zM652.4 104.8h1.7v1.7h-1.7zM641.5 101.7h1.7v1.7h-1.7zM659.9 97.4h1.7v1.7h-1.7zM653.1 110.9h1.7v1.7h-1.7zM649.3 101.2h1.7v1.7h-1.7zM651.5 100.3h1.7v1.7h-1.7zM643.9 99.9h1.7v1.7h-1.7zM652.2 102.0h1.7v1.7h-1.7zM646.3 102.2h1.7v1.7h-1.7zM647.1 103.8h1.7v1.7h-1.7zM654.6 92.5h1.7v1.7h-1.7zM639.6 105.1h1.7v1.7h-1.7zM649.4 102.1h1.7v1.7h-1.7zM651.4 100.9h1.7v1.7h-1.7zM653.7 105.7h1.7v1.7h-1.7zM651.1 101.0h1.7v1.7h-1.7zM658.4 105.6h1.7v1.7h-1.7zM650.8 96.7h1.7v1.7h-1.7zM652.2 107.9h1.7v1.7h-1.7zM648.5 99.7h1.7v1.7h-1.7zM645.2 102.4h1.7v1.7h-1.7zM654.7 103.6h1.7v1.7h-1.7zM647.1 105.0h1.7v1.7h-1.7zM645.3 114.7h1.7v1.7h-1.7zM657.6 103.7h1.7v1.7h-1.7zM655.3 98.8h1.7v1.7h-1.7zM651.8 95.7h1.7v1.7h-1.7zM650.8 100.0h1.7v1.7h-1.7zM657.2 107.9h1.7v1.7h-1.7zM649.9 96.3h1.7v1.7h-1.7zM647.5 94.0h1.7v1.7h-1.7zM658.1 100.9h1.7v1.7h-1.7zM654.4 95.2h1.7v1.7h-1.7zM659.3 93.2h1.7v1.7h-1.7zM650.6 91.0h1.7v1.7h-1.7zM655.4 100.2h1.7v1.7h-1.7zM650.3 94.9h1.7v1.7h-1.7zM651.1 99.2h1.7v1.7h-1.7zM651.2 95.2h1.7v1.7h-1.7zM647.3 102.1h1.7v1.7h-1.7zM649.4 98.0h1.7v1.7h-1.7zM663.6 108.8h1.7v1.7h-1.7zM663.8 112.7h1.7v1.7h-1.7zM660.6 106.9h1.7v1.7h-1.7zM655.1 103.5h1.7v1.7h-1.7zM661.1 109.5h1.7v1.7h-1.7zM656.1 111.7h1.7v1.7h-1.7zM662.0 111.7h1.7v1.7h-1.7zM659.4 110.1h1.7v1.7h-1.7zM659.9 110.4h1.7v1.7h-1.7zM662.9 112.7h1.7v1.7h-1.7zM659.8 109.5h1.7v1.7h-1.7zM657.2 108.6h1.7v1.7h-1.7zM661.1 106.2h1.7v1.7h-1.7zM659.5 111.0h1.7v1.7h-1.7zM659.8 102.0h1.7v1.7h-1.7zM655.0 110.5h1.7v1.7h-1.7zM659.7 95.5h1.7v1.7h-1.7zM651.9 100.2h1.7v1.7h-1.7zM657.1 101.5h1.7v1.7h-1.7zM657.4 105.2h1.7v1.7h-1.7zM667.6 101.1h1.7v1.7h-1.7zM666.2 96.9h1.7v1.7h-1.7zM670.1 99.7h1.7v1.7h-1.7zM668.0 99.5h1.7v1.7h-1.7zM674.9 99.4h1.7v1.7h-1.7zM671.2 97.1h1.7v1.7h-1.7zM671.9 102.1h1.7v1.7h-1.7zM671.3 100.1h1.7v1.7h-1.7zM672.4 98.0h1.7v1.7h-1.7zM672.3 101.1h1.7v1.7h-1.7zM672.1 93.2h1.7v1.7h-1.7zM663.3 96.8h1.7v1.7h-1.7zM670.8 98.2h1.7v1.7h-1.7zM665.9 95.9h1.7v1.7h-1.7zM669.6 95.4h1.7v1.7h-1.7zM670.5 100.5h1.7v1.7h-1.7zM666.8 94.2h1.7v1.7h-1.7zM669.1 99.5h1.7v1.7h-1.7zM664.0 101.1h1.7v1.7h-1.7zM675.4 95.2h1.7v1.7h-1.7zM672.8 96.2h1.7v1.7h-1.7zM676.2 96.7h1.7v1.7h-1.7zM668.1 100.8h1.7v1.7h-1.7zM669.4 94.8h1.7v1.7h-1.7zM668.6 92.1h1.7v1.7h-1.7zM672.3 95.7h1.7v1.7h-1.7zM666.8 93.0h1.7v1.7h-1.7zM673.7 94.6h1.7v1.7h-1.7zM674.7 95.6h1.7v1.7h-1.7zM670.9 102.5h1.7v1.7h-1.7zM671.6 101.4h1.7v1.7h-1.7zM665.7 101.3h1.7v1.7h-1.7zM670.1 96.0h1.7v1.7h-1.7zM668.4 96.1h1.7v1.7h-1.7zM665.7 95.2h1.7v1.7h-1.7zM665.6 102.5h1.7v1.7h-1.7zM668.3 100.6h1.7v1.7h-1.7zM666.6 96.0h1.7v1.7h-1.7zM666.7 92.4h1.7v1.7h-1.7zM669.4 97.6h1.7v1.7h-1.7zM674.1 99.6h1.7v1.7h-1.7zM668.5 97.1h1.7v1.7h-1.7zM666.3 95.8h1.7v1.7h-1.7zM666.7 92.6h1.7v1.7h-1.7zM666.0 98.3h1.7v1.7h-1.7zM665.4 93.2h1.7v1.7h-1.7zM667.8 92.8h1.7v1.7h-1.7zM673.1 99.8h1.7v1.7h-1.7zM669.0 96.2h1.7v1.7h-1.7zM670.9 98.0h1.7v1.7h-1.7zM672.1 94.7h1.7v1.7h-1.7zM668.1 101.0h1.7v1.7h-1.7zM665.4 100.4h1.7v1.7h-1.7zM668.7 101.2h1.7v1.7h-1.7zM669.2 100.2h1.7v1.7h-1.7zM669.9 98.0h1.7v1.7h-1.7zM665.1 96.2h1.7v1.7h-1.7zM662.5 97.3h1.7v1.7h-1.7zM668.4 100.6h1.7v1.7h-1.7zM676.1 97.4h1.7v1.7h-1.7zM675.5 99.5h1.7v1.7h-1.7zM663.2 98.6h1.7v1.7h-1.7zM666.5 100.8h1.7v1.7h-1.7zM668.3 102.1h1.7v1.7h-1.7zM665.1 95.7h1.7v1.7h-1.7zM665.4 98.3h1.7v1.7h-1.7zM671.1 100.5h1.7v1.7h-1.7zM665.8 98.6h1.7v1.7h-1.7zM670.7 95.4h1.7v1.7h-1.7zM667.7 96.0h1.7v1.7h-1.7zM672.5 98.8h1.7v1.7h-1.7zM675.8 97.2h1.7v1.7h-1.7zM672.8 101.5h1.7v1.7h-1.7zM662.9 100.3h1.7v1.7h-1.7zM667.7 98.4h1.7v1.7h-1.7zM671.3 93.1h1.7v1.7h-1.7zM669.4 94.3h1.7v1.7h-1.7zM664.5 96.5h1.7v1.7h-1.7zM676.2 96.4h1.7v1.7h-1.7zM667.9 101.4h1.7v1.7h-1.7zM662.5 96.2h1.7v1.7h-1.7zM668.4 98.2h1.7v1.7h-1.7zM671.6 102.3h1.7v1.7h-1.7zM667.5 94.4h1.7v1.7h-1.7zM675.0 97.5h1.7v1.7h-1.7zM673.4 98.5h1.7v1.7h-1.7zM673.0 93.5h1.7v1.7h-1.7zM665.6 96.7h1.7v1.7h-1.7zM674.7 94.7h1.7v1.7h-1.7zM672.3 101.2h1.7v1.7h-1.7zM663.0 98.1h1.7v1.7h-1.7zM672.6 97.3h1.7v1.7h-1.7zM663.9 95.4h1.7v1.7h-1.7zM674.4 97.8h1.7v1.7h-1.7zM671.9 96.0h1.7v1.7h-1.7zM666.7 101.4h1.7v1.7h-1.7zM674.9 95.5h1.7v1.7h-1.7zM664.1 99.6h1.7v1.7h-1.7zM665.6 95.3h1.7v1.7h-1.7zM668.3 102.9h1.7v1.7h-1.7zM666.8 95.3h1.7v1.7h-1.7zM666.6 95.5h1.7v1.7h-1.7zM669.3 100.4h1.7v1.7h-1.7zM673.2 102.0h1.7v1.7h-1.7zM668.5 99.2h1.7v1.7h-1.7zM665.5 95.4h1.7v1.7h-1.7zM664.0 97.7h1.7v1.7h-1.7zM673.1 96.3h1.7v1.7h-1.7zM671.2 96.0h1.7v1.7h-1.7zM668.4 100.6h1.7v1.7h-1.7zM672.6 100.3h1.7v1.7h-1.7zM666.3 100.6h1.7v1.7h-1.7zM670.7 92.4h1.7v1.7h-1.7zM665.3 98.4h1.7v1.7h-1.7zM664.7 95.9h1.7v1.7h-1.7zM674.3 93.8h1.7v1.7h-1.7zM665.5 99.7h1.7v1.7h-1.7zM674.4 100.2h1.7v1.7h-1.7zM667.2 102.7h1.7v1.7h-1.7zM667.4 97.9h1.7v1.7h-1.7zM670.2 100.7h1.7v1.7h-1.7zM664.6 102.0h1.7v1.7h-1.7zM673.3 94.8h1.7v1.7h-1.7zM672.1 97.4h1.7v1.7h-1.7zM669.0 95.4h1.7v1.7h-1.7zM668.2 95.4h1.7v1.7h-1.7zM665.3 102.3h1.7v1.7h-1.7zM668.6 95.5h1.7v1.7h-1.7zM672.2 93.0h1.7v1.7h-1.7zM673.5 100.6h1.7v1.7h-1.7zM663.7 101.3h1.7v1.7h-1.7zM663.2 97.4h1.7v1.7h-1.7zM672.1 95.1h1.7v1.7h-1.7zM668.6 100.0h1.7v1.7h-1.7zM675.3 100.4h1.7v1.7h-1.7zM671.4 95.9h1.7v1.7h-1.7zM666.1 93.5h1.7v1.7h-1.7zM675.6 98.5h1.7v1.7h-1.7zM662.6 100.1h1.7v1.7h-1.7zM665.7 99.5h1.7v1.7h-1.7zM670.7 99.8h1.7v1.7h-1.7zM671.2 95.5h1.7v1.7h-1.7zM671.0 100.6h1.7v1.7h-1.7zM670.6 98.0h1.7v1.7h-1.7zM663.7 99.1h1.7v1.7h-1.7zM667.0 102.1h1.7v1.7h-1.7zM673.5 97.2h1.7v1.7h-1.7zM674.8 95.9h1.7v1.7h-1.7zM667.7 98.8h1.7v1.7h-1.7zM672.8 99.5h1.7v1.7h-1.7zM669.7 101.0h1.7v1.7h-1.7zM668.8 96.2h1.7v1.7h-1.7zM675.6 97.0h1.7v1.7h-1.7zM673.3 101.1h1.7v1.7h-1.7zM670.0 100.5h1.7v1.7h-1.7zM672.8 96.9h1.7v1.7h-1.7zM666.7 102.7h1.7v1.7h-1.7zM674.1 94.8h1.7v1.7h-1.7zM668.6 96.1h1.7v1.7h-1.7zM669.8 101.1h1.7v1.7h-1.7zM671.3 99.0h1.7v1.7h-1.7zM671.8 95.8h1.7v1.7h-1.7zM666.8 93.1h1.7v1.7h-1.7zM673.2 97.6h1.7v1.7h-1.7zM674.4 101.3h1.7v1.7h-1.7zM668.0 98.9h1.7v1.7h-1.7zM664.8 93.3h1.7v1.7h-1.7zM668.9 98.5h1.7v1.7h-1.7zM672.0 93.7h1.7v1.7h-1.7zM671.8 93.0h1.7v1.7h-1.7zM667.6 92.7h1.7v1.7h-1.7zM671.5 98.0h1.7v1.7h-1.7zM675.0 94.7h1.7v1.7h-1.7zM665.6 98.8h1.7v1.7h-1.7zM667.5 93.5h1.7v1.7h-1.7zM663.3 100.4h1.7v1.7h-1.7zM664.2 96.8h1.7v1.7h-1.7zM666.6 100.4h1.7v1.7h-1.7zM664.6 97.6h1.7v1.7h-1.7zM669.7 103.1h1.7v1.7h-1.7zM667.7 95.9h1.7v1.7h-1.7zM675.0 92.8h1.7v1.7h-1.7zM669.8 97.9h1.7v1.7h-1.7zM675.2 93.7h1.7v1.7h-1.7zM674.3 92.3h1.7v1.7h-1.7zM666.0 95.3h1.7v1.7h-1.7zM665.9 94.3h1.7v1.7h-1.7zM667.3 91.9h1.7v1.7h-1.7zM667.8 92.5h1.7v1.7h-1.7zM672.2 94.0h1.7v1.7h-1.7zM671.5 95.7h1.7v1.7h-1.7zM673.6 93.2h1.7v1.7h-1.7zM667.4 93.5h1.7v1.7h-1.7zM670.2 95.8h1.7v1.7h-1.7zM674.0 95.5h1.7v1.7h-1.7zM674.4 94.0h1.7v1.7h-1.7zM670.9 94.1h1.7v1.7h-1.7zM668.3 93.9h1.7v1.7h-1.7zM671.6 93.8h1.7v1.7h-1.7zM671.7 96.8h1.7v1.7h-1.7zM679.5 94.0h1.7v1.7h-1.7zM670.3 93.3h1.7v1.7h-1.7zM666.1 94.1h1.7v1.7h-1.7zM677.5 99.5h1.7v1.7h-1.7zM673.5 93.1h1.7v1.7h-1.7zM665.5 96.5h1.7v1.7h-1.7zM663.2 99.7h1.7v1.7h-1.7zM665.5 99.2h1.7v1.7h-1.7zM663.7 102.7h1.7v1.7h-1.7zM665.0 94.2h1.7v1.7h-1.7zM663.2 96.1h1.7v1.7h-1.7zM663.3 95.5h1.7v1.7h-1.7zM661.7 95.5h1.7v1.7h-1.7zM665.0 96.4h1.7v1.7h-1.7zM663.7 95.1h1.7v1.7h-1.7zM662.8 98.9h1.7v1.7h-1.7zM667.4 92.5h1.7v1.7h-1.7zM664.2 96.4h1.7v1.7h-1.7zM663.9 98.1h1.7v1.7h-1.7zM662.7 99.2h1.7v1.7h-1.7zM666.0 96.2h1.7v1.7h-1.7zM664.5 97.1h1.7v1.7h-1.7zM662.5 96.4h1.7v1.7h-1.7zM663.7 97.7h1.7v1.7h-1.7zM665.3 95.7h1.7v1.7h-1.7zM676.6 59.6h1.7v1.7h-1.7zM654.6 68.2h1.7v1.7h-1.7zM672.6 74.7h1.7v1.7h-1.7zM665.1 82.7h1.7v1.7h-1.7zM652.1 83.2h1.7v1.7h-1.7zM669.1 87.2h1.7v1.7h-1.7zM673.6 87.7h1.7v1.7h-1.7zM654.0 86.4h1.7v1.7h-1.7zM652.4 84.3h1.7v1.7h-1.7zM654.6 88.0h1.7v1.7h-1.7zM650.8 85.0h1.7v1.7h-1.7zM654.4 92.9h1.7v1.7h-1.7zM652.7 88.0h1.7v1.7h-1.7zM657.9 89.1h1.7v1.7h-1.7zM654.2 82.9h1.7v1.7h-1.7zM650.3 89.0h1.7v1.7h-1.7z" fill="#18cde3"/><path d="M478.6 111.2h1.7v1.7h-1.7zM481.7 109.2h1.7v1.7h-1.7zM479.2 134.3h1.7v1.7h-1.7zM479.5 137.4h1.7v1.7h-1.7zM484.8 129.2h1.7v1.7h-1.7zM481.1 118.6h1.7v1.7h-1.7zM479.9 78.7h1.7v1.7h-1.7zM568.9 101.4h1.7v1.7h-1.7zM568.8 95.5h1.7v1.7h-1.7zM568.6 92.5h1.7v1.7h-1.7zM565.0 93.8h1.7v1.7h-1.7zM569.2 88.1h1.7v1.7h-1.7zM568.6 99.9h1.7v1.7h-1.7zM570.8 91.3h1.7v1.7h-1.7zM569.4 57.1h1.7v1.7h-1.7zM570.1 70.2h1.7v1.7h-1.7zM584.3 84.6h1.7v1.7h-1.7zM585.0 89.0h1.7v1.7h-1.7zM583.8 86.3h1.7v1.7h-1.7zM583.6 94.8h1.7v1.7h-1.7zM583.4 88.6h1.7v1.7h-1.7zM583.8 88.1h1.7v1.7h-1.7zM583.5 88.7h1.7v1.7h-1.7zM585.3 91.3h1.7v1.7h-1.7zM584.8 84.8h1.7v1.7h-1.7zM585.9 96.4h1.7v1.7h-1.7zM584.9 96.1h1.7v1.7h-1.7zM584.8 84.8h1.7v1.7h-1.7zM584.9 88.8h1.7v1.7h-1.7zM585.6 92.9h1.7v1.7h-1.7zM583.4 84.2h1.7v1.7h-1.7zM585.7 80.7h1.7v1.7h-1.7zM584.6 95.3h1.7v1.7h-1.7zM582.1 88.8h1.7v1.7h-1.7zM584.4 89.6h1.7v1.7h-1.7zM582.1 88.9h1.7v1.7h-1.7zM583.1 96.5h1.7v1.7h-1.7zM581.5 81.6h1.7v1.7h-1.7zM584.1 82.7h1.7v1.7h-1.7zM588.1 82.7h1.7v1.7h-1.7zM583.1 105.2h1.7v1.7h-1.7zM654.6 108.4h1.7v1.7h-1.7zM649.6 101.5h1.7v1.7h-1.7zM653.4 111.0h1.7v1.7h-1.7zM650.4 92.2h1.7v1.7h-1.7zM652.4 107.2h1.7v1.7h-1.7zM640.8 95.7h1.7v1.7h-1.7zM650.3 102.2h1.7v1.7h-1.7zM642.4 99.9h1.7v1.7h-1.7zM644.8 107.0h1.7v1.7h-1.7zM653.9 95.4h1.7v1.7h-1.7zM644.7 104.3h1.7v1.7h-1.7zM648.1 104.8h1.7v1.7h-1.7zM657.1 101.0h1.7v1.7h-1.7zM654.7 96.7h1.7v1.7h-1.7zM637.7 100.3h1.7v1.7h-1.7zM647.2 108.4h1.7v1.7h-1.7zM653.8 95.4h1.7v1.7h-1.7zM658.7 95.6h1.7v1.7h-1.7zM648.4 105.5h1.7v1.7h-1.7zM652.1 100.3h1.7v1.7h-1.7zM644.1 60.1h1.7v1.7h-1.7zM656.1 82.2h1.7v1.7h-1.7zM654.5 87.0h1.7v1.7h-1.7z" fill="#4cf2ce"/><path d="M480.0 111.3h1.7v1.7h-1.7zM479.2 95.1h1.7v1.7h-1.7zM485.6 114.1h1.7v1.7h-1.7zM484.1 102.7h1.7v1.7h-1.7zM479.9 119.1h1.7v1.7h-1.7zM475.4 117.6h1.7v1.7h-1.7zM481.2 128.5h1.7v1.7h-1.7zM476.6 131.0h1.7v1.7h-1.7zM480.0 131.3h1.7v1.7h-1.7zM481.7 127.0h1.7v1.7h-1.7zM478.6 120.1h1.7v1.7h-1.7zM486.3 129.4h1.7v1.7h-1.7zM484.9 132.1h1.7v1.7h-1.7zM479.2 125.3h1.7v1.7h-1.7zM479.3 129.8h1.7v1.7h-1.7zM481.9 131.6h1.7v1.7h-1.7zM482.3 128.6h1.7v1.7h-1.7zM477.6 81.2h1.7v1.7h-1.7zM474.6 111.7h1.7v1.7h-1.7zM488.1 130.7h1.7v1.7h-1.7zM570.6 75.2h1.7v1.7h-1.7zM656.1 104.7h1.7v1.7h-1.7zM649.3 99.9h1.7v1.7h-1.7zM645.7 108.3h1.7v1.7h-1.7zM655.6 104.0h1.7v1.7h-1.7zM651.2 102.5h1.7v1.7h-1.7zM647.4 106.9h1.7v1.7h-1.7zM647.6 101.8h1.7v1.7h-1.7zM648.4 98.2h1.7v1.7h-1.7zM656.6 103.2h1.7v1.7h-1.7zM642.3 103.9h1.7v1.7h-1.7zM651.4 110.8h1.7v1.7h-1.7zM651.4 94.6h1.7v1.7h-1.7zM652.4 98.6h1.7v1.7h-1.7zM649.0 108.7h1.7v1.7h-1.7zM650.3 99.6h1.7v1.7h-1.7zM653.3 97.5h1.7v1.7h-1.7zM652.6 102.6h1.7v1.7h-1.7zM657.8 102.3h1.7v1.7h-1.7zM636.3 100.9h1.7v1.7h-1.7zM649.5 108.6h1.7v1.7h-1.7zM648.3 102.6h1.7v1.7h-1.7zM648.1 102.1h1.7v1.7h-1.7zM654.7 103.1h1.7v1.7h-1.7zM647.0 108.8h1.7v1.7h-1.7zM648.5 93.7h1.7v1.7h-1.7zM650.2 105.1h1.7v1.7h-1.7zM638.4 101.2h1.7v1.7h-1.7zM651.0 108.4h1.7v1.7h-1.7zM645.5 102.8h1.7v1.7h-1.7zM656.1 103.9h1.7v1.7h-1.7zM650.1 100.8h1.7v1.7h-1.7zM655.4 108.0h1.7v1.7h-1.7zM655.7 105.1h1.7v1.7h-1.7zM656.8 105.7h1.7v1.7h-1.7zM654.3 103.1h1.7v1.7h-1.7zM654.0 100.5h1.7v1.7h-1.7zM662.7 101.8h1.7v1.7h-1.7zM653.5 104.9h1.7v1.7h-1.7zM654.4 102.5h1.7v1.7h-1.7zM653.6 105.1h1.7v1.7h-1.7zM656.9 100.1h1.7v1.7h-1.7zM656.7 101.3h1.7v1.7h-1.7zM651.3 103.1h1.7v1.7h-1.7zM658.9 99.8h1.7v1.7h-1.7zM652.9 111.4h1.7v1.7h-1.7zM654.9 98.8h1.7v1.7h-1.7zM652.6 61.1h1.7v1.7h-1.7zM652.1 69.2h1.7v1.7h-1.7zM660.6 90.7h1.7v1.7h-1.7z" fill="#80feb3"/><path d="M479.6 109.9h1.7v1.7h-1.7zM479.1 107.9h1.7v1.7h-1.7zM479.6 109.7h1.7v1.7h-1.7zM482.1 104.2h1.7v1.7h-1.7zM484.3 113.0h1.7v1.7h-1.7zM480.1 110.4h1.7v1.7h-1.7zM480.0 114.0h1.7v1.7h-1.7zM481.5 131.4h1.7v1.7h-1.7zM482.5 121.1h1.7v1.7h-1.7zM481.1 117.1h1.7v1.7h-1.7zM480.3 121.2h1.7v1.7h-1.7zM475.9 67.0h1.7v1.7h-1.7zM485.1 67.4h1.7v1.7h-1.7zM476.6 89.2h1.7v1.7h-1.7zM479.1 95.2h1.7v1.7h-1.7zM477.1 98.2h1.7v1.7h-1.7zM568.8 97.5h1.7v1.7h-1.7zM569.6 91.4h1.7v1.7h-1.7zM566.1 93.3h1.7v1.7h-1.7zM566.3 92.8h1.7v1.7h-1.7zM564.1 88.1h1.7v1.7h-1.7zM658.0 107.2h1.7v1.7h-1.7zM643.9 99.0h1.7v1.7h-1.7zM652.0 107.1h1.7v1.7h-1.7zM656.6 105.5h1.7v1.7h-1.7zM650.6 104.0h1.7v1.7h-1.7zM655.9 99.1h1.7v1.7h-1.7zM655.4 104.3h1.7v1.7h-1.7zM650.8 101.8h1.7v1.7h-1.7zM648.5 97.6h1.7v1.7h-1.7zM649.4 105.3h1.7v1.7h-1.7zM657.8 94.4h1.7v1.7h-1.7zM652.3 95.4h1.7v1.7h-1.7zM644.8 97.1h1.7v1.7h-1.7zM643.2 108.9h1.7v1.7h-1.7zM649.1 101.1h1.7v1.7h-1.7zM645.3 99.9h1.7v1.7h-1.7zM655.3 103.0h1.7v1.7h-1.7zM650.1 93.9h1.7v1.7h-1.7zM654.8 100.5h1.7v1.7h-1.7zM647.6 99.9h1.7v1.7h-1.7zM656.7 103.8h1.7v1.7h-1.7zM663.4 100.5h1.7v1.7h-1.7zM641.5 101.4h1.7v1.7h-1.7zM651.8 93.6h1.7v1.7h-1.7zM655.3 102.5h1.7v1.7h-1.7zM653.0 99.6h1.7v1.7h-1.7zM655.8 108.4h1.7v1.7h-1.7zM652.0 109.4h1.7v1.7h-1.7zM647.3 104.1h1.7v1.7h-1.7zM665.0 96.5h1.7v1.7h-1.7zM643.7 100.5h1.7v1.7h-1.7zM652.8 104.6h1.7v1.7h-1.7zM656.3 95.4h1.7v1.7h-1.7zM644.1 102.5h1.7v1.7h-1.7zM646.4 98.0h1.7v1.7h-1.7zM644.4 111.8h1.7v1.7h-1.7zM659.5 98.4h1.7v1.7h-1.7zM647.4 97.7h1.7v1.7h-1.7zM659.2 95.7h1.7v1.7h-1.7zM656.0 106.3h1.7v1.7h-1.7zM651.0 108.8h1.7v1.7h-1.7zM651.7 100.0h1.7v1.7h-1.7zM655.6 102.5h1.7v1.7h-1.7zM648.2 99.1h1.7v1.7h-1.7zM648.5 100.5h1.7v1.7h-1.7zM660.9 109.3h1.7v1.7h-1.7zM646.4 95.6h1.7v1.7h-1.7zM659.3 98.6h1.7v1.7h-1.7zM645.0 100.2h1.7v1.7h-1.7zM648.2 101.3h1.7v1.7h-1.7zM638.0 105.7h1.7v1.7h-1.7zM644.1 96.8h1.7v1.7h-1.7zM651.2 95.4h1.7v1.7h-1.7zM661.0 108.4h1.7v1.7h-1.7zM650.5 107.2h1.7v1.7h-1.7zM650.3 115.1h1.7v1.7h-1.7zM654.7 98.5h1.7v1.7h-1.7zM655.3 112.1h1.7v1.7h-1.7zM658.2 104.5h1.7v1.7h-1.7zM657.8 107.6h1.7v1.7h-1.7zM659.3 105.0h1.7v1.7h-1.7zM659.0 106.6h1.7v1.7h-1.7zM664.2 107.8h1.7v1.7h-1.7zM652.0 112.3h1.7v1.7h-1.7zM659.7 109.5h1.7v1.7h-1.7zM661.0 105.7h1.7v1.7h-1.7zM655.4 111.4h1.7v1.7h-1.7zM646.8 103.1h1.7v1.7h-1.7zM645.6 99.3h1.7v1.7h-1.7zM646.9 99.5h1.7v1.7h-1.7zM644.9 100.1h1.7v1.7h-1.7zM648.9 101.8h1.7v1.7h-1.7zM644.3 100.9h1.7v1.7h-1.7zM645.1 102.0h1.7v1.7h-1.7zM642.8 104.9h1.7v1.7h-1.7zM640.3 103.8h1.7v1.7h-1.7zM645.1 96.5h1.7v1.7h-1.7zM650.9 101.3h1.7v1.7h-1.7zM655.4 107.4h1.7v1.7h-1.7zM657.6 104.5h1.7v1.7h-1.7zM653.1 101.9h1.7v1.7h-1.7zM650.4 106.9h1.7v1.7h-1.7zM656.0 101.0h1.7v1.7h-1.7zM654.4 108.4h1.7v1.7h-1.7zM651.6 108.6h1.7v1.7h-1.7zM651.9 101.8h1.7v1.7h-1.7zM655.9 107.5h1.7v1.7h-1.7zM656.5 99.9h1.7v1.7h-1.7zM661.1 102.7h1.7v1.7h-1.7zM657.3 104.1h1.7v1.7h-1.7zM654.6 103.7h1.7v1.7h-1.7zM655.1 106.6h1.7v1.7h-1.7zM655.1 97.8h1.7v1.7h-1.7zM658.3 104.6h1.7v1.7h-1.7zM650.1 100.4h1.7v1.7h-1.7zM657.2 102.5h1.7v1.7h-1.7zM651.5 107.6h1.7v1.7h-1.7zM650.6 103.9h1.7v1.7h-1.7zM649.3 101.7h1.7v1.7h-1.7zM635.1 93.2h1.7v1.7h-1.7zM637.1 103.7h1.7v1.7h-1.7zM642.6 66.2h1.7v1.7h-1.7zM653.1 76.7h1.7v1.7h-1.7zM654.1 84.2h1.7v1.7h-1.7zM653.1 87.2h1.7v1.7h-1.7zM655.5 90.4h1.7v1.7h-1.7zM650.1 86.1h1.7v1.7h-1.7zM657.8 82.1h1.7v1.7h-1.7zM654.7 83.0h1.7v1.7h-1.7z" fill="#b2f295"/><path d="M478.6 115.0h1.7v1.7h-1.7zM477.0 119.1h1.7v1.7h-1.7zM478.3 111.6h1.7v1.7h-1.7zM479.7 101.0h1.7v1.7h-1.7zM478.9 106.4h1.7v1.7h-1.7zM479.5 120.5h1.7v1.7h-1.7zM480.4 110.1h1.7v1.7h-1.7zM479.0 107.0h1.7v1.7h-1.7zM479.8 112.8h1.7v1.7h-1.7zM479.9 97.2h1.7v1.7h-1.7zM481.4 120.1h1.7v1.7h-1.7zM478.9 125.8h1.7v1.7h-1.7zM481.5 125.3h1.7v1.7h-1.7zM478.2 130.8h1.7v1.7h-1.7zM483.1 112.7h1.7v1.7h-1.7zM470.1 105.2h1.7v1.7h-1.7zM484.1 107.7h1.7v1.7h-1.7zM567.3 100.9h1.7v1.7h-1.7zM566.4 93.5h1.7v1.7h-1.7zM567.7 93.4h1.7v1.7h-1.7zM566.2 92.9h1.7v1.7h-1.7zM569.9 94.3h1.7v1.7h-1.7zM566.3 93.3h1.7v1.7h-1.7zM570.1 94.3h1.7v1.7h-1.7zM569.3 101.2h1.7v1.7h-1.7zM568.8 94.3h1.7v1.7h-1.7zM568.2 94.6h1.7v1.7h-1.7zM566.1 76.7h1.7v1.7h-1.7zM582.0 103.0h1.7v1.7h-1.7zM580.2 101.8h1.7v1.7h-1.7zM576.6 92.6h1.7v1.7h-1.7zM580.6 91.7h1.7v1.7h-1.7zM581.6 106.7h1.7v1.7h-1.7zM649.7 116.4h1.7v1.7h-1.7zM642.3 102.3h1.7v1.7h-1.7zM662.8 100.3h1.7v1.7h-1.7zM647.3 106.5h1.7v1.7h-1.7zM641.9 98.8h1.7v1.7h-1.7zM654.4 109.1h1.7v1.7h-1.7zM651.6 110.0h1.7v1.7h-1.7zM643.7 107.7h1.7v1.7h-1.7zM648.6 94.9h1.7v1.7h-1.7zM653.1 107.1h1.7v1.7h-1.7zM644.3 106.6h1.7v1.7h-1.7zM652.2 96.0h1.7v1.7h-1.7zM649.6 100.8h1.7v1.7h-1.7zM639.2 108.5h1.7v1.7h-1.7zM653.9 100.9h1.7v1.7h-1.7zM656.3 103.2h1.7v1.7h-1.7zM643.2 99.7h1.7v1.7h-1.7zM654.1 98.4h1.7v1.7h-1.7zM644.1 102.4h1.7v1.7h-1.7zM658.0 106.6h1.7v1.7h-1.7zM656.6 101.9h1.7v1.7h-1.7zM660.4 100.7h1.7v1.7h-1.7zM655.1 110.3h1.7v1.7h-1.7zM664.2 108.9h1.7v1.7h-1.7zM649.9 104.1h1.7v1.7h-1.7zM648.5 101.3h1.7v1.7h-1.7zM655.2 103.5h1.7v1.7h-1.7zM660.3 101.3h1.7v1.7h-1.7zM655.8 103.1h1.7v1.7h-1.7zM651.9 104.0h1.7v1.7h-1.7zM664.0 101.2h1.7v1.7h-1.7zM657.8 104.3h1.7v1.7h-1.7zM661.3 104.6h1.7v1.7h-1.7zM656.2 105.7h1.7v1.7h-1.7zM652.8 102.8h1.7v1.7h-1.7zM661.5 110.0h1.7v1.7h-1.7zM656.1 100.8h1.7v1.7h-1.7zM655.9 104.5h1.7v1.7h-1.7zM648.1 63.6h1.7v1.7h-1.7z" fill="#e6cd73"/><path d="M478.6 107.6h1.7v1.7h-1.7zM480.5 107.4h1.7v1.7h-1.7zM478.1 97.0h1.7v1.7h-1.7zM480.1 114.2h1.7v1.7h-1.7zM483.7 108.2h1.7v1.7h-1.7zM480.6 116.8h1.7v1.7h-1.7zM480.1 135.7h1.7v1.7h-1.7zM565.7 97.7h1.7v1.7h-1.7zM564.5 99.5h1.7v1.7h-1.7zM565.0 92.3h1.7v1.7h-1.7zM566.8 95.6h1.7v1.7h-1.7zM567.3 89.4h1.7v1.7h-1.7zM568.3 94.0h1.7v1.7h-1.7zM578.2 101.9h1.7v1.7h-1.7zM581.3 101.2h1.7v1.7h-1.7zM581.5 103.2h1.7v1.7h-1.7zM581.2 99.6h1.7v1.7h-1.7zM578.7 93.1h1.7v1.7h-1.7zM579.3 91.8h1.7v1.7h-1.7zM579.1 88.2h1.7v1.7h-1.7zM653.3 110.7h1.7v1.7h-1.7zM654.9 110.3h1.7v1.7h-1.7zM657.7 105.7h1.7v1.7h-1.7zM656.3 110.5h1.7v1.7h-1.7zM656.4 106.3h1.7v1.7h-1.7zM655.5 108.4h1.7v1.7h-1.7zM654.1 104.3h1.7v1.7h-1.7zM651.8 110.0h1.7v1.7h-1.7zM655.1 105.6h1.7v1.7h-1.7zM657.1 104.7h1.7v1.7h-1.7zM654.7 105.9h1.7v1.7h-1.7zM652.6 111.1h1.7v1.7h-1.7zM654.7 107.3h1.7v1.7h-1.7zM658.0 106.0h1.7v1.7h-1.7zM649.0 103.8h1.7v1.7h-1.7zM654.0 110.8h1.7v1.7h-1.7zM647.8 107.4h1.7v1.7h-1.7zM655.9 104.9h1.7v1.7h-1.7zM656.3 108.5h1.7v1.7h-1.7zM651.1 105.1h1.7v1.7h-1.7zM657.3 107.1h1.7v1.7h-1.7zM650.4 108.9h1.7v1.7h-1.7zM650.5 101.9h1.7v1.7h-1.7zM649.6 108.9h1.7v1.7h-1.7zM653.1 106.2h1.7v1.7h-1.7zM651.0 107.7h1.7v1.7h-1.7zM648.9 105.1h1.7v1.7h-1.7zM649.4 110.0h1.7v1.7h-1.7zM648.9 107.1h1.7v1.7h-1.7zM648.5 109.4h1.7v1.7h-1.7zM653.4 111.7h1.7v1.7h-1.7zM656.1 110.4h1.7v1.7h-1.7zM651.4 102.5h1.7v1.7h-1.7zM654.3 109.7h1.7v1.7h-1.7zM654.1 106.8h1.7v1.7h-1.7zM657.1 105.8h1.7v1.7h-1.7zM655.6 110.5h1.7v1.7h-1.7zM657.3 109.7h1.7v1.7h-1.7zM649.5 104.4h1.7v1.7h-1.7zM650.1 108.7h1.7v1.7h-1.7zM652.9 105.0h1.7v1.7h-1.7zM649.8 105.2h1.7v1.7h-1.7zM648.2 104.4h1.7v1.7h-1.7zM651.0 103.0h1.7v1.7h-1.7zM655.6 110.7h1.7v1.7h-1.7zM653.7 101.4h1.7v1.7h-1.7zM650.9 108.2h1.7v1.7h-1.7zM652.7 103.9h1.7v1.7h-1.7zM648.5 105.6h1.7v1.7h-1.7zM653.9 107.2h1.7v1.7h-1.7zM653.5 109.8h1.7v1.7h-1.7zM649.2 109.6h1.7v1.7h-1.7zM658.1 106.7h1.7v1.7h-1.7zM650.9 106.1h1.7v1.7h-1.7zM653.2 106.7h1.7v1.7h-1.7zM647.8 106.0h1.7v1.7h-1.7zM657.0 106.2h1.7v1.7h-1.7zM656.5 104.6h1.7v1.7h-1.7zM650.4 103.1h1.7v1.7h-1.7zM657.6 108.6h1.7v1.7h-1.7zM650.3 108.2h1.7v1.7h-1.7zM651.3 110.2h1.7v1.7h-1.7zM654.6 111.3h1.7v1.7h-1.7zM655.2 104.0h1.7v1.7h-1.7zM650.6 109.8h1.7v1.7h-1.7zM652.9 109.9h1.7v1.7h-1.7zM653.7 101.3h1.7v1.7h-1.7zM653.7 107.7h1.7v1.7h-1.7zM651.3 102.3h1.7v1.7h-1.7zM651.8 110.4h1.7v1.7h-1.7zM649.5 104.2h1.7v1.7h-1.7zM651.0 108.0h1.7v1.7h-1.7zM657.2 103.1h1.7v1.7h-1.7zM654.0 110.4h1.7v1.7h-1.7zM656.9 103.9h1.7v1.7h-1.7zM654.6 107.5h1.7v1.7h-1.7zM656.0 107.5h1.7v1.7h-1.7zM658.4 106.4h1.7v1.7h-1.7zM652.6 107.1h1.7v1.7h-1.7zM649.9 106.0h1.7v1.7h-1.7zM654.8 108.4h1.7v1.7h-1.7zM656.1 105.5h1.7v1.7h-1.7zM648.8 107.1h1.7v1.7h-1.7zM654.3 101.7h1.7v1.7h-1.7zM650.6 103.5h1.7v1.7h-1.7zM654.9 111.6h1.7v1.7h-1.7zM650.1 103.2h1.7v1.7h-1.7zM653.3 112.0h1.7v1.7h-1.7zM651.9 104.8h1.7v1.7h-1.7zM648.1 105.9h1.7v1.7h-1.7zM657.5 108.6h1.7v1.7h-1.7zM650.7 111.4h1.7v1.7h-1.7zM653.8 107.5h1.7v1.7h-1.7zM652.6 108.3h1.7v1.7h-1.7zM653.3 106.2h1.7v1.7h-1.7zM653.5 106.7h1.7v1.7h-1.7zM653.7 109.3h1.7v1.7h-1.7zM655.5 103.2h1.7v1.7h-1.7zM655.5 109.3h1.7v1.7h-1.7zM652.7 108.6h1.7v1.7h-1.7zM650.4 110.5h1.7v1.7h-1.7zM652.2 104.8h1.7v1.7h-1.7zM658.6 105.9h1.7v1.7h-1.7zM650.1 106.9h1.7v1.7h-1.7zM652.0 106.2h1.7v1.7h-1.7zM655.4 106.0h1.7v1.7h-1.7zM652.9 105.7h1.7v1.7h-1.7zM651.8 108.9h1.7v1.7h-1.7zM654.5 102.4h1.7v1.7h-1.7zM651.3 109.4h1.7v1.7h-1.7zM653.5 107.1h1.7v1.7h-1.7zM652.6 109.8h1.7v1.7h-1.7zM650.8 108.9h1.7v1.7h-1.7zM650.3 106.6h1.7v1.7h-1.7zM651.8 111.2h1.7v1.7h-1.7zM653.6 104.7h1.7v1.7h-1.7zM649.7 108.9h1.7v1.7h-1.7zM654.0 106.3h1.7v1.7h-1.7zM656.5 105.0h1.7v1.7h-1.7zM655.2 102.3h1.7v1.7h-1.7zM656.3 106.5h1.7v1.7h-1.7zM653.2 108.4h1.7v1.7h-1.7zM655.9 109.7h1.7v1.7h-1.7zM649.7 110.8h1.7v1.7h-1.7zM649.3 104.0h1.7v1.7h-1.7zM653.6 110.4h1.7v1.7h-1.7zM653.0 102.4h1.7v1.7h-1.7zM650.5 104.7h1.7v1.7h-1.7zM654.9 109.7h1.7v1.7h-1.7zM656.2 110.6h1.7v1.7h-1.7zM648.1 105.6h1.7v1.7h-1.7zM656.0 103.8h1.7v1.7h-1.7zM657.1 109.3h1.7v1.7h-1.7zM653.9 101.7h1.7v1.7h-1.7zM649.0 105.6h1.7v1.7h-1.7zM658.2 105.1h1.7v1.7h-1.7zM653.3 102.4h1.7v1.7h-1.7zM656.6 108.8h1.7v1.7h-1.7zM657.9 106.4h1.7v1.7h-1.7zM649.1 105.2h1.7v1.7h-1.7zM657.7 104.2h1.7v1.7h-1.7zM648.9 109.1h1.7v1.7h-1.7zM657.0 107.8h1.7v1.7h-1.7zM657.5 105.2h1.7v1.7h-1.7zM653.0 111.8h1.7v1.7h-1.7zM652.4 110.2h1.7v1.7h-1.7zM655.9 105.0h1.7v1.7h-1.7zM658.0 105.3h1.7v1.7h-1.7zM653.4 105.0h1.7v1.7h-1.7zM655.4 103.4h1.7v1.7h-1.7zM652.5 105.6h1.7v1.7h-1.7zM648.6 105.8h1.7v1.7h-1.7zM654.2 111.8h1.7v1.7h-1.7zM652.6 112.0h1.7v1.7h-1.7zM655.9 104.7h1.7v1.7h-1.7zM652.7 101.6h1.7v1.7h-1.7zM649.6 109.4h1.7v1.7h-1.7zM654.7 108.7h1.7v1.7h-1.7zM653.9 107.7h1.7v1.7h-1.7zM652.4 110.8h1.7v1.7h-1.7zM655.7 108.7h1.7v1.7h-1.7zM650.6 111.1h1.7v1.7h-1.7zM658.3 108.1h1.7v1.7h-1.7zM657.1 105.4h1.7v1.7h-1.7zM657.2 105.3h1.7v1.7h-1.7zM651.6 107.9h1.7v1.7h-1.7zM650.6 108.5h1.7v1.7h-1.7zM652.0 111.5h1.7v1.7h-1.7zM656.0 109.3h1.7v1.7h-1.7zM654.2 103.8h1.7v1.7h-1.7zM653.6 110.6h1.7v1.7h-1.7zM656.8 105.3h1.7v1.7h-1.7zM649.5 107.5h1.7v1.7h-1.7zM650.7 109.5h1.7v1.7h-1.7zM649.1 106.3h1.7v1.7h-1.7zM654.0 101.4h1.7v1.7h-1.7zM648.8 104.0h1.7v1.7h-1.7zM653.9 110.6h1.7v1.7h-1.7zM654.1 106.0h1.7v1.7h-1.7zM648.4 104.6h1.7v1.7h-1.7zM655.6 110.3h1.7v1.7h-1.7zM653.1 104.7h1.7v1.7h-1.7zM658.2 107.5h1.7v1.7h-1.7zM650.8 109.9h1.7v1.7h-1.7zM650.9 108.1h1.7v1.7h-1.7zM658.1 107.1h1.7v1.7h-1.7zM652.1 109.3h1.7v1.7h-1.7zM657.4 103.9h1.7v1.7h-1.7zM649.7 104.1h1.7v1.7h-1.7zM653.4 109.8h1.7v1.7h-1.7zM655.7 108.3h1.7v1.7h-1.7zM652.6 103.8h1.7v1.7h-1.7zM651.4 107.9h1.7v1.7h-1.7zM654.9 108.7h1.7v1.7h-1.7zM656.3 105.7h1.7v1.7h-1.7zM654.6 109.1h1.7v1.7h-1.7zM654.8 103.5h1.7v1.7h-1.7zM651.4 104.0h1.7v1.7h-1.7zM658.0 107.9h1.7v1.7h-1.7zM651.0 110.1h1.7v1.7h-1.7zM653.9 104.5h1.7v1.7h-1.7zM650.1 103.9h1.7v1.7h-1.7zM655.2 108.5h1.7v1.7h-1.7zM654.2 111.2h1.7v1.7h-1.7zM649.5 107.3h1.7v1.7h-1.7zM658.1 108.7h1.7v1.7h-1.7zM652.7 108.2h1.7v1.7h-1.7zM651.5 105.1h1.7v1.7h-1.7zM657.7 107.8h1.7v1.7h-1.7zM653.2 104.0h1.7v1.7h-1.7zM651.9 106.4h1.7v1.7h-1.7zM654.8 102.9h1.7v1.7h-1.7zM652.5 101.4h1.7v1.7h-1.7zM649.5 107.3h1.7v1.7h-1.7zM657.0 107.4h1.7v1.7h-1.7zM653.2 106.9h1.7v1.7h-1.7zM653.8 111.5h1.7v1.7h-1.7zM649.4 102.7h1.7v1.7h-1.7zM652.1 106.3h1.7v1.7h-1.7zM653.8 108.9h1.7v1.7h-1.7zM655.4 107.5h1.7v1.7h-1.7zM652.0 101.8h1.7v1.7h-1.7zM657.1 102.9h1.7v1.7h-1.7zM656.0 102.2h1.7v1.7h-1.7zM652.7 104.1h1.7v1.7h-1.7zM654.5 109.5h1.7v1.7h-1.7zM656.5 109.7h1.7v1.7h-1.7zM652.9 103.9h1.7v1.7h-1.7zM648.7 103.9h1.7v1.7h-1.7zM653.1 110.1h1.7v1.7h-1.7zM652.1 111.9h1.7v1.7h-1.7zM647.3 108.9h1.7v1.7h-1.7zM653.4 110.9h1.7v1.7h-1.7zM651.8 107.4h1.7v1.7h-1.7zM646.7 111.4h1.7v1.7h-1.7zM653.6 107.0h1.7v1.7h-1.7zM648.8 105.8h1.7v1.7h-1.7zM651.1 106.7h1.7v1.7h-1.7zM654.7 113.7h1.7v1.7h-1.7zM647.0 114.1h1.7v1.7h-1.7zM650.7 110.6h1.7v1.7h-1.7zM654.1 106.8h1.7v1.7h-1.7zM656.3 102.7h1.7v1.7h-1.7zM648.5 108.8h1.7v1.7h-1.7zM650.5 108.0h1.7v1.7h-1.7zM649.7 110.1h1.7v1.7h-1.7zM654.8 100.8h1.7v1.7h-1.7zM654.3 113.8h1.7v1.7h-1.7zM661.7 110.7h1.7v1.7h-1.7zM649.4 112.8h1.7v1.7h-1.7zM649.2 105.8h1.7v1.7h-1.7zM655.4 107.8h1.7v1.7h-1.7zM651.9 109.7h1.7v1.7h-1.7zM650.8 109.2h1.7v1.7h-1.7zM651.6 108.5h1.7v1.7h-1.7zM655.9 110.7h1.7v1.7h-1.7zM653.0 107.2h1.7v1.7h-1.7zM649.6 109.5h1.7v1.7h-1.7zM651.0 111.4h1.7v1.7h-1.7zM660.6 107.9h1.7v1.7h-1.7zM657.2 108.9h1.7v1.7h-1.7zM655.2 107.2h1.7v1.7h-1.7zM654.7 105.7h1.7v1.7h-1.7zM650.2 114.5h1.7v1.7h-1.7zM653.2 112.7h1.7v1.7h-1.7zM649.6 107.2h1.7v1.7h-1.7zM647.3 104.1h1.7v1.7h-1.7zM652.6 112.1h1.7v1.7h-1.7zM653.1 114.6h1.7v1.7h-1.7zM648.3 113.6h1.7v1.7h-1.7zM651.7 110.7h1.7v1.7h-1.7zM648.9 108.5h1.7v1.7h-1.7zM652.4 108.3h1.7v1.7h-1.7zM654.8 112.6h1.7v1.7h-1.7zM648.8 110.5h1.7v1.7h-1.7zM650.0 114.7h1.7v1.7h-1.7zM651.0 108.1h1.7v1.7h-1.7zM652.8 111.5h1.7v1.7h-1.7zM653.1 114.2h1.7v1.7h-1.7zM648.6 107.8h1.7v1.7h-1.7zM653.0 110.8h1.7v1.7h-1.7zM654.6 108.6h1.7v1.7h-1.7zM645.7 103.8h1.7v1.7h-1.7zM661.3 111.5h1.7v1.7h-1.7zM659.0 109.6h1.7v1.7h-1.7zM649.0 110.4h1.7v1.7h-1.7zM649.1 111.2h1.7v1.7h-1.7zM653.6 106.1h1.7v1.7h-1.7zM657.8 109.8h1.7v1.7h-1.7zM647.2 109.1h1.7v1.7h-1.7zM654.7 107.3h1.7v1.7h-1.7zM657.0 110.0h1.7v1.7h-1.7zM658.2 111.9h1.7v1.7h-1.7zM657.6 104.3h1.7v1.7h-1.7zM652.4 106.8h1.7v1.7h-1.7zM653.8 107.9h1.7v1.7h-1.7zM652.8 109.1h1.7v1.7h-1.7zM650.9 111.6h1.7v1.7h-1.7zM654.4 111.5h1.7v1.7h-1.7zM651.0 114.6h1.7v1.7h-1.7zM643.6 102.3h1.7v1.7h-1.7zM641.6 103.1h1.7v1.7h-1.7zM648.1 102.4h1.7v1.7h-1.7zM644.5 102.3h1.7v1.7h-1.7zM643.2 106.3h1.7v1.7h-1.7zM643.2 104.2h1.7v1.7h-1.7zM641.5 100.2h1.7v1.7h-1.7zM644.4 102.3h1.7v1.7h-1.7zM643.7 107.4h1.7v1.7h-1.7zM648.6 99.9h1.7v1.7h-1.7zM642.4 103.6h1.7v1.7h-1.7zM643.1 103.4h1.7v1.7h-1.7zM642.5 99.0h1.7v1.7h-1.7zM645.7 105.0h1.7v1.7h-1.7zM642.9 104.8h1.7v1.7h-1.7zM646.0 107.5h1.7v1.7h-1.7zM644.6 99.5h1.7v1.7h-1.7zM643.3 103.8h1.7v1.7h-1.7zM643.4 97.3h1.7v1.7h-1.7zM644.4 103.2h1.7v1.7h-1.7zM635.6 98.2h1.7v1.7h-1.7zM634.1 104.2h1.7v1.7h-1.7zM639.1 99.2h1.7v1.7h-1.7z" fill="#ff954e"/><path d="M480.5 116.7h1.7v1.7h-1.7zM478.8 120.6h1.7v1.7h-1.7zM482.2 107.1h1.7v1.7h-1.7zM481.0 109.2h1.7v1.7h-1.7zM481.0 118.7h1.7v1.7h-1.7zM482.2 111.2h1.7v1.7h-1.7zM482.6 121.0h1.7v1.7h-1.7zM480.6 116.1h1.7v1.7h-1.7zM482.3 119.2h1.7v1.7h-1.7zM481.7 116.3h1.7v1.7h-1.7zM480.6 119.8h1.7v1.7h-1.7zM481.1 102.2h1.7v1.7h-1.7zM479.5 118.8h1.7v1.7h-1.7zM480.1 113.3h1.7v1.7h-1.7zM483.4 120.6h1.7v1.7h-1.7zM484.1 113.7h1.7v1.7h-1.7zM481.4 108.4h1.7v1.7h-1.7zM480.8 120.6h1.7v1.7h-1.7zM479.8 119.8h1.7v1.7h-1.7zM484.1 118.1h1.7v1.7h-1.7zM478.9 118.8h1.7v1.7h-1.7zM476.9 117.8h1.7v1.7h-1.7zM480.9 112.6h1.7v1.7h-1.7zM484.5 115.7h1.7v1.7h-1.7zM481.6 119.3h1.7v1.7h-1.7zM482.5 117.4h1.7v1.7h-1.7zM483.3 124.7h1.7v1.7h-1.7zM480.1 107.4h1.7v1.7h-1.7zM479.0 110.6h1.7v1.7h-1.7zM481.7 114.3h1.7v1.7h-1.7zM482.4 117.9h1.7v1.7h-1.7zM481.7 113.0h1.7v1.7h-1.7zM485.2 114.9h1.7v1.7h-1.7zM479.2 119.9h1.7v1.7h-1.7zM480.6 117.1h1.7v1.7h-1.7zM480.0 115.2h1.7v1.7h-1.7zM482.4 120.5h1.7v1.7h-1.7zM481.7 112.3h1.7v1.7h-1.7zM481.4 109.5h1.7v1.7h-1.7zM481.8 121.5h1.7v1.7h-1.7zM481.0 104.6h1.7v1.7h-1.7zM480.2 117.2h1.7v1.7h-1.7zM480.6 114.6h1.7v1.7h-1.7zM482.2 114.0h1.7v1.7h-1.7zM481.7 123.3h1.7v1.7h-1.7zM482.1 118.0h1.7v1.7h-1.7zM482.0 114.9h1.7v1.7h-1.7zM479.8 111.9h1.7v1.7h-1.7zM480.5 116.2h1.7v1.7h-1.7zM480.2 112.7h1.7v1.7h-1.7zM481.7 118.2h1.7v1.7h-1.7zM482.0 127.4h1.7v1.7h-1.7zM482.8 110.8h1.7v1.7h-1.7zM483.9 119.5h1.7v1.7h-1.7zM482.2 116.8h1.7v1.7h-1.7zM480.4 117.1h1.7v1.7h-1.7zM479.8 115.1h1.7v1.7h-1.7zM481.2 109.4h1.7v1.7h-1.7zM480.5 116.4h1.7v1.7h-1.7zM478.2 120.9h1.7v1.7h-1.7zM483.0 122.0h1.7v1.7h-1.7zM481.1 113.4h1.7v1.7h-1.7zM480.5 114.0h1.7v1.7h-1.7zM478.6 115.5h1.7v1.7h-1.7zM481.7 111.3h1.7v1.7h-1.7zM483.5 124.7h1.7v1.7h-1.7zM483.6 116.2h1.7v1.7h-1.7zM482.6 116.9h1.7v1.7h-1.7zM479.7 117.4h1.7v1.7h-1.7zM481.4 114.4h1.7v1.7h-1.7zM481.4 115.3h1.7v1.7h-1.7zM480.9 106.1h1.7v1.7h-1.7zM482.6 121.3h1.7v1.7h-1.7zM479.9 121.4h1.7v1.7h-1.7zM485.4 121.0h1.7v1.7h-1.7zM484.0 117.8h1.7v1.7h-1.7zM479.0 121.6h1.7v1.7h-1.7zM483.0 119.5h1.7v1.7h-1.7zM481.1 111.3h1.7v1.7h-1.7zM483.7 118.0h1.7v1.7h-1.7zM479.3 119.9h1.7v1.7h-1.7zM479.7 113.3h1.7v1.7h-1.7zM482.3 107.0h1.7v1.7h-1.7zM486.0 118.4h1.7v1.7h-1.7zM480.6 115.7h1.7v1.7h-1.7zM481.3 109.2h1.7v1.7h-1.7zM481.5 114.9h1.7v1.7h-1.7zM480.0 111.9h1.7v1.7h-1.7zM482.4 114.4h1.7v1.7h-1.7zM481.7 121.1h1.7v1.7h-1.7zM483.6 119.4h1.7v1.7h-1.7zM482.3 116.3h1.7v1.7h-1.7zM477.7 109.3h1.7v1.7h-1.7zM483.4 111.9h1.7v1.7h-1.7zM482.2 107.1h1.7v1.7h-1.7zM481.1 109.4h1.7v1.7h-1.7zM478.8 118.2h1.7v1.7h-1.7zM481.8 113.6h1.7v1.7h-1.7zM480.7 114.6h1.7v1.7h-1.7zM479.8 116.9h1.7v1.7h-1.7zM480.2 110.4h1.7v1.7h-1.7zM482.1 111.4h1.7v1.7h-1.7zM480.1 127.9h1.7v1.7h-1.7zM482.4 117.3h1.7v1.7h-1.7zM482.3 114.5h1.7v1.7h-1.7zM482.7 117.2h1.7v1.7h-1.7zM479.5 120.1h1.7v1.7h-1.7zM479.0 112.2h1.7v1.7h-1.7zM482.9 114.3h1.7v1.7h-1.7zM478.0 120.1h1.7v1.7h-1.7zM480.8 115.1h1.7v1.7h-1.7zM480.2 115.3h1.7v1.7h-1.7zM481.8 112.8h1.7v1.7h-1.7zM482.7 107.9h1.7v1.7h-1.7zM480.0 113.8h1.7v1.7h-1.7zM479.9 114.4h1.7v1.7h-1.7zM482.4 115.8h1.7v1.7h-1.7zM481.7 115.4h1.7v1.7h-1.7zM480.6 116.7h1.7v1.7h-1.7zM481.3 115.1h1.7v1.7h-1.7zM478.8 113.1h1.7v1.7h-1.7zM480.6 117.0h1.7v1.7h-1.7zM480.9 110.1h1.7v1.7h-1.7zM480.1 109.2h1.7v1.7h-1.7zM484.7 110.6h1.7v1.7h-1.7zM484.7 112.7h1.7v1.7h-1.7zM479.9 112.7h1.7v1.7h-1.7zM480.1 113.2h1.7v1.7h-1.7zM484.5 113.1h1.7v1.7h-1.7zM482.9 112.6h1.7v1.7h-1.7zM485.3 109.6h1.7v1.7h-1.7zM481.4 112.2h1.7v1.7h-1.7zM480.7 109.2h1.7v1.7h-1.7zM481.2 113.8h1.7v1.7h-1.7zM483.0 108.2h1.7v1.7h-1.7zM480.6 113.1h1.7v1.7h-1.7zM481.5 112.2h1.7v1.7h-1.7zM482.6 117.6h1.7v1.7h-1.7zM479.8 111.9h1.7v1.7h-1.7zM481.5 111.6h1.7v1.7h-1.7zM479.0 115.9h1.7v1.7h-1.7zM481.2 113.8h1.7v1.7h-1.7zM480.6 117.3h1.7v1.7h-1.7zM482.6 114.7h1.7v1.7h-1.7zM482.9 114.8h1.7v1.7h-1.7zM479.9 133.6h1.7v1.7h-1.7zM479.8 127.8h1.7v1.7h-1.7zM477.9 130.7h1.7v1.7h-1.7zM478.8 126.3h1.7v1.7h-1.7zM480.5 133.6h1.7v1.7h-1.7zM481.7 132.2h1.7v1.7h-1.7zM480.3 133.0h1.7v1.7h-1.7zM480.8 130.4h1.7v1.7h-1.7zM481.0 129.8h1.7v1.7h-1.7zM481.0 126.4h1.7v1.7h-1.7zM479.1 92.2h1.7v1.7h-1.7zM484.1 104.2h1.7v1.7h-1.7zM472.6 105.7h1.7v1.7h-1.7zM487.6 116.0h1.7v1.7h-1.7zM486.6 132.7h1.7v1.7h-1.7zM480.6 135.2h1.7v1.7h-1.7zM482.1 134.2h1.7v1.7h-1.7zM561.3 89.7h1.7v1.7h-1.7zM566.2 87.0h1.7v1.7h-1.7zM565.1 97.7h1.7v1.7h-1.7zM561.5 83.5h1.7v1.7h-1.7zM562.4 93.8h1.7v1.7h-1.7zM561.7 87.3h1.7v1.7h-1.7zM562.6 101.4h1.7v1.7h-1.7zM564.4 97.5h1.7v1.7h-1.7zM563.2 92.1h1.7v1.7h-1.7zM565.7 95.4h1.7v1.7h-1.7zM561.0 92.8h1.7v1.7h-1.7zM560.9 84.5h1.7v1.7h-1.7zM565.4 91.6h1.7v1.7h-1.7zM565.7 95.5h1.7v1.7h-1.7zM564.6 93.3h1.7v1.7h-1.7zM562.0 102.1h1.7v1.7h-1.7zM564.2 90.6h1.7v1.7h-1.7zM561.2 93.8h1.7v1.7h-1.7zM563.8 90.6h1.7v1.7h-1.7zM563.3 100.8h1.7v1.7h-1.7zM561.1 101.4h1.7v1.7h-1.7zM565.2 92.6h1.7v1.7h-1.7zM566.2 86.9h1.7v1.7h-1.7zM561.4 92.0h1.7v1.7h-1.7zM565.9 99.3h1.7v1.7h-1.7zM561.0 90.6h1.7v1.7h-1.7zM565.0 101.4h1.7v1.7h-1.7zM565.7 99.2h1.7v1.7h-1.7zM563.7 85.8h1.7v1.7h-1.7zM565.5 93.8h1.7v1.7h-1.7zM566.3 100.6h1.7v1.7h-1.7zM564.0 101.8h1.7v1.7h-1.7zM564.2 85.4h1.7v1.7h-1.7zM566.2 85.2h1.7v1.7h-1.7zM562.3 93.0h1.7v1.7h-1.7zM565.0 93.5h1.7v1.7h-1.7zM564.9 88.3h1.7v1.7h-1.7zM564.6 101.2h1.7v1.7h-1.7zM564.6 87.6h1.7v1.7h-1.7zM562.1 97.2h1.7v1.7h-1.7zM566.0 98.2h1.7v1.7h-1.7zM564.4 83.8h1.7v1.7h-1.7zM565.0 99.9h1.7v1.7h-1.7zM565.9 98.2h1.7v1.7h-1.7zM566.5 101.0h1.7v1.7h-1.7zM568.7 99.4h1.7v1.7h-1.7zM566.5 99.7h1.7v1.7h-1.7zM573.3 101.2h1.7v1.7h-1.7zM565.8 100.2h1.7v1.7h-1.7zM569.9 100.9h1.7v1.7h-1.7zM565.7 99.6h1.7v1.7h-1.7zM569.9 100.0h1.7v1.7h-1.7zM565.2 101.2h1.7v1.7h-1.7zM561.9 99.6h1.7v1.7h-1.7zM569.0 100.6h1.7v1.7h-1.7zM570.7 100.4h1.7v1.7h-1.7zM566.6 52.1h1.7v1.7h-1.7zM562.9 68.2h1.7v1.7h-1.7zM576.1 75.2h1.7v1.7h-1.7zM563.6 80.7h1.7v1.7h-1.7zM572.6 94.7h1.7v1.7h-1.7zM578.4 102.9h1.7v1.7h-1.7zM580.5 104.1h1.7v1.7h-1.7zM582.0 102.3h1.7v1.7h-1.7zM579.0 100.7h1.7v1.7h-1.7zM578.6 101.4h1.7v1.7h-1.7zM580.0 102.8h1.7v1.7h-1.7zM580.4 102.3h1.7v1.7h-1.7zM581.0 101.3h1.7v1.7h-1.7zM581.5 100.2h1.7v1.7h-1.7zM581.0 99.6h1.7v1.7h-1.7zM579.6 99.4h1.7v1.7h-1.7zM579.9 102.4h1.7v1.7h-1.7zM578.9 101.3h1.7v1.7h-1.7zM579.1 103.4h1.7v1.7h-1.7zM579.2 103.1h1.7v1.7h-1.7zM579.0 101.2h1.7v1.7h-1.7zM580.9 99.1h1.7v1.7h-1.7zM579.7 102.9h1.7v1.7h-1.7zM581.4 100.5h1.7v1.7h-1.7zM579.4 104.2h1.7v1.7h-1.7zM581.1 99.7h1.7v1.7h-1.7zM578.2 102.3h1.7v1.7h-1.7zM580.5 101.6h1.7v1.7h-1.7zM580.8 103.0h1.7v1.7h-1.7zM577.7 90.2h1.7v1.7h-1.7zM577.6 90.9h1.7v1.7h-1.7zM578.6 89.2h1.7v1.7h-1.7zM576.4 93.0h1.7v1.7h-1.7zM577.5 93.2h1.7v1.7h-1.7zM579.8 91.1h1.7v1.7h-1.7zM577.4 93.9h1.7v1.7h-1.7z" fill="#ff4d27"/></g>
<g clip-path="url(#cr)"><path d="M816.7 261.2h1.7v1.7h-1.7zM811.6 261.7h1.7v1.7h-1.7zM804.7 263.1h1.7v1.7h-1.7zM806.1 261.1h1.7v1.7h-1.7zM810.1 261.1h1.7v1.7h-1.7zM796.4 262.0h1.7v1.7h-1.7zM796.2 263.6h1.7v1.7h-1.7zM815.2 264.4h1.7v1.7h-1.7zM806.7 262.9h1.7v1.7h-1.7zM818.3 262.6h1.7v1.7h-1.7zM800.6 262.9h1.7v1.7h-1.7zM813.2 262.2h1.7v1.7h-1.7zM797.5 264.1h1.7v1.7h-1.7zM821.1 255.0h1.7v1.7h-1.7zM822.6 258.2h1.7v1.7h-1.7zM819.1 250.6h1.7v1.7h-1.7zM821.0 257.1h1.7v1.7h-1.7zM814.9 253.5h1.7v1.7h-1.7zM859.6 252.2h1.7v1.7h-1.7zM798.1 265.1h1.7v1.7h-1.7zM815.1 260.1h1.7v1.7h-1.7zM784.2 336.6h1.7v1.7h-1.7zM785.3 330.6h1.7v1.7h-1.7zM782.4 331.2h1.7v1.7h-1.7zM780.6 334.5h1.7v1.7h-1.7zM785.0 337.3h1.7v1.7h-1.7zM790.6 328.8h1.7v1.7h-1.7zM791.1 329.9h1.7v1.7h-1.7zM798.6 332.4h1.7v1.7h-1.7zM782.2 334.3h1.7v1.7h-1.7zM787.7 332.2h1.7v1.7h-1.7zM812.1 330.6h1.7v1.7h-1.7zM803.1 329.6h1.7v1.7h-1.7zM792.6 329.1h1.7v1.7h-1.7zM784.6 330.6h1.7v1.7h-1.7z" fill="#7f00ff"/><path d="M824.4 195.0h1.7v1.7h-1.7zM833.6 232.7h1.7v1.7h-1.7zM814.7 262.5h1.7v1.7h-1.7zM806.6 264.3h1.7v1.7h-1.7zM809.5 263.6h1.7v1.7h-1.7zM806.4 265.1h1.7v1.7h-1.7zM801.8 265.5h1.7v1.7h-1.7zM816.1 260.9h1.7v1.7h-1.7zM821.3 265.3h1.7v1.7h-1.7zM808.5 261.4h1.7v1.7h-1.7zM796.2 261.0h1.7v1.7h-1.7zM795.4 262.6h1.7v1.7h-1.7zM814.4 263.9h1.7v1.7h-1.7zM812.1 264.6h1.7v1.7h-1.7zM796.7 261.0h1.7v1.7h-1.7zM822.0 250.1h1.7v1.7h-1.7zM815.4 255.3h1.7v1.7h-1.7zM818.1 253.7h1.7v1.7h-1.7zM819.4 254.6h1.7v1.7h-1.7zM823.5 253.5h1.7v1.7h-1.7zM817.5 258.5h1.7v1.7h-1.7zM828.6 249.2h1.7v1.7h-1.7zM856.1 256.6h1.7v1.7h-1.7zM854.6 259.1h1.7v1.7h-1.7zM829.1 259.6h1.7v1.7h-1.7zM818.6 263.6h1.7v1.7h-1.7zM784.7 332.7h1.7v1.7h-1.7zM782.8 334.5h1.7v1.7h-1.7zM787.7 331.7h1.7v1.7h-1.7z" fill="#4d4dfb"/><path d="M809.4 211.0h1.7v1.7h-1.7zM795.4 257.4h1.7v1.7h-1.7zM806.7 261.1h1.7v1.7h-1.7zM807.1 258.0h1.7v1.7h-1.7zM816.4 262.1h1.7v1.7h-1.7zM806.2 258.7h1.7v1.7h-1.7zM820.7 261.7h1.7v1.7h-1.7zM801.6 259.8h1.7v1.7h-1.7zM814.3 261.6h1.7v1.7h-1.7zM814.1 261.0h1.7v1.7h-1.7zM797.7 257.8h1.7v1.7h-1.7zM802.3 260.1h1.7v1.7h-1.7zM810.7 262.8h1.7v1.7h-1.7zM804.2 262.1h1.7v1.7h-1.7zM819.6 264.6h1.7v1.7h-1.7zM820.0 263.8h1.7v1.7h-1.7zM796.5 263.6h1.7v1.7h-1.7zM820.9 261.4h1.7v1.7h-1.7zM820.2 261.4h1.7v1.7h-1.7zM797.8 263.6h1.7v1.7h-1.7zM798.5 264.0h1.7v1.7h-1.7zM813.1 264.7h1.7v1.7h-1.7zM815.8 263.2h1.7v1.7h-1.7zM816.1 261.8h1.7v1.7h-1.7zM814.6 264.7h1.7v1.7h-1.7zM800.6 263.7h1.7v1.7h-1.7zM811.6 261.8h1.7v1.7h-1.7zM816.4 263.3h1.7v1.7h-1.7zM812.7 263.3h1.7v1.7h-1.7zM797.4 261.6h1.7v1.7h-1.7zM821.2 261.5h1.7v1.7h-1.7zM815.0 261.7h1.7v1.7h-1.7zM803.9 263.1h1.7v1.7h-1.7zM795.7 263.6h1.7v1.7h-1.7zM818.7 261.4h1.7v1.7h-1.7zM819.6 265.2h1.7v1.7h-1.7zM801.1 264.5h1.7v1.7h-1.7zM824.8 252.9h1.7v1.7h-1.7zM817.7 248.1h1.7v1.7h-1.7zM821.8 246.0h1.7v1.7h-1.7zM839.6 253.2h1.7v1.7h-1.7zM841.1 255.2h1.7v1.7h-1.7zM845.6 254.2h1.7v1.7h-1.7zM802.1 265.6h1.7v1.7h-1.7zM807.1 264.6h1.7v1.7h-1.7zM779.0 332.0h1.7v1.7h-1.7zM785.2 330.5h1.7v1.7h-1.7zM782.8 332.0h1.7v1.7h-1.7zM776.5 334.9h1.7v1.7h-1.7zM784.2 331.3h1.7v1.7h-1.7zM786.2 331.4h1.7v1.7h-1.7zM788.0 333.8h1.7v1.7h-1.7zM820.1 332.1h1.7v1.7h-1.7zM777.1 334.1h1.7v1.7h-1.7z" fill="#1995f2"/><path d="M812.2 211.6h1.7v1.7h-1.7zM823.5 210.7h1.7v1.7h-1.7zM823.8 210.9h1.7v1.7h-1.7zM808.2 209.8h1.7v1.7h-1.7zM820.1 210.2h1.7v1.7h-1.7zM818.3 210.3h1.7v1.7h-1.7zM815.9 211.6h1.7v1.7h-1.7zM817.2 210.2h1.7v1.7h-1.7zM817.5 210.2h1.7v1.7h-1.7zM822.8 211.4h1.7v1.7h-1.7zM832.1 213.7h1.7v1.7h-1.7zM811.1 204.2h1.7v1.7h-1.7zM817.6 203.7h1.7v1.7h-1.7zM821.1 203.7h1.7v1.7h-1.7zM807.1 223.0h1.7v1.7h-1.7zM813.8 233.4h1.7v1.7h-1.7zM815.3 236.6h1.7v1.7h-1.7zM811.2 233.4h1.7v1.7h-1.7zM816.7 232.9h1.7v1.7h-1.7zM814.0 235.6h1.7v1.7h-1.7zM818.1 231.3h1.7v1.7h-1.7zM812.5 236.4h1.7v1.7h-1.7zM810.4 232.6h1.7v1.7h-1.7zM818.5 235.1h1.7v1.7h-1.7zM815.2 231.6h1.7v1.7h-1.7zM815.3 231.9h1.7v1.7h-1.7zM814.4 231.7h1.7v1.7h-1.7zM809.1 233.7h1.7v1.7h-1.7zM819.2 232.6h1.7v1.7h-1.7zM814.2 237.2h1.7v1.7h-1.7zM814.1 230.6h1.7v1.7h-1.7zM815.5 231.1h1.7v1.7h-1.7zM810.9 233.0h1.7v1.7h-1.7zM817.3 234.5h1.7v1.7h-1.7zM812.4 231.6h1.7v1.7h-1.7zM813.6 233.8h1.7v1.7h-1.7zM816.3 232.3h1.7v1.7h-1.7zM818.3 232.8h1.7v1.7h-1.7zM816.5 235.1h1.7v1.7h-1.7zM812.1 230.5h1.7v1.7h-1.7zM814.2 231.2h1.7v1.7h-1.7zM813.2 232.0h1.7v1.7h-1.7zM818.8 234.2h1.7v1.7h-1.7zM814.0 231.0h1.7v1.7h-1.7zM817.6 236.0h1.7v1.7h-1.7zM816.1 232.5h1.7v1.7h-1.7zM811.1 231.5h1.7v1.7h-1.7zM817.0 234.4h1.7v1.7h-1.7zM809.2 233.6h1.7v1.7h-1.7zM811.2 231.9h1.7v1.7h-1.7zM811.0 233.0h1.7v1.7h-1.7zM811.0 233.6h1.7v1.7h-1.7zM816.9 235.8h1.7v1.7h-1.7zM810.6 233.7h1.7v1.7h-1.7zM811.4 233.0h1.7v1.7h-1.7zM817.2 235.1h1.7v1.7h-1.7zM814.9 237.0h1.7v1.7h-1.7zM814.1 233.4h1.7v1.7h-1.7zM809.4 232.7h1.7v1.7h-1.7zM812.8 235.2h1.7v1.7h-1.7zM818.5 235.0h1.7v1.7h-1.7zM812.0 236.7h1.7v1.7h-1.7zM814.0 231.2h1.7v1.7h-1.7zM813.3 235.1h1.7v1.7h-1.7zM817.6 232.8h1.7v1.7h-1.7zM814.3 235.9h1.7v1.7h-1.7zM816.5 236.5h1.7v1.7h-1.7zM809.6 234.5h1.7v1.7h-1.7zM816.9 233.1h1.7v1.7h-1.7zM817.8 233.0h1.7v1.7h-1.7zM812.3 235.4h1.7v1.7h-1.7zM815.3 234.8h1.7v1.7h-1.7zM811.2 234.9h1.7v1.7h-1.7zM814.7 236.7h1.7v1.7h-1.7zM817.5 233.2h1.7v1.7h-1.7zM817.4 233.5h1.7v1.7h-1.7zM812.2 230.6h1.7v1.7h-1.7zM814.2 232.8h1.7v1.7h-1.7zM813.6 231.7h1.7v1.7h-1.7zM813.8 232.2h1.7v1.7h-1.7zM818.6 232.7h1.7v1.7h-1.7zM812.5 231.4h1.7v1.7h-1.7zM811.3 232.6h1.7v1.7h-1.7zM812.9 236.0h1.7v1.7h-1.7zM812.5 232.0h1.7v1.7h-1.7zM818.5 232.2h1.7v1.7h-1.7zM816.6 236.9h1.7v1.7h-1.7zM818.6 233.5h1.7v1.7h-1.7zM816.1 235.0h1.7v1.7h-1.7zM812.0 233.0h1.7v1.7h-1.7zM816.7 231.2h1.7v1.7h-1.7zM819.6 233.0h1.7v1.7h-1.7zM814.2 235.3h1.7v1.7h-1.7zM809.6 235.2h1.7v1.7h-1.7zM813.8 234.9h1.7v1.7h-1.7zM817.5 235.0h1.7v1.7h-1.7zM814.9 231.7h1.7v1.7h-1.7zM812.8 235.0h1.7v1.7h-1.7zM812.4 232.1h1.7v1.7h-1.7zM816.9 235.2h1.7v1.7h-1.7zM816.4 236.2h1.7v1.7h-1.7zM816.2 232.1h1.7v1.7h-1.7zM814.4 230.7h1.7v1.7h-1.7zM817.1 231.6h1.7v1.7h-1.7zM815.9 230.9h1.7v1.7h-1.7zM810.1 235.3h1.7v1.7h-1.7zM818.1 232.7h1.7v1.7h-1.7zM810.4 235.5h1.7v1.7h-1.7zM813.6 235.1h1.7v1.7h-1.7zM814.0 235.0h1.7v1.7h-1.7zM810.9 231.0h1.7v1.7h-1.7zM809.2 233.4h1.7v1.7h-1.7zM813.5 234.4h1.7v1.7h-1.7zM812.8 235.4h1.7v1.7h-1.7zM813.7 234.6h1.7v1.7h-1.7zM816.6 235.5h1.7v1.7h-1.7zM817.3 231.9h1.7v1.7h-1.7zM809.7 233.2h1.7v1.7h-1.7zM818.1 232.7h1.7v1.7h-1.7zM811.8 235.1h1.7v1.7h-1.7zM817.5 234.2h1.7v1.7h-1.7zM812.4 233.5h1.7v1.7h-1.7zM814.9 232.7h1.7v1.7h-1.7zM816.1 236.7h1.7v1.7h-1.7zM814.3 233.4h1.7v1.7h-1.7zM812.4 233.3h1.7v1.7h-1.7zM813.5 237.1h1.7v1.7h-1.7zM817.8 232.7h1.7v1.7h-1.7zM811.8 236.9h1.7v1.7h-1.7zM814.6 236.0h1.7v1.7h-1.7zM815.8 231.0h1.7v1.7h-1.7zM816.6 231.7h1.7v1.7h-1.7zM812.7 234.2h1.7v1.7h-1.7zM813.6 231.2h1.7v1.7h-1.7zM810.3 234.2h1.7v1.7h-1.7zM816.3 233.2h1.7v1.7h-1.7zM809.9 234.9h1.7v1.7h-1.7zM813.1 234.3h1.7v1.7h-1.7zM815.7 234.8h1.7v1.7h-1.7zM815.7 231.0h1.7v1.7h-1.7zM814.7 232.4h1.7v1.7h-1.7zM813.1 234.8h1.7v1.7h-1.7zM815.3 233.2h1.7v1.7h-1.7zM814.3 236.3h1.7v1.7h-1.7zM813.3 235.2h1.7v1.7h-1.7zM816.1 232.2h1.7v1.7h-1.7zM814.6 234.7h1.7v1.7h-1.7zM813.2 231.6h1.7v1.7h-1.7zM812.7 231.9h1.7v1.7h-1.7zM813.5 234.8h1.7v1.7h-1.7zM817.7 235.5h1.7v1.7h-1.7zM817.1 232.7h1.7v1.7h-1.7zM812.3 232.2h1.7v1.7h-1.7zM814.2 230.3h1.7v1.7h-1.7zM813.2 234.7h1.7v1.7h-1.7zM819.5 229.5h1.7v1.7h-1.7zM809.3 229.4h1.7v1.7h-1.7zM812.1 230.5h1.7v1.7h-1.7zM809.2 231.7h1.7v1.7h-1.7zM810.9 229.6h1.7v1.7h-1.7zM807.3 229.2h1.7v1.7h-1.7zM819.6 230.8h1.7v1.7h-1.7zM815.6 230.2h1.7v1.7h-1.7zM811.3 229.1h1.7v1.7h-1.7zM818.9 230.0h1.7v1.7h-1.7zM811.3 228.8h1.7v1.7h-1.7zM814.2 230.1h1.7v1.7h-1.7zM819.1 229.7h1.7v1.7h-1.7zM811.1 229.2h1.7v1.7h-1.7zM820.8 231.7h1.7v1.7h-1.7zM812.5 228.5h1.7v1.7h-1.7zM820.9 230.6h1.7v1.7h-1.7zM812.4 229.7h1.7v1.7h-1.7zM823.1 229.2h1.7v1.7h-1.7zM823.1 233.2h1.7v1.7h-1.7zM828.1 237.2h1.7v1.7h-1.7zM836.6 228.2h1.7v1.7h-1.7zM852.1 233.7h1.7v1.7h-1.7zM827.1 243.7h1.7v1.7h-1.7zM802.1 244.2h1.7v1.7h-1.7zM817.5 261.3h1.7v1.7h-1.7zM797.9 259.4h1.7v1.7h-1.7zM809.9 259.6h1.7v1.7h-1.7zM803.8 263.0h1.7v1.7h-1.7zM802.9 258.1h1.7v1.7h-1.7zM805.9 258.2h1.7v1.7h-1.7zM819.6 259.9h1.7v1.7h-1.7zM808.0 260.5h1.7v1.7h-1.7zM805.2 259.5h1.7v1.7h-1.7zM818.9 262.8h1.7v1.7h-1.7zM818.8 260.7h1.7v1.7h-1.7zM818.3 261.9h1.7v1.7h-1.7zM820.1 261.9h1.7v1.7h-1.7zM802.8 259.1h1.7v1.7h-1.7zM800.8 259.5h1.7v1.7h-1.7zM816.3 261.1h1.7v1.7h-1.7zM795.2 257.8h1.7v1.7h-1.7zM796.1 259.5h1.7v1.7h-1.7zM815.5 258.8h1.7v1.7h-1.7zM812.6 258.9h1.7v1.7h-1.7zM819.0 263.0h1.7v1.7h-1.7zM808.5 259.2h1.7v1.7h-1.7zM821.0 264.8h1.7v1.7h-1.7zM809.3 262.3h1.7v1.7h-1.7zM821.5 262.2h1.7v1.7h-1.7zM795.2 264.4h1.7v1.7h-1.7zM809.5 264.3h1.7v1.7h-1.7zM817.7 262.9h1.7v1.7h-1.7zM813.4 262.5h1.7v1.7h-1.7zM810.4 263.5h1.7v1.7h-1.7zM820.1 261.4h1.7v1.7h-1.7zM796.6 264.2h1.7v1.7h-1.7zM843.1 256.1h1.7v1.7h-1.7zM854.1 255.2h1.7v1.7h-1.7zM779.9 331.4h1.7v1.7h-1.7zM786.4 327.9h1.7v1.7h-1.7zM785.2 330.7h1.7v1.7h-1.7zM781.6 331.0h1.7v1.7h-1.7zM774.8 330.4h1.7v1.7h-1.7zM786.0 327.9h1.7v1.7h-1.7zM791.2 333.0h1.7v1.7h-1.7zM784.4 334.1h1.7v1.7h-1.7zM786.7 329.2h1.7v1.7h-1.7zM785.3 330.5h1.7v1.7h-1.7zM781.8 333.8h1.7v1.7h-1.7zM820.6 329.1h1.7v1.7h-1.7zM824.1 331.1h1.7v1.7h-1.7zM853.4 324.6h1.7v1.7h-1.7zM828.1 346.1h1.7v1.7h-1.7zM800.6 327.6h1.7v1.7h-1.7zM776.1 331.6h1.7v1.7h-1.7z" fill="#18cde3"/><path d="M813.9 209.8h1.7v1.7h-1.7zM819.4 211.8h1.7v1.7h-1.7zM828.1 216.7h1.7v1.7h-1.7zM828.1 221.2h1.7v1.7h-1.7zM806.7 226.5h1.7v1.7h-1.7zM803.9 223.7h1.7v1.7h-1.7zM813.1 225.2h1.7v1.7h-1.7zM806.0 224.1h1.7v1.7h-1.7zM824.7 223.3h1.7v1.7h-1.7zM804.4 223.8h1.7v1.7h-1.7zM802.8 234.3h1.7v1.7h-1.7zM811.1 233.1h1.7v1.7h-1.7zM817.7 231.1h1.7v1.7h-1.7zM808.1 231.9h1.7v1.7h-1.7zM818.0 228.4h1.7v1.7h-1.7zM809.1 230.5h1.7v1.7h-1.7zM817.4 231.4h1.7v1.7h-1.7zM852.1 229.7h1.7v1.7h-1.7zM813.6 261.9h1.7v1.7h-1.7zM810.4 258.3h1.7v1.7h-1.7zM812.6 258.5h1.7v1.7h-1.7zM800.2 261.6h1.7v1.7h-1.7zM795.7 258.0h1.7v1.7h-1.7zM819.7 260.8h1.7v1.7h-1.7zM803.2 260.1h1.7v1.7h-1.7zM801.6 260.0h1.7v1.7h-1.7zM809.2 257.7h1.7v1.7h-1.7zM818.5 260.8h1.7v1.7h-1.7zM807.3 258.1h1.7v1.7h-1.7zM819.3 257.8h1.7v1.7h-1.7zM799.8 259.3h1.7v1.7h-1.7zM801.9 260.6h1.7v1.7h-1.7zM808.4 260.8h1.7v1.7h-1.7zM798.6 262.4h1.7v1.7h-1.7zM811.0 262.9h1.7v1.7h-1.7zM802.9 263.0h1.7v1.7h-1.7zM806.4 257.5h1.7v1.7h-1.7zM806.1 262.7h1.7v1.7h-1.7zM812.5 262.5h1.7v1.7h-1.7zM819.5 262.0h1.7v1.7h-1.7zM808.5 258.1h1.7v1.7h-1.7zM812.9 262.1h1.7v1.7h-1.7zM816.2 262.2h1.7v1.7h-1.7zM820.1 257.7h1.7v1.7h-1.7zM814.2 257.6h1.7v1.7h-1.7zM812.8 259.2h1.7v1.7h-1.7zM814.7 259.4h1.7v1.7h-1.7zM820.2 254.4h1.7v1.7h-1.7zM850.6 250.2h1.7v1.7h-1.7zM783.6 332.1h1.7v1.7h-1.7zM781.6 332.3h1.7v1.7h-1.7zM778.4 330.6h1.7v1.7h-1.7zM783.5 333.0h1.7v1.7h-1.7zM788.5 331.7h1.7v1.7h-1.7zM789.8 329.3h1.7v1.7h-1.7zM770.9 329.9h1.7v1.7h-1.7zM778.3 333.5h1.7v1.7h-1.7zM788.4 335.2h1.7v1.7h-1.7zM783.3 334.6h1.7v1.7h-1.7zM789.5 335.3h1.7v1.7h-1.7zM791.0 330.4h1.7v1.7h-1.7zM778.4 331.5h1.7v1.7h-1.7zM782.1 335.0h1.7v1.7h-1.7zM785.8 335.2h1.7v1.7h-1.7zM774.5 332.8h1.7v1.7h-1.7zM796.9 330.6h1.7v1.7h-1.7zM785.9 329.6h1.7v1.7h-1.7zM779.1 339.6h1.7v1.7h-1.7zM787.6 346.1h1.7v1.7h-1.7zM829.9 329.1h1.7v1.7h-1.7zM832.6 332.9h1.7v1.7h-1.7zM778.1 329.1h1.7v1.7h-1.7z" fill="#4cf2ce"/><path d="M855.1 208.7h1.7v1.7h-1.7zM809.0 238.3h1.7v1.7h-1.7zM809.3 237.1h1.7v1.7h-1.7zM806.8 234.3h1.7v1.7h-1.7zM805.6 237.9h1.7v1.7h-1.7zM809.5 235.5h1.7v1.7h-1.7zM804.5 232.6h1.7v1.7h-1.7zM808.7 232.2h1.7v1.7h-1.7zM804.9 237.3h1.7v1.7h-1.7zM806.1 236.1h1.7v1.7h-1.7zM802.6 237.5h1.7v1.7h-1.7zM805.6 238.7h1.7v1.7h-1.7zM802.5 232.5h1.7v1.7h-1.7zM806.7 237.3h1.7v1.7h-1.7zM812.1 260.6h1.7v1.7h-1.7zM811.8 258.1h1.7v1.7h-1.7zM812.9 260.7h1.7v1.7h-1.7zM802.4 257.8h1.7v1.7h-1.7zM811.9 259.4h1.7v1.7h-1.7zM800.1 263.1h1.7v1.7h-1.7zM798.4 262.3h1.7v1.7h-1.7zM799.2 260.5h1.7v1.7h-1.7zM795.7 257.9h1.7v1.7h-1.7zM807.0 262.4h1.7v1.7h-1.7zM795.6 259.6h1.7v1.7h-1.7zM818.2 260.0h1.7v1.7h-1.7zM798.0 257.3h1.7v1.7h-1.7zM818.5 260.8h1.7v1.7h-1.7zM817.8 263.1h1.7v1.7h-1.7zM809.9 260.2h1.7v1.7h-1.7zM805.7 263.1h1.7v1.7h-1.7zM814.1 258.0h1.7v1.7h-1.7zM820.4 262.6h1.7v1.7h-1.7zM803.6 257.9h1.7v1.7h-1.7zM798.0 259.7h1.7v1.7h-1.7zM795.3 259.2h1.7v1.7h-1.7zM798.5 261.0h1.7v1.7h-1.7zM791.2 330.3h1.7v1.7h-1.7zM786.0 330.5h1.7v1.7h-1.7zM773.7 333.3h1.7v1.7h-1.7zM784.0 329.5h1.7v1.7h-1.7zM794.5 331.8h1.7v1.7h-1.7zM789.5 334.5h1.7v1.7h-1.7zM784.6 342.1h1.7v1.7h-1.7zM811.6 338.6h1.7v1.7h-1.7z" fill="#80feb3"/><path d="M819.9 210.2h1.7v1.7h-1.7zM823.5 211.7h1.7v1.7h-1.7zM824.3 210.3h1.7v1.7h-1.7zM841.6 209.7h1.7v1.7h-1.7zM805.7 224.8h1.7v1.7h-1.7zM824.1 225.3h1.7v1.7h-1.7zM824.9 223.6h1.7v1.7h-1.7zM812.4 226.3h1.7v1.7h-1.7zM805.5 226.0h1.7v1.7h-1.7zM819.9 224.3h1.7v1.7h-1.7zM818.4 226.2h1.7v1.7h-1.7zM809.4 235.5h1.7v1.7h-1.7zM809.1 232.2h1.7v1.7h-1.7zM802.6 239.1h1.7v1.7h-1.7zM808.3 237.0h1.7v1.7h-1.7zM802.3 237.8h1.7v1.7h-1.7zM809.9 238.7h1.7v1.7h-1.7zM804.5 232.5h1.7v1.7h-1.7zM804.6 233.1h1.7v1.7h-1.7zM811.1 237.6h1.7v1.7h-1.7zM804.5 232.6h1.7v1.7h-1.7zM805.2 234.6h1.7v1.7h-1.7zM808.8 239.5h1.7v1.7h-1.7zM810.3 234.1h1.7v1.7h-1.7zM810.0 234.4h1.7v1.7h-1.7zM808.7 239.2h1.7v1.7h-1.7zM808.9 234.8h1.7v1.7h-1.7zM805.4 237.4h1.7v1.7h-1.7zM802.4 232.3h1.7v1.7h-1.7zM807.5 237.0h1.7v1.7h-1.7zM845.6 233.7h1.7v1.7h-1.7zM818.6 243.2h1.7v1.7h-1.7zM804.1 243.2h1.7v1.7h-1.7zM805.1 245.2h1.7v1.7h-1.7zM808.1 244.7h1.7v1.7h-1.7zM813.1 247.2h1.7v1.7h-1.7zM803.5 260.0h1.7v1.7h-1.7zM819.2 258.5h1.7v1.7h-1.7zM806.1 262.6h1.7v1.7h-1.7zM820.8 262.4h1.7v1.7h-1.7zM805.6 259.7h1.7v1.7h-1.7zM804.1 257.9h1.7v1.7h-1.7zM819.1 262.4h1.7v1.7h-1.7zM816.0 257.3h1.7v1.7h-1.7zM819.3 258.5h1.7v1.7h-1.7zM815.4 259.0h1.7v1.7h-1.7zM806.4 262.9h1.7v1.7h-1.7zM809.4 260.5h1.7v1.7h-1.7zM806.7 262.4h1.7v1.7h-1.7zM811.0 261.4h1.7v1.7h-1.7zM816.6 262.0h1.7v1.7h-1.7zM799.7 260.5h1.7v1.7h-1.7zM809.2 259.0h1.7v1.7h-1.7zM804.4 257.3h1.7v1.7h-1.7zM817.8 259.4h1.7v1.7h-1.7zM809.9 258.0h1.7v1.7h-1.7zM806.1 259.8h1.7v1.7h-1.7zM819.9 262.5h1.7v1.7h-1.7zM818.8 257.7h1.7v1.7h-1.7zM815.1 260.7h1.7v1.7h-1.7zM824.1 253.6h1.7v1.7h-1.7zM814.3 248.7h1.7v1.7h-1.7zM821.7 255.6h1.7v1.7h-1.7zM820.9 256.7h1.7v1.7h-1.7zM822.7 255.0h1.7v1.7h-1.7zM822.1 252.8h1.7v1.7h-1.7zM823.5 256.4h1.7v1.7h-1.7zM818.6 257.2h1.7v1.7h-1.7zM821.5 254.6h1.7v1.7h-1.7zM829.8 255.8h1.7v1.7h-1.7zM816.3 252.1h1.7v1.7h-1.7zM834.1 252.2h1.7v1.7h-1.7zM842.1 258.1h1.7v1.7h-1.7zM823.1 256.1h1.7v1.7h-1.7zM827.1 254.2h1.7v1.7h-1.7zM786.0 330.5h1.7v1.7h-1.7zM787.9 330.5h1.7v1.7h-1.7zM788.0 331.3h1.7v1.7h-1.7zM793.4 332.4h1.7v1.7h-1.7zM786.6 332.5h1.7v1.7h-1.7zM775.9 335.8h1.7v1.7h-1.7zM779.6 332.3h1.7v1.7h-1.7zM793.4 334.1h1.7v1.7h-1.7zM793.7 330.3h1.7v1.7h-1.7zM784.5 332.1h1.7v1.7h-1.7zM782.5 334.0h1.7v1.7h-1.7zM784.9 334.3h1.7v1.7h-1.7zM792.9 336.2h1.7v1.7h-1.7zM791.6 333.2h1.7v1.7h-1.7zM769.4 333.7h1.7v1.7h-1.7zM807.1 341.1h1.7v1.7h-1.7zM815.1 334.6h1.7v1.7h-1.7zM844.9 329.1h1.7v1.7h-1.7zM844.4 344.1h1.7v1.7h-1.7zM798.1 328.1h1.7v1.7h-1.7z" fill="#b2f295"/><path d="M808.8 211.4h1.7v1.7h-1.7zM824.4 210.5h1.7v1.7h-1.7zM823.2 211.1h1.7v1.7h-1.7zM823.1 210.1h1.7v1.7h-1.7zM809.7 211.7h1.7v1.7h-1.7zM820.5 211.9h1.7v1.7h-1.7zM835.1 207.2h1.7v1.7h-1.7zM808.3 223.3h1.7v1.7h-1.7zM804.4 223.7h1.7v1.7h-1.7zM805.5 223.1h1.7v1.7h-1.7zM819.6 223.3h1.7v1.7h-1.7zM804.0 225.9h1.7v1.7h-1.7zM820.1 225.8h1.7v1.7h-1.7zM802.5 223.1h1.7v1.7h-1.7zM820.4 217.0h1.7v1.7h-1.7zM807.5 217.0h1.7v1.7h-1.7zM809.6 233.7h1.7v1.7h-1.7zM805.2 238.9h1.7v1.7h-1.7zM803.1 237.9h1.7v1.7h-1.7zM806.6 236.1h1.7v1.7h-1.7zM803.0 233.7h1.7v1.7h-1.7zM809.9 239.4h1.7v1.7h-1.7zM808.4 231.9h1.7v1.7h-1.7zM807.6 231.9h1.7v1.7h-1.7zM848.1 256.6h1.7v1.7h-1.7zM786.2 331.5h1.7v1.7h-1.7zM797.3 331.4h1.7v1.7h-1.7zM783.4 336.1h1.7v1.7h-1.7zM796.5 331.5h1.7v1.7h-1.7zM787.9 333.7h1.7v1.7h-1.7zM791.7 335.6h1.7v1.7h-1.7zM791.4 333.1h1.7v1.7h-1.7zM793.5 333.1h1.7v1.7h-1.7zM798.8 334.4h1.7v1.7h-1.7zM790.9 335.0h1.7v1.7h-1.7zM790.8 335.3h1.7v1.7h-1.7zM784.4 332.9h1.7v1.7h-1.7zM800.4 336.0h1.7v1.7h-1.7zM796.0 332.1h1.7v1.7h-1.7zM786.6 334.7h1.7v1.7h-1.7zM786.2 334.4h1.7v1.7h-1.7zM792.1 333.1h1.7v1.7h-1.7zM790.4 333.6h1.7v1.7h-1.7zM790.9 332.6h1.7v1.7h-1.7zM791.2 332.6h1.7v1.7h-1.7zM781.9 335.8h1.7v1.7h-1.7zM793.9 336.5h1.7v1.7h-1.7zM786.7 334.4h1.7v1.7h-1.7zM788.3 335.5h1.7v1.7h-1.7zM784.5 331.9h1.7v1.7h-1.7zM782.1 334.1h1.7v1.7h-1.7zM782.4 336.5h1.7v1.7h-1.7zM797.9 335.1h1.7v1.7h-1.7zM783.1 334.4h1.7v1.7h-1.7zM784.1 332.0h1.7v1.7h-1.7zM794.1 333.5h1.7v1.7h-1.7zM790.5 333.1h1.7v1.7h-1.7zM794.3 336.5h1.7v1.7h-1.7zM794.3 334.3h1.7v1.7h-1.7zM804.1 313.9h1.7v1.7h-1.7z" fill="#e6cd73"/><path d="M812.2 222.9h1.7v1.7h-1.7zM812.4 226.3h1.7v1.7h-1.7zM818.7 223.0h1.7v1.7h-1.7zM812.5 225.4h1.7v1.7h-1.7zM814.8 224.1h1.7v1.7h-1.7zM825.1 226.5h1.7v1.7h-1.7zM821.2 226.4h1.7v1.7h-1.7zM822.0 224.6h1.7v1.7h-1.7zM810.3 224.6h1.7v1.7h-1.7zM820.6 222.0h1.7v1.7h-1.7zM818.9 220.4h1.7v1.7h-1.7zM810.4 217.9h1.7v1.7h-1.7zM807.8 218.7h1.7v1.7h-1.7zM817.4 218.2h1.7v1.7h-1.7zM810.8 217.9h1.7v1.7h-1.7zM811.1 222.2h1.7v1.7h-1.7zM807.7 222.7h1.7v1.7h-1.7zM813.4 217.9h1.7v1.7h-1.7zM816.7 217.7h1.7v1.7h-1.7zM814.7 219.8h1.7v1.7h-1.7zM817.6 222.2h1.7v1.7h-1.7zM817.9 213.8h1.7v1.7h-1.7zM811.4 214.2h1.7v1.7h-1.7zM819.3 216.0h1.7v1.7h-1.7zM820.2 214.2h1.7v1.7h-1.7zM823.0 214.6h1.7v1.7h-1.7zM813.1 217.7h1.7v1.7h-1.7zM814.3 229.3h1.7v1.7h-1.7zM811.2 231.9h1.7v1.7h-1.7zM807.5 231.3h1.7v1.7h-1.7zM816.6 230.2h1.7v1.7h-1.7zM811.0 229.6h1.7v1.7h-1.7zM813.1 231.1h1.7v1.7h-1.7zM808.6 227.8h1.7v1.7h-1.7zM809.6 229.2h1.7v1.7h-1.7zM797.9 249.7h1.7v1.7h-1.7zM796.7 250.4h1.7v1.7h-1.7zM795.8 260.5h1.7v1.7h-1.7zM796.2 254.9h1.7v1.7h-1.7zM796.0 256.1h1.7v1.7h-1.7zM803.3 256.3h1.7v1.7h-1.7zM811.8 257.1h1.7v1.7h-1.7zM821.0 255.4h1.7v1.7h-1.7zM809.1 251.6h1.7v1.7h-1.7zM811.3 252.0h1.7v1.7h-1.7zM796.5 252.3h1.7v1.7h-1.7zM795.7 251.1h1.7v1.7h-1.7zM803.9 250.8h1.7v1.7h-1.7zM821.0 255.7h1.7v1.7h-1.7zM804.5 258.9h1.7v1.7h-1.7zM813.7 258.2h1.7v1.7h-1.7zM803.5 258.7h1.7v1.7h-1.7zM795.7 256.4h1.7v1.7h-1.7zM806.9 258.7h1.7v1.7h-1.7zM820.5 256.1h1.7v1.7h-1.7zM795.9 249.2h1.7v1.7h-1.7zM817.2 254.5h1.7v1.7h-1.7zM817.5 256.7h1.7v1.7h-1.7zM800.0 258.8h1.7v1.7h-1.7zM817.6 254.1h1.7v1.7h-1.7zM808.7 259.7h1.7v1.7h-1.7zM804.9 254.2h1.7v1.7h-1.7zM821.2 255.3h1.7v1.7h-1.7zM812.3 258.3h1.7v1.7h-1.7zM804.5 257.7h1.7v1.7h-1.7zM796.7 249.4h1.7v1.7h-1.7zM800.2 252.1h1.7v1.7h-1.7zM803.3 252.5h1.7v1.7h-1.7zM814.6 255.9h1.7v1.7h-1.7zM796.0 249.1h1.7v1.7h-1.7zM808.5 258.9h1.7v1.7h-1.7zM813.7 256.9h1.7v1.7h-1.7zM812.5 256.4h1.7v1.7h-1.7zM810.0 256.1h1.7v1.7h-1.7zM800.7 253.5h1.7v1.7h-1.7zM798.0 259.8h1.7v1.7h-1.7zM797.3 249.5h1.7v1.7h-1.7zM797.3 251.5h1.7v1.7h-1.7zM809.4 254.7h1.7v1.7h-1.7zM801.3 257.8h1.7v1.7h-1.7zM804.2 250.6h1.7v1.7h-1.7zM795.7 256.8h1.7v1.7h-1.7zM813.9 256.8h1.7v1.7h-1.7zM801.8 254.4h1.7v1.7h-1.7zM800.0 253.1h1.7v1.7h-1.7zM799.2 254.0h1.7v1.7h-1.7zM809.5 257.5h1.7v1.7h-1.7zM815.7 253.9h1.7v1.7h-1.7zM816.9 257.8h1.7v1.7h-1.7zM796.5 254.4h1.7v1.7h-1.7zM811.2 258.7h1.7v1.7h-1.7zM799.0 250.7h1.7v1.7h-1.7zM820.7 257.2h1.7v1.7h-1.7zM811.5 260.0h1.7v1.7h-1.7zM806.3 249.6h1.7v1.7h-1.7zM815.6 258.3h1.7v1.7h-1.7zM820.9 256.5h1.7v1.7h-1.7zM813.1 254.3h1.7v1.7h-1.7zM806.0 251.9h1.7v1.7h-1.7zM797.8 250.7h1.7v1.7h-1.7zM799.5 251.2h1.7v1.7h-1.7zM816.7 257.5h1.7v1.7h-1.7zM801.4 258.1h1.7v1.7h-1.7zM819.3 256.5h1.7v1.7h-1.7zM805.5 252.7h1.7v1.7h-1.7zM805.2 251.0h1.7v1.7h-1.7zM813.8 256.3h1.7v1.7h-1.7zM818.0 258.4h1.7v1.7h-1.7zM800.0 256.2h1.7v1.7h-1.7zM818.6 254.1h1.7v1.7h-1.7zM800.2 256.9h1.7v1.7h-1.7zM796.1 253.4h1.7v1.7h-1.7zM796.4 256.7h1.7v1.7h-1.7zM814.4 253.1h1.7v1.7h-1.7zM818.4 256.7h1.7v1.7h-1.7zM795.7 260.9h1.7v1.7h-1.7zM797.7 255.3h1.7v1.7h-1.7zM801.6 259.7h1.7v1.7h-1.7zM816.2 254.6h1.7v1.7h-1.7zM799.9 259.4h1.7v1.7h-1.7zM799.0 255.3h1.7v1.7h-1.7zM799.8 257.1h1.7v1.7h-1.7zM796.8 259.2h1.7v1.7h-1.7zM801.4 250.6h1.7v1.7h-1.7zM798.6 254.4h1.7v1.7h-1.7zM809.6 253.2h1.7v1.7h-1.7zM814.2 257.7h1.7v1.7h-1.7zM817.5 258.0h1.7v1.7h-1.7zM796.3 248.9h1.7v1.7h-1.7zM799.3 254.5h1.7v1.7h-1.7zM798.7 250.4h1.7v1.7h-1.7zM818.8 258.9h1.7v1.7h-1.7zM820.5 256.1h1.7v1.7h-1.7zM811.5 257.3h1.7v1.7h-1.7zM796.4 256.7h1.7v1.7h-1.7zM797.7 253.9h1.7v1.7h-1.7zM813.5 258.3h1.7v1.7h-1.7zM811.1 257.1h1.7v1.7h-1.7zM800.0 254.3h1.7v1.7h-1.7zM814.3 256.6h1.7v1.7h-1.7zM822.1 255.4h1.7v1.7h-1.7zM800.6 258.7h1.7v1.7h-1.7zM799.8 250.5h1.7v1.7h-1.7zM804.8 250.4h1.7v1.7h-1.7zM819.7 258.4h1.7v1.7h-1.7zM796.4 256.3h1.7v1.7h-1.7zM819.1 257.1h1.7v1.7h-1.7zM819.4 255.6h1.7v1.7h-1.7zM795.9 249.5h1.7v1.7h-1.7zM796.5 258.2h1.7v1.7h-1.7zM803.9 252.6h1.7v1.7h-1.7zM798.5 252.8h1.7v1.7h-1.7zM796.7 259.8h1.7v1.7h-1.7zM813.3 254.6h1.7v1.7h-1.7zM808.3 258.6h1.7v1.7h-1.7zM810.8 254.9h1.7v1.7h-1.7zM809.1 253.9h1.7v1.7h-1.7zM808.0 259.7h1.7v1.7h-1.7zM802.2 255.0h1.7v1.7h-1.7zM808.7 254.7h1.7v1.7h-1.7zM798.8 255.2h1.7v1.7h-1.7zM800.1 257.6h1.7v1.7h-1.7zM795.9 248.7h1.7v1.7h-1.7zM812.7 254.4h1.7v1.7h-1.7zM795.8 255.6h1.7v1.7h-1.7zM798.1 258.4h1.7v1.7h-1.7zM795.7 251.5h1.7v1.7h-1.7zM796.2 257.0h1.7v1.7h-1.7zM798.3 249.7h1.7v1.7h-1.7zM796.2 250.7h1.7v1.7h-1.7zM818.8 254.0h1.7v1.7h-1.7zM820.9 258.4h1.7v1.7h-1.7zM797.8 256.3h1.7v1.7h-1.7zM795.7 257.0h1.7v1.7h-1.7zM796.0 256.7h1.7v1.7h-1.7zM807.8 259.7h1.7v1.7h-1.7zM802.3 255.2h1.7v1.7h-1.7zM795.8 250.5h1.7v1.7h-1.7zM805.0 257.5h1.7v1.7h-1.7zM795.9 254.0h1.7v1.7h-1.7zM796.6 260.5h1.7v1.7h-1.7zM796.4 249.1h1.7v1.7h-1.7zM806.5 255.7h1.7v1.7h-1.7zM795.8 256.5h1.7v1.7h-1.7zM796.1 256.5h1.7v1.7h-1.7zM802.7 260.1h1.7v1.7h-1.7zM797.9 255.2h1.7v1.7h-1.7zM803.5 255.7h1.7v1.7h-1.7zM815.5 254.9h1.7v1.7h-1.7zM797.5 256.3h1.7v1.7h-1.7zM805.9 256.4h1.7v1.7h-1.7zM805.1 252.9h1.7v1.7h-1.7zM805.2 254.5h1.7v1.7h-1.7zM813.5 257.5h1.7v1.7h-1.7zM795.9 248.9h1.7v1.7h-1.7zM796.7 259.9h1.7v1.7h-1.7zM801.6 258.6h1.7v1.7h-1.7zM797.9 250.1h1.7v1.7h-1.7zM818.9 257.7h1.7v1.7h-1.7zM802.1 257.7h1.7v1.7h-1.7zM812.9 254.4h1.7v1.7h-1.7zM803.3 256.2h1.7v1.7h-1.7zM821.8 256.6h1.7v1.7h-1.7zM813.0 251.8h1.7v1.7h-1.7zM795.8 259.5h1.7v1.7h-1.7zM798.8 252.7h1.7v1.7h-1.7zM812.0 258.4h1.7v1.7h-1.7zM807.9 260.2h1.7v1.7h-1.7zM818.8 257.2h1.7v1.7h-1.7zM804.9 251.3h1.7v1.7h-1.7zM795.7 253.9h1.7v1.7h-1.7zM798.9 251.3h1.7v1.7h-1.7zM797.3 253.4h1.7v1.7h-1.7zM805.7 259.3h1.7v1.7h-1.7zM803.4 259.4h1.7v1.7h-1.7zM796.3 260.4h1.7v1.7h-1.7zM815.9 255.5h1.7v1.7h-1.7zM818.8 254.6h1.7v1.7h-1.7zM796.5 252.2h1.7v1.7h-1.7zM799.1 253.5h1.7v1.7h-1.7zM797.2 256.3h1.7v1.7h-1.7zM796.6 254.7h1.7v1.7h-1.7zM813.1 255.3h1.7v1.7h-1.7zM807.6 255.1h1.7v1.7h-1.7zM802.7 256.9h1.7v1.7h-1.7zM796.5 251.8h1.7v1.7h-1.7zM800.7 260.7h1.7v1.7h-1.7zM814.3 254.8h1.7v1.7h-1.7zM795.7 258.9h1.7v1.7h-1.7zM807.4 258.5h1.7v1.7h-1.7zM810.1 256.7h1.7v1.7h-1.7zM799.1 259.1h1.7v1.7h-1.7zM819.5 258.9h1.7v1.7h-1.7zM810.0 253.9h1.7v1.7h-1.7zM803.6 251.3h1.7v1.7h-1.7zM797.3 251.1h1.7v1.7h-1.7zM805.5 251.2h1.7v1.7h-1.7zM821.6 256.5h1.7v1.7h-1.7zM816.4 254.4h1.7v1.7h-1.7zM814.1 258.1h1.7v1.7h-1.7zM795.7 255.2h1.7v1.7h-1.7zM796.4 256.4h1.7v1.7h-1.7zM796.6 255.0h1.7v1.7h-1.7zM796.0 252.9h1.7v1.7h-1.7zM795.7 256.3h1.7v1.7h-1.7zM803.9 251.8h1.7v1.7h-1.7zM797.0 258.7h1.7v1.7h-1.7zM808.7 255.5h1.7v1.7h-1.7zM807.2 253.4h1.7v1.7h-1.7zM801.0 252.8h1.7v1.7h-1.7zM812.7 257.1h1.7v1.7h-1.7zM801.4 250.2h1.7v1.7h-1.7zM798.1 256.6h1.7v1.7h-1.7zM817.0 259.0h1.7v1.7h-1.7zM815.5 256.9h1.7v1.7h-1.7zM804.2 254.6h1.7v1.7h-1.7zM813.7 258.2h1.7v1.7h-1.7zM807.1 255.7h1.7v1.7h-1.7zM799.2 251.9h1.7v1.7h-1.7zM813.1 253.2h1.7v1.7h-1.7zM809.4 257.4h1.7v1.7h-1.7zM815.4 252.9h1.7v1.7h-1.7zM811.2 259.8h1.7v1.7h-1.7zM804.7 257.6h1.7v1.7h-1.7zM808.2 251.9h1.7v1.7h-1.7zM822.1 258.6h1.7v1.7h-1.7zM788.9 332.3h1.7v1.7h-1.7zM795.6 331.6h1.7v1.7h-1.7zM789.8 335.0h1.7v1.7h-1.7zM798.6 335.4h1.7v1.7h-1.7zM791.0 336.5h1.7v1.7h-1.7zM798.9 333.0h1.7v1.7h-1.7zM791.5 335.9h1.7v1.7h-1.7zM799.5 335.5h1.7v1.7h-1.7zM788.7 332.5h1.7v1.7h-1.7zM778.4 332.1h1.7v1.7h-1.7zM796.4 335.5h1.7v1.7h-1.7zM787.7 331.8h1.7v1.7h-1.7zM804.4 334.3h1.7v1.7h-1.7zM778.7 336.2h1.7v1.7h-1.7zM785.1 334.5h1.7v1.7h-1.7zM791.2 334.2h1.7v1.7h-1.7zM791.7 338.1h1.7v1.7h-1.7zM789.2 331.4h1.7v1.7h-1.7zM776.7 335.6h1.7v1.7h-1.7zM789.3 329.7h1.7v1.7h-1.7zM796.8 334.6h1.7v1.7h-1.7zM791.3 333.0h1.7v1.7h-1.7zM792.2 332.5h1.7v1.7h-1.7zM784.0 333.1h1.7v1.7h-1.7zM788.9 338.2h1.7v1.7h-1.7zM798.9 332.5h1.7v1.7h-1.7z" fill="#ff954e"/><path d="M822.4 209.1h1.7v1.7h-1.7zM813.0 206.2h1.7v1.7h-1.7zM814.7 208.0h1.7v1.7h-1.7zM810.8 204.1h1.7v1.7h-1.7zM824.3 204.0h1.7v1.7h-1.7zM824.2 208.9h1.7v1.7h-1.7zM811.5 204.0h1.7v1.7h-1.7zM811.1 210.6h1.7v1.7h-1.7zM824.5 205.1h1.7v1.7h-1.7zM810.9 207.3h1.7v1.7h-1.7zM819.2 206.3h1.7v1.7h-1.7zM822.7 207.8h1.7v1.7h-1.7zM808.4 204.3h1.7v1.7h-1.7zM812.3 209.1h1.7v1.7h-1.7zM810.4 205.4h1.7v1.7h-1.7zM808.8 205.3h1.7v1.7h-1.7zM818.6 210.2h1.7v1.7h-1.7zM808.9 205.7h1.7v1.7h-1.7zM814.1 204.0h1.7v1.7h-1.7zM823.2 205.2h1.7v1.7h-1.7zM821.4 209.6h1.7v1.7h-1.7zM818.3 209.8h1.7v1.7h-1.7zM820.9 209.5h1.7v1.7h-1.7zM821.9 209.2h1.7v1.7h-1.7zM811.6 203.8h1.7v1.7h-1.7zM813.4 209.3h1.7v1.7h-1.7zM822.1 206.5h1.7v1.7h-1.7zM822.5 210.5h1.7v1.7h-1.7zM823.5 206.3h1.7v1.7h-1.7zM814.4 208.0h1.7v1.7h-1.7zM816.1 210.3h1.7v1.7h-1.7zM817.2 208.4h1.7v1.7h-1.7zM821.7 208.0h1.7v1.7h-1.7zM817.2 208.6h1.7v1.7h-1.7zM821.3 208.1h1.7v1.7h-1.7zM816.6 207.2h1.7v1.7h-1.7zM823.7 208.9h1.7v1.7h-1.7zM814.3 207.8h1.7v1.7h-1.7zM822.0 208.6h1.7v1.7h-1.7zM817.9 206.0h1.7v1.7h-1.7zM823.2 207.4h1.7v1.7h-1.7zM815.2 207.4h1.7v1.7h-1.7zM818.5 208.6h1.7v1.7h-1.7zM815.0 207.2h1.7v1.7h-1.7zM815.7 209.0h1.7v1.7h-1.7zM819.8 205.9h1.7v1.7h-1.7zM822.0 208.9h1.7v1.7h-1.7zM818.2 208.9h1.7v1.7h-1.7zM815.7 208.4h1.7v1.7h-1.7zM821.4 206.2h1.7v1.7h-1.7zM817.8 208.6h1.7v1.7h-1.7zM820.2 207.5h1.7v1.7h-1.7zM823.4 207.5h1.7v1.7h-1.7zM816.5 208.0h1.7v1.7h-1.7zM820.3 208.8h1.7v1.7h-1.7zM819.6 206.4h1.7v1.7h-1.7zM822.6 209.0h1.7v1.7h-1.7zM819.2 206.4h1.7v1.7h-1.7zM830.6 203.2h1.7v1.7h-1.7zM859.1 203.2h1.7v1.7h-1.7zM836.1 209.2h1.7v1.7h-1.7zM843.6 207.2h1.7v1.7h-1.7zM827.6 207.2h1.7v1.7h-1.7zM827.1 211.7h1.7v1.7h-1.7zM810.9 218.5h1.7v1.7h-1.7zM807.8 222.0h1.7v1.7h-1.7zM817.1 217.8h1.7v1.7h-1.7zM817.3 223.1h1.7v1.7h-1.7zM815.7 221.2h1.7v1.7h-1.7zM810.6 221.9h1.7v1.7h-1.7zM815.7 219.3h1.7v1.7h-1.7zM814.9 223.6h1.7v1.7h-1.7zM816.6 218.4h1.7v1.7h-1.7zM814.0 223.1h1.7v1.7h-1.7zM804.2 221.5h1.7v1.7h-1.7zM810.5 218.3h1.7v1.7h-1.7zM811.9 222.8h1.7v1.7h-1.7zM820.5 220.9h1.7v1.7h-1.7zM817.3 223.2h1.7v1.7h-1.7zM820.2 221.4h1.7v1.7h-1.7zM810.2 219.8h1.7v1.7h-1.7zM815.1 218.0h1.7v1.7h-1.7zM813.3 222.4h1.7v1.7h-1.7zM812.4 219.3h1.7v1.7h-1.7zM804.1 222.9h1.7v1.7h-1.7zM815.8 223.2h1.7v1.7h-1.7zM816.7 215.8h1.7v1.7h-1.7zM822.5 214.5h1.7v1.7h-1.7zM808.9 228.5h1.7v1.7h-1.7zM809.9 229.4h1.7v1.7h-1.7zM798.1 335.5h1.7v1.7h-1.7zM786.6 335.8h1.7v1.7h-1.7zM792.4 337.6h1.7v1.7h-1.7zM785.8 335.8h1.7v1.7h-1.7zM793.5 335.0h1.7v1.7h-1.7zM796.5 335.9h1.7v1.7h-1.7zM799.7 335.9h1.7v1.7h-1.7zM793.8 337.4h1.7v1.7h-1.7zM790.4 336.9h1.7v1.7h-1.7zM799.5 335.7h1.7v1.7h-1.7zM788.8 337.2h1.7v1.7h-1.7zM793.2 334.9h1.7v1.7h-1.7zM792.1 336.4h1.7v1.7h-1.7zM791.8 337.8h1.7v1.7h-1.7zM794.3 335.1h1.7v1.7h-1.7zM798.5 335.3h1.7v1.7h-1.7zM796.2 334.3h1.7v1.7h-1.7zM791.8 337.7h1.7v1.7h-1.7zM798.8 333.8h1.7v1.7h-1.7zM790.2 336.9h1.7v1.7h-1.7zM790.4 337.0h1.7v1.7h-1.7zM792.9 335.2h1.7v1.7h-1.7zM795.7 336.1h1.7v1.7h-1.7zM795.1 334.2h1.7v1.7h-1.7zM792.7 335.0h1.7v1.7h-1.7zM793.2 335.0h1.7v1.7h-1.7zM795.6 336.3h1.7v1.7h-1.7zM789.5 335.2h1.7v1.7h-1.7zM788.1 337.5h1.7v1.7h-1.7zM800.5 334.9h1.7v1.7h-1.7zM798.6 335.3h1.7v1.7h-1.7zM786.9 337.1h1.7v1.7h-1.7zM798.9 333.7h1.7v1.7h-1.7zM792.6 334.4h1.7v1.7h-1.7zM798.9 336.1h1.7v1.7h-1.7zM790.7 334.8h1.7v1.7h-1.7zM794.3 333.4h1.7v1.7h-1.7zM800.0 335.0h1.7v1.7h-1.7zM795.5 336.3h1.7v1.7h-1.7zM789.2 337.2h1.7v1.7h-1.7zM793.4 334.7h1.7v1.7h-1.7zM794.3 336.3h1.7v1.7h-1.7zM792.7 336.8h1.7v1.7h-1.7zM800.3 335.2h1.7v1.7h-1.7zM796.1 337.1h1.7v1.7h-1.7zM798.7 336.2h1.7v1.7h-1.7zM792.3 336.2h1.7v1.7h-1.7zM795.8 333.4h1.7v1.7h-1.7zM794.7 336.5h1.7v1.7h-1.7zM788.8 336.2h1.7v1.7h-1.7zM797.0 334.7h1.7v1.7h-1.7zM797.9 335.5h1.7v1.7h-1.7zM786.4 337.6h1.7v1.7h-1.7zM797.9 334.0h1.7v1.7h-1.7zM793.2 335.0h1.7v1.7h-1.7zM793.5 334.4h1.7v1.7h-1.7zM799.4 334.4h1.7v1.7h-1.7zM789.5 336.3h1.7v1.7h-1.7zM792.9 335.7h1.7v1.7h-1.7zM794.4 337.3h1.7v1.7h-1.7zM788.7 335.6h1.7v1.7h-1.7zM790.0 337.5h1.7v1.7h-1.7zM793.4 334.0h1.7v1.7h-1.7zM788.4 335.2h1.7v1.7h-1.7zM798.9 334.8h1.7v1.7h-1.7zM792.8 335.3h1.7v1.7h-1.7zM788.1 334.7h1.7v1.7h-1.7zM788.2 335.1h1.7v1.7h-1.7zM795.7 337.3h1.7v1.7h-1.7zM789.6 336.4h1.7v1.7h-1.7zM790.0 334.6h1.7v1.7h-1.7zM787.6 336.8h1.7v1.7h-1.7zM793.6 335.1h1.7v1.7h-1.7zM789.6 334.9h1.7v1.7h-1.7zM798.7 334.8h1.7v1.7h-1.7zM795.6 333.4h1.7v1.7h-1.7zM793.1 335.5h1.7v1.7h-1.7zM795.5 333.6h1.7v1.7h-1.7zM797.7 336.5h1.7v1.7h-1.7zM787.1 337.7h1.7v1.7h-1.7zM793.0 337.7h1.7v1.7h-1.7zM793.1 335.4h1.7v1.7h-1.7zM790.6 335.6h1.7v1.7h-1.7zM792.5 334.7h1.7v1.7h-1.7zM790.2 335.9h1.7v1.7h-1.7zM797.1 334.7h1.7v1.7h-1.7zM787.9 337.5h1.7v1.7h-1.7zM791.6 337.3h1.7v1.7h-1.7zM792.9 336.2h1.7v1.7h-1.7zM790.5 334.7h1.7v1.7h-1.7zM789.6 334.5h1.7v1.7h-1.7zM790.2 337.0h1.7v1.7h-1.7zM786.8 336.6h1.7v1.7h-1.7zM792.4 336.3h1.7v1.7h-1.7zM791.0 334.6h1.7v1.7h-1.7zM788.0 336.0h1.7v1.7h-1.7zM790.6 335.2h1.7v1.7h-1.7zM795.8 333.8h1.7v1.7h-1.7zM785.9 337.1h1.7v1.7h-1.7zM793.1 337.4h1.7v1.7h-1.7zM791.6 335.7h1.7v1.7h-1.7zM793.2 336.4h1.7v1.7h-1.7zM790.5 335.0h1.7v1.7h-1.7zM792.4 336.6h1.7v1.7h-1.7zM793.5 336.4h1.7v1.7h-1.7zM795.1 334.4h1.7v1.7h-1.7zM792.6 334.9h1.7v1.7h-1.7zM796.0 334.7h1.7v1.7h-1.7zM788.6 335.0h1.7v1.7h-1.7zM794.4 335.4h1.7v1.7h-1.7zM786.4 335.9h1.7v1.7h-1.7zM799.6 333.9h1.7v1.7h-1.7zM794.3 335.0h1.7v1.7h-1.7zM795.3 336.9h1.7v1.7h-1.7zM794.0 333.5h1.7v1.7h-1.7zM789.3 337.7h1.7v1.7h-1.7zM788.7 338.0h1.7v1.7h-1.7zM786.7 335.8h1.7v1.7h-1.7zM792.4 336.2h1.7v1.7h-1.7zM799.6 335.2h1.7v1.7h-1.7zM798.2 335.5h1.7v1.7h-1.7zM795.2 336.9h1.7v1.7h-1.7zM799.4 334.4h1.7v1.7h-1.7zM785.8 337.2h1.7v1.7h-1.7zM792.8 337.4h1.7v1.7h-1.7zM798.8 334.3h1.7v1.7h-1.7zM790.5 335.1h1.7v1.7h-1.7zM787.8 334.9h1.7v1.7h-1.7zM790.0 335.7h1.7v1.7h-1.7zM789.8 337.6h1.7v1.7h-1.7zM782.1 337.1h1.7v1.7h-1.7zM785.5 335.4h1.7v1.7h-1.7zM792.2 337.1h1.7v1.7h-1.7zM784.2 340.0h1.7v1.7h-1.7zM792.9 336.3h1.7v1.7h-1.7zM797.4 337.6h1.7v1.7h-1.7zM790.0 337.2h1.7v1.7h-1.7zM795.1 337.5h1.7v1.7h-1.7zM788.0 337.1h1.7v1.7h-1.7zM791.0 337.7h1.7v1.7h-1.7zM787.6 335.9h1.7v1.7h-1.7zM794.7 337.5h1.7v1.7h-1.7zM791.1 339.7h1.7v1.7h-1.7zM792.6 338.3h1.7v1.7h-1.7zM793.4 335.8h1.7v1.7h-1.7zM793.8 333.7h1.7v1.7h-1.7zM784.6 338.1h1.7v1.7h-1.7zM790.2 335.3h1.7v1.7h-1.7zM785.6 337.5h1.7v1.7h-1.7zM787.5 338.9h1.7v1.7h-1.7zM788.7 333.9h1.7v1.7h-1.7zM792.0 336.4h1.7v1.7h-1.7zM789.0 336.9h1.7v1.7h-1.7zM788.2 338.4h1.7v1.7h-1.7zM795.6 336.9h1.7v1.7h-1.7zM791.8 339.3h1.7v1.7h-1.7zM779.0 339.3h1.7v1.7h-1.7zM791.2 337.9h1.7v1.7h-1.7zM786.6 334.6h1.7v1.7h-1.7zM792.4 336.7h1.7v1.7h-1.7zM792.8 336.2h1.7v1.7h-1.7zM797.3 336.0h1.7v1.7h-1.7zM787.7 338.9h1.7v1.7h-1.7zM793.2 334.8h1.7v1.7h-1.7zM787.8 333.5h1.7v1.7h-1.7zM773.3 341.1h1.7v1.7h-1.7zM778.2 338.7h1.7v1.7h-1.7zM777.5 336.4h1.7v1.7h-1.7zM775.0 338.4h1.7v1.7h-1.7zM775.1 337.7h1.7v1.7h-1.7zM779.7 338.5h1.7v1.7h-1.7zM777.5 336.1h1.7v1.7h-1.7zM775.6 337.7h1.7v1.7h-1.7zM773.1 339.5h1.7v1.7h-1.7zM775.1 339.9h1.7v1.7h-1.7zM776.5 338.4h1.7v1.7h-1.7zM775.1 339.3h1.7v1.7h-1.7zM775.8 341.5h1.7v1.7h-1.7zM780.9 338.9h1.7v1.7h-1.7zM804.1 319.6h1.7v1.7h-1.7zM775.6 355.6h1.7v1.7h-1.7zM772.1 341.1h1.7v1.7h-1.7zM773.1 339.1h1.7v1.7h-1.7zM791.1 342.6h1.7v1.7h-1.7zM793.1 342.6h1.7v1.7h-1.7zM805.1 341.6h1.7v1.7h-1.7zM818.1 338.1h1.7v1.7h-1.7zM809.1 335.6h1.7v1.7h-1.7zM817.6 333.1h1.7v1.7h-1.7z" fill="#ff4d27"/><path d="M822.5 260.6h1.7v1.7h-1.7zM823.1 253.3h1.7v1.7h-1.7z" fill="#1995f2"/><path d="M811.6 255.6h1.7v1.7h-1.7zM816.4 253.9h1.7v1.7h-1.7zM822.3 254.9h1.7v1.7h-1.7zM814.0 255.9h1.7v1.7h-1.7zM821.7 256.6h1.7v1.7h-1.7zM818.7 260.3h1.7v1.7h-1.7zM820.6 257.4h1.7v1.7h-1.7zM818.0 257.1h1.7v1.7h-1.7z" fill="#18cde3"/><path d="M815.9 254.6h1.7v1.7h-1.7zM820.8 255.1h1.7v1.7h-1.7zM814.3 260.9h1.7v1.7h-1.7zM820.2 254.4h1.7v1.7h-1.7zM810.7 261.0h1.7v1.7h-1.7zM811.9 254.7h1.7v1.7h-1.7z" fill="#4cf2ce"/><path d="M804.4 253.3h1.7v1.7h-1.7zM805.7 258.7h1.7v1.7h-1.7zM806.7 257.2h1.7v1.7h-1.7zM814.6 258.1h1.7v1.7h-1.7z" fill="#80feb3"/><path d="M810.6 253.7h1.7v1.7h-1.7zM816.5 256.1h1.7v1.7h-1.7zM803.7 258.1h1.7v1.7h-1.7zM817.5 256.3h1.7v1.7h-1.7zM810.9 259.2h1.7v1.7h-1.7z" fill="#b2f295"/><path d="M811.4 251.4h1.7v1.7h-1.7zM805.8 257.0h1.7v1.7h-1.7zM804.4 253.3h1.7v1.7h-1.7zM812.2 256.3h1.7v1.7h-1.7zM809.8 256.0h1.7v1.7h-1.7z" fill="#e6cd73"/></g>
<g fill="none" stroke="#000">
<rect x="242" y="54" width="510" height="103" stroke-width="2"/>
<rect x="752.5" y="54" width="109.5" height="103" stroke-width="2"/>
<rect x="752.5" y="157.5" width="109.5" height="495" stroke-width="2"/>
<rect x="241.4" y="157.5" width="510.6" height="495" stroke-width="1"/>
<path d="M241 157.5H863" stroke-width="3"/>
<path d="M752.3 53V653.5" stroke-width="3"/>
</g>
<g clip-path="url(#cm)"><g fill="#ffff00" stroke="#0a8a0a" stroke-width="1.1" stroke-linejoin="bevel"><path d="M559.3 355.4 L560.53 359 L564.34 359.06 L561.3 361.35 L562.42 364.99 L559.3 362.8 L556.18 364.99 L557.3 361.35 L554.26 359.06 L558.07 359Z"/><path d="M512.6 397.5 L513.83 401.1 L517.64 401.16 L514.6 403.45 L515.72 407.09 L512.6 404.9 L509.48 407.09 L510.6 403.45 L507.56 401.16 L511.37 401.1Z"/><path d="M534.3 400.4 L535.53 404 L539.34 404.06 L536.3 406.35 L537.42 409.99 L534.3 407.8 L531.18 409.99 L532.3 406.35 L529.26 404.06 L533.07 404Z"/><path d="M568.6 395.4 L569.83 399 L573.64 399.06 L570.6 401.35 L571.72 404.99 L568.6 402.8 L565.48 404.99 L566.6 401.35 L563.56 399.06 L567.37 399Z"/><path d="M557.4 410.4 L558.63 414 L562.44 414.06 L559.4 416.35 L560.52 419.99 L557.4 417.8 L554.28 419.99 L555.4 416.35 L552.36 414.06 L556.17 414Z"/><path d="M540.4 421.4 L541.63 425 L545.44 425.06 L542.4 427.35 L543.52 430.99 L540.4 428.8 L537.28 430.99 L538.4 427.35 L535.36 425.06 L539.17 425Z"/><path d="M508.6 431.8 L509.83 435.4 L513.64 435.46 L510.6 437.75 L511.72 441.39 L508.6 439.2 L505.48 441.39 L506.6 437.75 L503.56 435.46 L507.37 435.4Z"/><path d="M573.6 442.5 L574.83 446.1 L578.64 446.16 L575.6 448.45 L576.72 452.09 L573.6 449.9 L570.48 452.09 L571.6 448.45 L568.56 446.16 L572.37 446.1Z"/><path d="M510.3 453.7 L511.53 457.3 L515.34 457.36 L512.3 459.65 L513.42 463.29 L510.3 461.1 L507.18 463.29 L508.3 459.65 L505.26 457.36 L509.07 457.3Z"/><path d="M537.4 450.4 L538.63 454 L542.44 454.06 L539.4 456.35 L540.52 459.99 L537.4 457.8 L534.28 459.99 L535.4 456.35 L532.36 454.06 L536.17 454Z"/><path d="M546.4 468.5 L547.63 472.1 L551.44 472.16 L548.4 474.45 L549.52 478.09 L546.4 475.9 L543.28 478.09 L544.4 474.45 L541.36 472.16 L545.17 472.1Z"/><path d="M546.4 515.7 L547.63 519.3 L551.44 519.36 L548.4 521.65 L549.52 525.29 L546.4 523.1 L543.28 525.29 L544.4 521.65 L541.36 519.36 L545.17 519.3Z"/></g></g>
<text x="300.3" y="46.5" font-size="22.22" textLength="503" lengthAdjust="spacingAndGlyphs">SAETTA Lightning Mapping Array - 15/05/21</text>
<g font-size="10.42">
<text x="225" y="52" text-anchor="middle">15</text>
<text x="225" y="86.6" text-anchor="middle">10</text>
<text x="223.5" y="121.9" text-anchor="middle">5</text>
<text x="223.5" y="156.6" text-anchor="middle">0</text>
<text x="240.9" y="667" text-anchor="middle">5°E</text>
<text x="277.4" y="667" text-anchor="middle">5.5°E</text>
<text x="313.9" y="667" text-anchor="middle">6°E</text>
<text x="350.5" y="667" text-anchor="middle">6.5°E</text>
<text x="387.0" y="667" text-anchor="middle">7°E</text>
<text x="423.5" y="667" text-anchor="middle">7.5°E</text>
<text x="460.0" y="667" text-anchor="middle">8°E</text>
<text x="496.5" y="667" text-anchor="middle">8.5°E</text>
<text x="533.1" y="667" text-anchor="middle">9°E</text>
<text x="569.6" y="667" text-anchor="middle">9.5°E</text>
<text x="606.1" y="667" text-anchor="middle">10°E</text>
<text x="642.6" y="667" text-anchor="middle">10.5°E</text>
<text x="679.1" y="667" text-anchor="middle">11°E</text>
<text x="715.7" y="667" text-anchor="middle">11.5°E</text>
<text x="234" y="211.4" text-anchor="end">44.5°N</text>
<text x="234" y="261.6" text-anchor="end">44°N</text>
<text x="234" y="311.8" text-anchor="end">43.5°N</text>
<text x="234" y="362.6" text-anchor="end">43°N</text>
<text x="234" y="411.8" text-anchor="end">42.5°N</text>
<text x="234" y="462.0" text-anchor="end">42°N</text>
<text x="234" y="509.3" text-anchor="end">41.5°N</text>
<text x="234" y="559.2" text-anchor="end">41°N</text>
<text x="234" y="608.2" text-anchor="end">40.5°N</text>
<text x="234" y="654.7" text-anchor="end">40°N</text>
<text x="756" y="666.6" text-anchor="middle">0</text>
<text x="792" y="666.6" text-anchor="middle">5</text>
<text x="831" y="666.6" text-anchor="middle">10</text>
<text x="868.2" y="666.6" text-anchor="middle">15</text>
<text x="158.3" y="742.6" text-anchor="middle">0</text>
<text x="315.7" y="742.6" text-anchor="middle">2</text>
<text x="473.1" y="742.6" text-anchor="middle">4</text>
<text x="630.5" y="742.6" text-anchor="middle">6</text>
<text x="787.9" y="742.6" text-anchor="middle">8</text>
<text x="945.3" y="742.6" text-anchor="middle">10</text>
</g>
<text x="186" y="104.5" font-size="11.8">Km</text>
<text x="807.5" y="675.7" font-size="11.8">Km</text>
<g font-size="10.42">
<text y="83.8" style="fill:#000"><tspan x="772.8" text-anchor="middle">6</tspan><tspan x="785" text-anchor="middle">:</tspan><tspan x="828.9" text-anchor="end">6597</tspan></text>
<text y="94.2" style="fill:#f00"><tspan x="772.8" text-anchor="middle">7</tspan><tspan x="785" text-anchor="middle">:</tspan><tspan x="828.9" text-anchor="end">2435</tspan></text>
<text y="104.6" style="fill:#000"><tspan x="772.8" text-anchor="middle">8</tspan><tspan x="785" text-anchor="middle">:</tspan><tspan x="825.8" text-anchor="end">265</tspan></text>
<text y="115" style="fill:#000"><tspan x="772.8" text-anchor="middle">9</tspan><tspan x="785" text-anchor="middle">:</tspan><tspan x="825.8" text-anchor="end">101</tspan></text>
<text y="125.4" style="fill:#000"><tspan x="773" text-anchor="middle">10</tspan><tspan x="788.3" text-anchor="middle">:</tspan><tspan x="825.7" text-anchor="end">26</tspan></text>
<text y="135.8" style="fill:#000"><tspan x="773" text-anchor="middle">11</tspan><tspan x="788.3" text-anchor="middle">:</tspan><tspan x="822.2" text-anchor="end">1</tspan></text>
<text y="146.2" style="fill:#000"><tspan x="773" text-anchor="middle">12</tspan><tspan x="788.3" text-anchor="middle">:</tspan><tspan x="822.2" text-anchor="end">0</tspan></text>
</g>
<rect x="158.3" y="690.4" width="787" height="38" fill="url(#rb)" stroke="#000" stroke-width="1"/>
<g stroke="#000" stroke-width="1">
<path d="M158.3 728.4V732"/>
<path d="M315.7 728.4V732"/>
<path d="M473.1 728.4V732"/>
<path d="M630.5 728.4V732"/>
<path d="M787.9 728.4V732"/>
<path d="M945.3 728.4V732"/>
</g>
<text x="433" y="719" font-size="19.6" textLength="248.5" lengthAdjust="spacingAndGlyphs">from 14:30:00 to 14:39:59</text>
</svg></body></html>
